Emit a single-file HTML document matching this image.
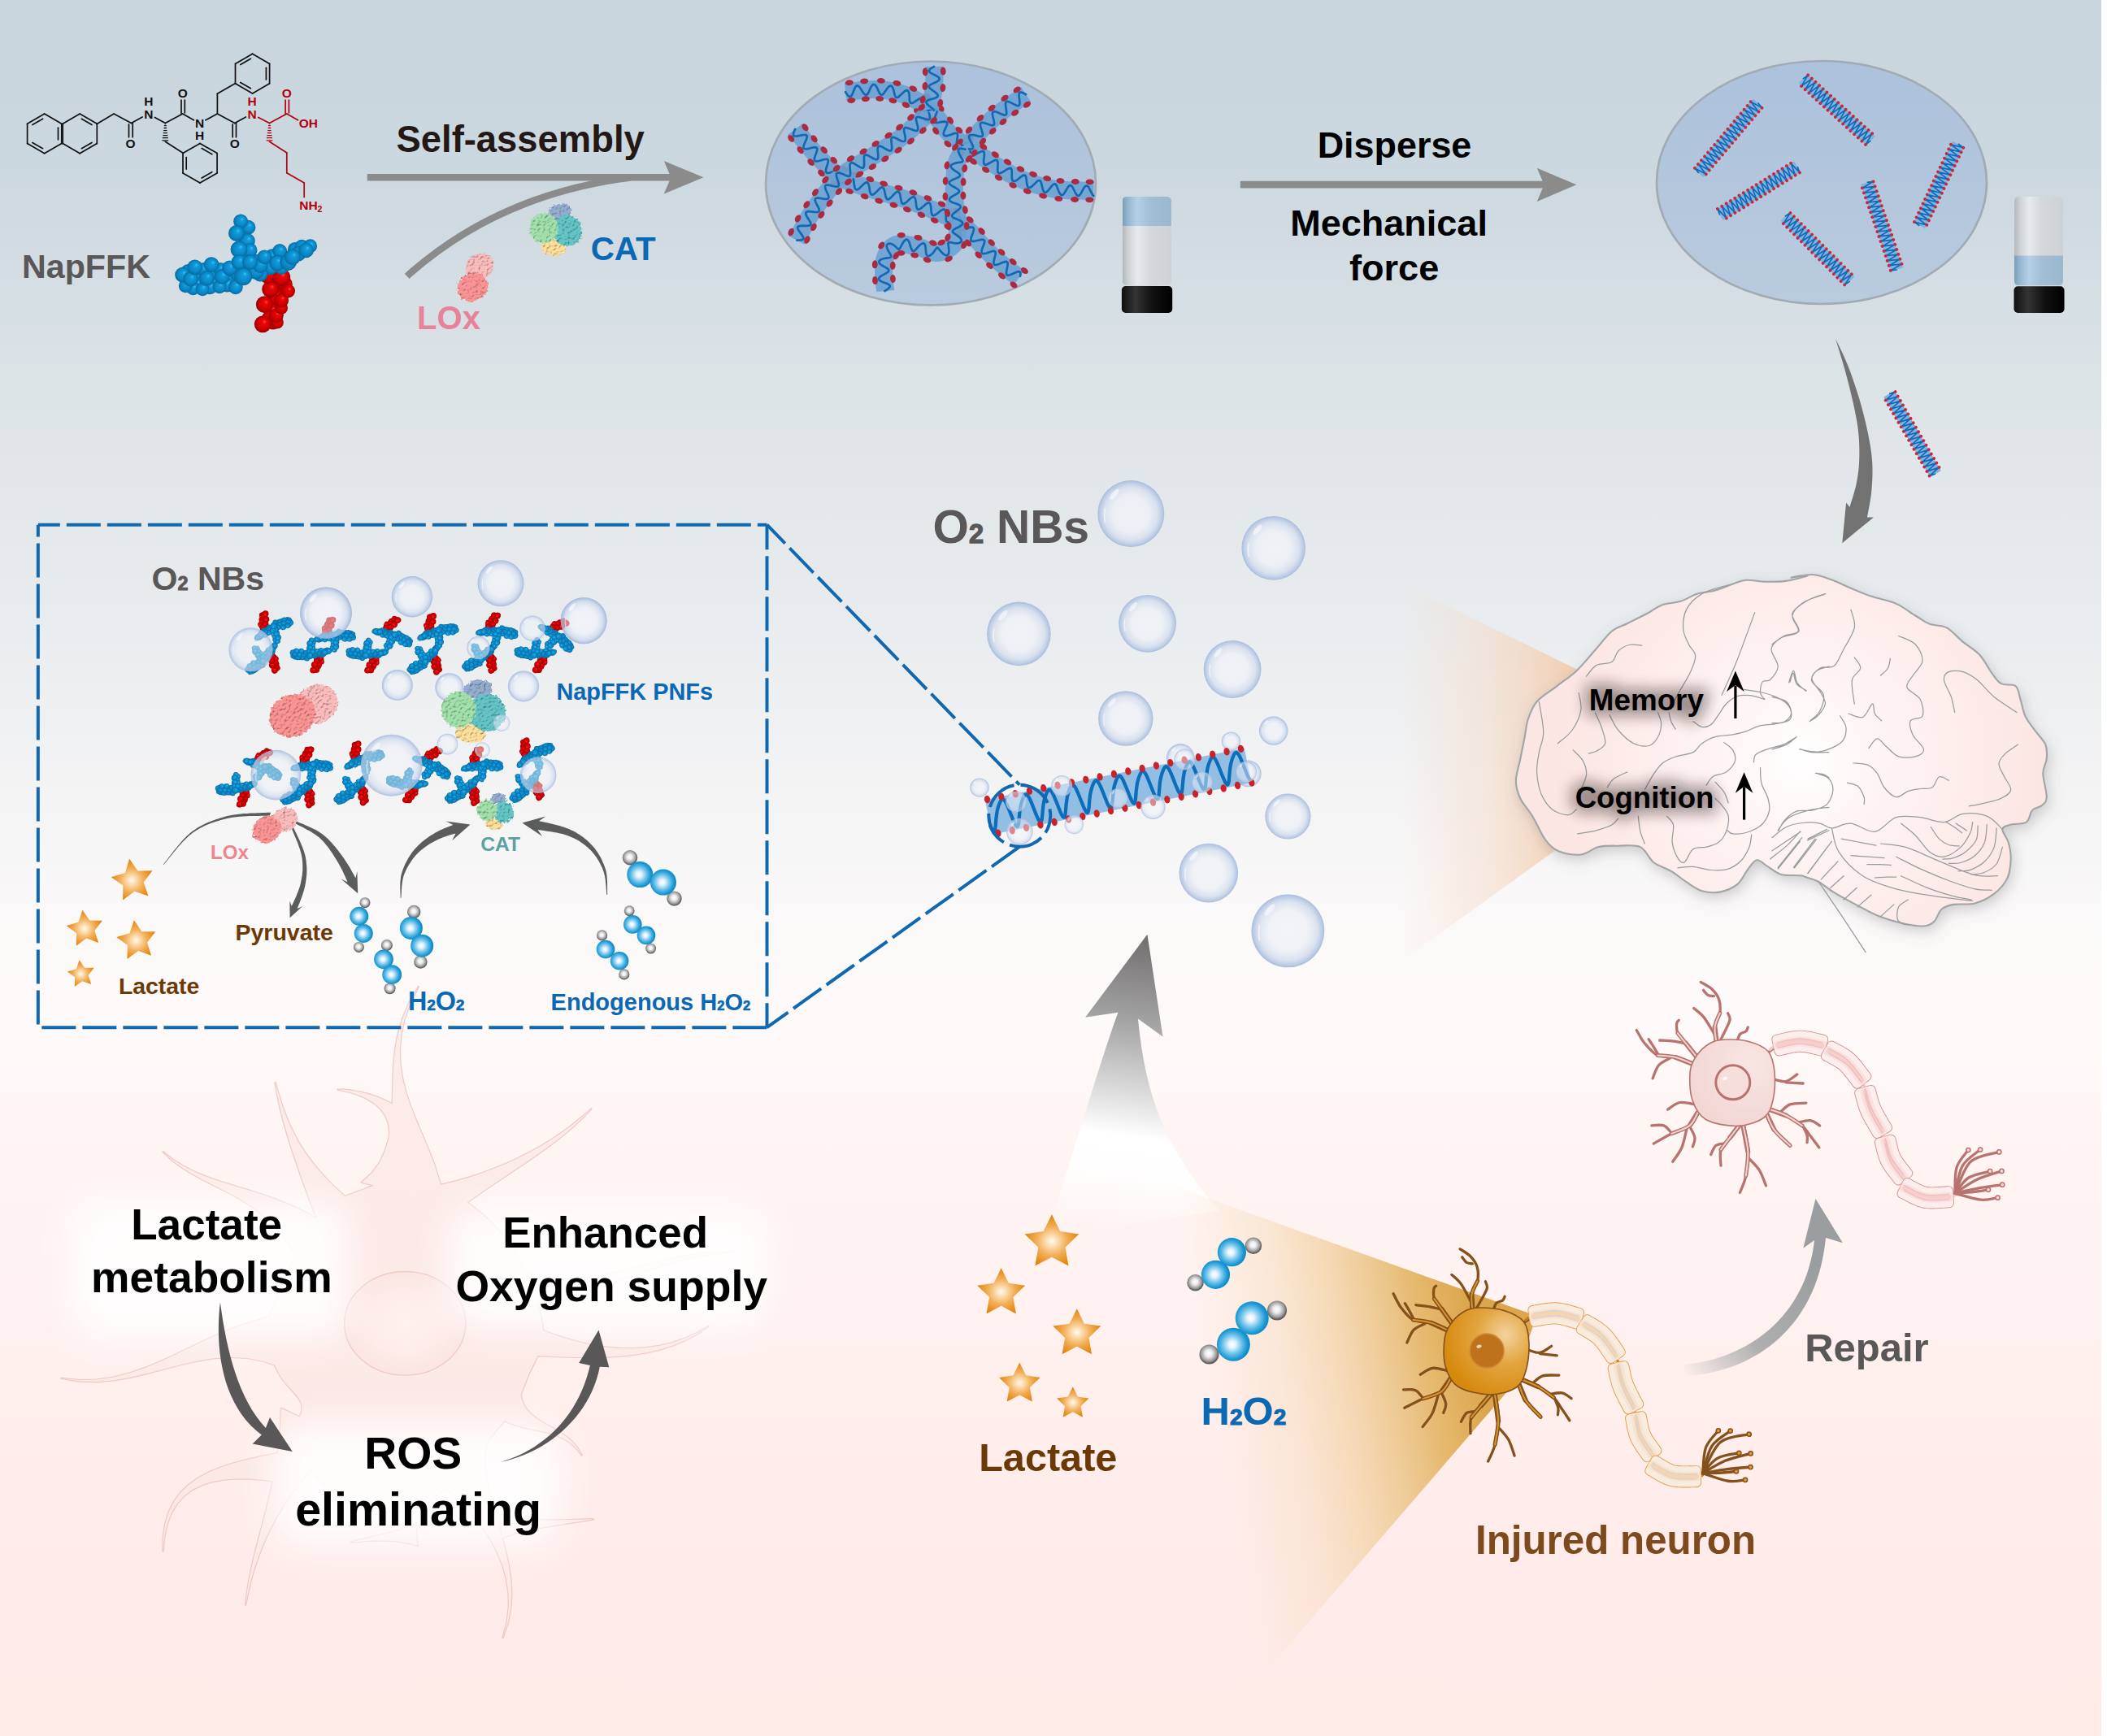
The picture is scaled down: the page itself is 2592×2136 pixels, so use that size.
<!DOCTYPE html>
<html><head><meta charset="utf-8"><title>Schematic</title>
<style>html,body{margin:0;padding:0;background:#fff;}svg{display:block;}text{font-family:"Liberation Sans",sans-serif;font-weight:bold;}</style>
</head><body>
<svg width="2592" height="2136" viewBox="0 0 2592 2136">
<defs>
<linearGradient id="bg" x1="0" y1="0" x2="0" y2="1">
<stop offset="0" stop-color="#c8d5dd"/>
<stop offset="0.10" stop-color="#ccd8df"/>
<stop offset="0.22" stop-color="#dce3e7"/>
<stop offset="0.33" stop-color="#e6eaed"/>
<stop offset="0.45" stop-color="#f3f3f4"/>
<stop offset="0.52" stop-color="#faf8f8"/>
<stop offset="0.59" stop-color="#fefaf9"/>
<stop offset="0.655" stop-color="#fff5f3"/>
<stop offset="0.745" stop-color="#fff2f0"/>
<stop offset="0.843" stop-color="#ffedeb"/>
<stop offset="1" stop-color="#ffeae8"/>
</linearGradient>
<radialGradient id="gnuc"><stop offset="0" stop-color="#fef1ef"/><stop offset="0.6" stop-color="#fdebe8"/><stop offset="1" stop-color="#fbe1de"/></radialGradient><filter id="wgl" x="-20%" y="-30%" width="140%" height="160%"><feGaussianBlur stdDeviation="20"/></filter>
<filter id="gsoft" x="-5%" y="-5%" width="110%" height="110%"><feGaussianBlur stdDeviation="0.5"/></filter>
<radialGradient id="sb" cx="0.5" cy="0.5" r="0.5" fx="0.62" fy="0.33">
<stop offset="0" stop-color="#3cc0f5"/><stop offset="0.25" stop-color="#119bdc"/><stop offset="0.7" stop-color="#0a86c6"/><stop offset="1" stop-color="#066a9f"/></radialGradient>
<radialGradient id="sr" cx="0.5" cy="0.5" r="0.5" fx="0.62" fy="0.33">
<stop offset="0" stop-color="#ff4a3c"/><stop offset="0.25" stop-color="#ea0606"/><stop offset="0.7" stop-color="#cf0000"/><stop offset="1" stop-color="#990000"/></radialGradient>
<g id="molg"><circle cx="15.7" cy="18.8" r="9.9" fill="url(#sr)"/><circle cx="24.0" cy="25.1" r="9.9" fill="url(#sr)"/><circle cx="18.8" cy="36.5" r="9.9" fill="url(#sr)"/><circle cx="14.6" cy="54.3" r="9.4" fill="url(#sr)"/><circle cx="11.5" cy="62.7" r="9.4" fill="url(#sr)"/><circle cx="30.3" cy="20.9" r="9.4" fill="url(#sr)"/><circle cx="15.7" cy="67.9" r="8.9" fill="url(#sr)"/><circle cx="20.9" cy="67.9" r="7.8" fill="url(#sr)"/><circle cx="3.1" cy="70.0" r="10.4" fill="url(#sr)"/><circle cx="19.8" cy="59.5" r="8.9" fill="url(#sr)"/><circle cx="5.2" cy="45.9" r="10.4" fill="url(#sr)"/><circle cx="26.1" cy="50.1" r="7.8" fill="url(#sr)"/><circle cx="26.1" cy="40.7" r="8.9" fill="url(#sr)"/><circle cx="34.5" cy="29.2" r="8.4" fill="url(#sr)"/><circle cx="12.5" cy="27.1" r="10.4" fill="url(#sr)"/><circle cx="9.4" cy="10.4" r="9.9" fill="url(#sr)"/><circle cx="26.1" cy="12.5" r="11.0" fill="url(#sr)"/><circle cx="-76.2" cy="11.5" r="9.4" fill="url(#sb)"/><circle cx="-56.4" cy="8.4" r="9.4" fill="url(#sb)"/><circle cx="-37.6" cy="14.6" r="9.4" fill="url(#sb)"/><circle cx="-57.4" cy="20.9" r="8.9" fill="url(#sb)"/><circle cx="-78.3" cy="20.9" r="8.9" fill="url(#sb)"/><circle cx="-28.2" cy="7.3" r="9.9" fill="url(#sb)"/><circle cx="-15.7" cy="3.1" r="9.9" fill="url(#sb)"/><circle cx="-7.3" cy="-6.3" r="9.9" fill="url(#sb)"/><circle cx="-19.8" cy="-15.7" r="9.4" fill="url(#sb)"/><circle cx="-20.9" cy="-39.7" r="8.9" fill="url(#sb)"/><circle cx="-19.8" cy="-26.1" r="9.4" fill="url(#sb)"/><circle cx="10.4" cy="-9.4" r="9.4" fill="url(#sb)"/><circle cx="14.6" cy="-13.6" r="8.9" fill="url(#sb)"/><circle cx="28.2" cy="-11.5" r="9.9" fill="url(#sb)"/><circle cx="42.8" cy="-21.9" r="8.9" fill="url(#sb)"/><circle cx="51.2" cy="-25.1" r="8.9" fill="url(#sb)"/><circle cx="12.5" cy="0.0" r="9.4" fill="url(#sb)"/><circle cx="26.1" cy="0.0" r="8.9" fill="url(#sb)"/><circle cx="0.0" cy="8.4" r="9.4" fill="url(#sb)"/><circle cx="-88.8" cy="5.2" r="8.9" fill="url(#sb)"/><circle cx="-70.0" cy="3.1" r="8.9" fill="url(#sb)"/><circle cx="-49.1" cy="3.1" r="8.9" fill="url(#sb)"/><circle cx="-40.7" cy="21.9" r="8.9" fill="url(#sb)"/><circle cx="-61.6" cy="25.1" r="8.4" fill="url(#sb)"/><circle cx="-82.5" cy="26.1" r="8.4" fill="url(#sb)"/><circle cx="-91.9" cy="23.0" r="8.4" fill="url(#sb)"/><circle cx="-71.0" cy="27.1" r="8.4" fill="url(#sb)"/><circle cx="-50.1" cy="24.0" r="8.4" fill="url(#sb)"/><circle cx="-30.3" cy="24.5" r="8.9" fill="url(#sb)"/><circle cx="-95.5" cy="9.4" r="9.4" fill="url(#sb)"/><circle cx="-85.6" cy="14.6" r="9.4" fill="url(#sb)"/><circle cx="-65.8" cy="13.6" r="9.4" fill="url(#sb)"/><circle cx="-47.0" cy="11.5" r="9.4" fill="url(#sb)"/><circle cx="-80.4" cy="0.0" r="9.4" fill="url(#sb)"/><circle cx="-60.0" cy="-3.1" r="9.4" fill="url(#sb)"/><circle cx="-37.6" cy="1.0" r="9.4" fill="url(#sb)"/><circle cx="-14.6" cy="-49.1" r="8.9" fill="url(#sb)"/><circle cx="-24.0" cy="-56.4" r="8.9" fill="url(#sb)"/><circle cx="-15.7" cy="-32.4" r="9.4" fill="url(#sb)"/><circle cx="-29.2" cy="-41.8" r="9.9" fill="url(#sb)"/><circle cx="-12.5" cy="-20.9" r="8.9" fill="url(#sb)"/><circle cx="-26.1" cy="-21.9" r="10.4" fill="url(#sb)"/><circle cx="-26.1" cy="-6.3" r="9.4" fill="url(#sb)"/><circle cx="-5.2" cy="5.2" r="9.9" fill="url(#sb)"/><circle cx="0.0" cy="-2.1" r="9.4" fill="url(#sb)"/><circle cx="5.2" cy="-12.5" r="8.9" fill="url(#sb)"/><circle cx="-12.5" cy="-6.3" r="9.4" fill="url(#sb)"/><circle cx="-20.9" cy="11.5" r="11.0" fill="url(#sb)"/><circle cx="24.0" cy="-19.8" r="8.9" fill="url(#sb)"/><circle cx="20.9" cy="-5.2" r="9.9" fill="url(#sb)"/><circle cx="61.6" cy="-26.1" r="8.4" fill="url(#sb)"/><circle cx="47.0" cy="-16.7" r="9.4" fill="url(#sb)"/><circle cx="56.4" cy="-20.9" r="9.4" fill="url(#sb)"/><circle cx="34.5" cy="-6.3" r="10.4" fill="url(#sb)"/><circle cx="39.7" cy="-12.5" r="9.9" fill="url(#sb)"/></g>
<g id="molm"><circle cx="15.7" cy="18.8" r="12.9" fill="url(#sr)"/><circle cx="24.0" cy="25.1" r="12.9" fill="url(#sr)"/><circle cx="18.8" cy="36.5" r="12.9" fill="url(#sr)"/><circle cx="14.6" cy="54.3" r="12.2" fill="url(#sr)"/><circle cx="11.5" cy="62.7" r="12.2" fill="url(#sr)"/><circle cx="30.3" cy="20.9" r="12.2" fill="url(#sr)"/><circle cx="15.7" cy="67.9" r="11.5" fill="url(#sr)"/><circle cx="20.9" cy="67.9" r="10.2" fill="url(#sr)"/><circle cx="3.1" cy="70.0" r="13.6" fill="url(#sr)"/><circle cx="19.8" cy="59.5" r="11.5" fill="url(#sr)"/><circle cx="5.2" cy="45.9" r="13.6" fill="url(#sr)"/><circle cx="26.1" cy="50.1" r="10.2" fill="url(#sr)"/><circle cx="26.1" cy="40.7" r="11.5" fill="url(#sr)"/><circle cx="34.5" cy="29.2" r="10.9" fill="url(#sr)"/><circle cx="12.5" cy="27.1" r="13.6" fill="url(#sr)"/><circle cx="9.4" cy="10.4" r="12.9" fill="url(#sr)"/><circle cx="26.1" cy="12.5" r="14.3" fill="url(#sr)"/><circle cx="-76.2" cy="11.5" r="12.2" fill="url(#sb)"/><circle cx="-56.4" cy="8.4" r="12.2" fill="url(#sb)"/><circle cx="-37.6" cy="14.6" r="12.2" fill="url(#sb)"/><circle cx="-57.4" cy="20.9" r="11.5" fill="url(#sb)"/><circle cx="-78.3" cy="20.9" r="11.5" fill="url(#sb)"/><circle cx="-28.2" cy="7.3" r="12.9" fill="url(#sb)"/><circle cx="-15.7" cy="3.1" r="12.9" fill="url(#sb)"/><circle cx="-7.3" cy="-6.3" r="12.9" fill="url(#sb)"/><circle cx="-19.8" cy="-15.7" r="12.2" fill="url(#sb)"/><circle cx="-20.9" cy="-39.7" r="11.5" fill="url(#sb)"/><circle cx="-19.8" cy="-26.1" r="12.2" fill="url(#sb)"/><circle cx="10.4" cy="-9.4" r="12.2" fill="url(#sb)"/><circle cx="14.6" cy="-13.6" r="11.5" fill="url(#sb)"/><circle cx="28.2" cy="-11.5" r="12.9" fill="url(#sb)"/><circle cx="42.8" cy="-21.9" r="11.5" fill="url(#sb)"/><circle cx="51.2" cy="-25.1" r="11.5" fill="url(#sb)"/><circle cx="12.5" cy="0.0" r="12.2" fill="url(#sb)"/><circle cx="26.1" cy="0.0" r="11.5" fill="url(#sb)"/><circle cx="0.0" cy="8.4" r="12.2" fill="url(#sb)"/><circle cx="-88.8" cy="5.2" r="11.5" fill="url(#sb)"/><circle cx="-70.0" cy="3.1" r="11.5" fill="url(#sb)"/><circle cx="-49.1" cy="3.1" r="11.5" fill="url(#sb)"/><circle cx="-40.7" cy="21.9" r="11.5" fill="url(#sb)"/><circle cx="-61.6" cy="25.1" r="10.9" fill="url(#sb)"/><circle cx="-82.5" cy="26.1" r="10.9" fill="url(#sb)"/><circle cx="-91.9" cy="23.0" r="10.9" fill="url(#sb)"/><circle cx="-71.0" cy="27.1" r="10.9" fill="url(#sb)"/><circle cx="-50.1" cy="24.0" r="10.9" fill="url(#sb)"/><circle cx="-30.3" cy="24.5" r="11.5" fill="url(#sb)"/><circle cx="-95.5" cy="9.4" r="12.2" fill="url(#sb)"/><circle cx="-85.6" cy="14.6" r="12.2" fill="url(#sb)"/><circle cx="-65.8" cy="13.6" r="12.2" fill="url(#sb)"/><circle cx="-47.0" cy="11.5" r="12.2" fill="url(#sb)"/><circle cx="-80.4" cy="0.0" r="12.2" fill="url(#sb)"/><circle cx="-60.0" cy="-3.1" r="12.2" fill="url(#sb)"/><circle cx="-37.6" cy="1.0" r="12.2" fill="url(#sb)"/><circle cx="-14.6" cy="-49.1" r="11.5" fill="url(#sb)"/><circle cx="-24.0" cy="-56.4" r="11.5" fill="url(#sb)"/><circle cx="-15.7" cy="-32.4" r="12.2" fill="url(#sb)"/><circle cx="-29.2" cy="-41.8" r="12.9" fill="url(#sb)"/><circle cx="-12.5" cy="-20.9" r="11.5" fill="url(#sb)"/><circle cx="-26.1" cy="-21.9" r="13.6" fill="url(#sb)"/><circle cx="-26.1" cy="-6.3" r="12.2" fill="url(#sb)"/><circle cx="-5.2" cy="5.2" r="12.9" fill="url(#sb)"/><circle cx="0.0" cy="-2.1" r="12.2" fill="url(#sb)"/><circle cx="5.2" cy="-12.5" r="11.5" fill="url(#sb)"/><circle cx="-12.5" cy="-6.3" r="12.2" fill="url(#sb)"/><circle cx="-20.9" cy="11.5" r="14.3" fill="url(#sb)"/><circle cx="24.0" cy="-19.8" r="11.5" fill="url(#sb)"/><circle cx="20.9" cy="-5.2" r="12.9" fill="url(#sb)"/><circle cx="61.6" cy="-26.1" r="10.9" fill="url(#sb)"/><circle cx="47.0" cy="-16.7" r="12.2" fill="url(#sb)"/><circle cx="56.4" cy="-20.9" r="12.2" fill="url(#sb)"/><circle cx="34.5" cy="-6.3" r="13.6" fill="url(#sb)"/><circle cx="39.7" cy="-12.5" r="12.9" fill="url(#sb)"/></g>
<linearGradient id="ell" x1="0" y1="0" x2="0" y2="1"><stop offset="0" stop-color="#acc1db"/><stop offset="1" stop-color="#b9cbde"/></linearGradient>
<linearGradient id="vg" x1="0" y1="0" x2="1" y2="0"><stop offset="0" stop-color="#b4b8bb"/><stop offset="0.12" stop-color="#cfd3d6"/><stop offset="0.3" stop-color="#e8ebee"/><stop offset="0.55" stop-color="#d6d9dc"/><stop offset="1" stop-color="#ced2d5"/></linearGradient>
<linearGradient id="vb" x1="0" y1="0" x2="1" y2="0"><stop offset="0" stop-color="#7b9fb8"/><stop offset="0.12" stop-color="#98b8d0"/><stop offset="0.3" stop-color="#b4d0e6"/><stop offset="0.55" stop-color="#a2bfd6"/><stop offset="1" stop-color="#9bb7cd"/></linearGradient>
<linearGradient id="vc" x1="0" y1="0" x2="1" y2="0"><stop offset="0" stop-color="#0e0e0e"/><stop offset="0.27" stop-color="#343434"/><stop offset="0.6" stop-color="#111"/><stop offset="1" stop-color="#000"/></linearGradient>
<clipPath id="v1"><rect x="1380.7" y="242" width="60.2" height="109" rx="5.2"/></clipPath>
<clipPath id="v2"><rect x="2478" y="242" width="60.2" height="109" rx="5.2"/></clipPath>
<radialGradient id="bub" cx="0.5" cy="0.5" r="0.5">
<stop offset="0" stop-color="#f1f3f7" stop-opacity="0.85"/>
<stop offset="0.55" stop-color="#eef1f6" stop-opacity="0.85"/>
<stop offset="0.8" stop-color="#d7e0ee" stop-opacity="0.88"/>
<stop offset="0.93" stop-color="#b9cae4" stop-opacity="0.92"/>
<stop offset="1" stop-color="#a3b9dc" stop-opacity="0.95"/></radialGradient>
<radialGradient id="bubt" cx="0.5" cy="0.5" r="0.5">
<stop offset="0" stop-color="#f3f5f9" stop-opacity="0.48"/>
<stop offset="0.6" stop-color="#eef1f7" stop-opacity="0.48"/>
<stop offset="0.85" stop-color="#d0dbee" stop-opacity="0.65"/>
<stop offset="1" stop-color="#a3b9dc" stop-opacity="0.85"/></radialGradient>
<g id="bb"><circle r="1" fill="url(#bub)"/><ellipse cx="-0.5" cy="-0.58" rx="0.2" ry="0.075" fill="#fff" fill-opacity="0.55" transform="rotate(-50 -0.5 -0.58)"/><path d="M-0.78 -0.15 Q-0.82 0.05 -0.78 0.25" stroke="#fff" stroke-opacity="0.6" stroke-width="0.04" fill="none" stroke-linecap="round"/></g>
<g id="bt"><circle r="1" fill="url(#bubt)"/><ellipse cx="-0.5" cy="-0.58" rx="0.2" ry="0.075" fill="#fff" fill-opacity="0.5" transform="rotate(-50 -0.5 -0.58)"/><path d="M-0.78 -0.15 Q-0.82 0.05 -0.78 0.25" stroke="#fff" stroke-opacity="0.55" stroke-width="0.04" fill="none" stroke-linecap="round"/></g>
<linearGradient id="beam1" gradientUnits="userSpaceOnUse" x1="1725" y1="0" x2="1930" y2="0"><stop offset="0" stop-color="#f5d8c2" stop-opacity="0"/><stop offset="0.5" stop-color="#f5d8c2" stop-opacity="0.45"/><stop offset="1" stop-color="#f2cdb0" stop-opacity="0.92"/></linearGradient>
<linearGradient id="garr" gradientUnits="userSpaceOnUse" x1="1420" y1="1150" x2="1370" y2="1515"><stop offset="0" stop-color="#6f6c6c"/><stop offset="0.3" stop-color="#a5a4a4"/><stop offset="0.5" stop-color="#d4d4d4"/><stop offset="0.68" stop-color="#ffffff"/><stop offset="0.8" stop-color="#ffffff" stop-opacity="0.9"/><stop offset="1" stop-color="#ffffff" stop-opacity="0"/></linearGradient>
<filter id="bump" x="-15%" y="-15%" width="130%" height="130%" color-interpolation-filters="sRGB">
<feTurbulence type="fractalNoise" baseFrequency="0.3" numOctaves="2" seed="4" result="n"/>
<feDisplacementMap in="SourceGraphic" in2="n" scale="6" xChannelSelector="R" yChannelSelector="G" result="d"/>
<feDiffuseLighting in="n" surfaceScale="1.6" diffuseConstant="1.18" lighting-color="#ffffff" result="l"><feDistantLight azimuth="235" elevation="60"/></feDiffuseLighting>
<feComposite in="l" in2="d" operator="arithmetic" k1="0.85" k2="0" k3="0.2" k4="0" result="m"/>
<feComposite in="m" in2="d" operator="in"/>
</filter>
<radialGradient id="brg" gradientUnits="userSpaceOnUse" cx="2215" cy="935" r="300">
<stop offset="0" stop-color="#ffffff"/><stop offset="0.35" stop-color="#fef4f3"/><stop offset="0.8" stop-color="#fdeae8"/><stop offset="1" stop-color="#fce6e4"/></radialGradient>
<filter id="bsh" x="-10%" y="-10%" width="120%" height="125%"><feGaussianBlur stdDeviation="9"/></filter>
<filter id="tsh" x="-20%" y="-60%" width="140%" height="220%"><feGaussianBlur stdDeviation="9"/></filter>
<linearGradient id="beam2" gradientUnits="userSpaceOnUse" x1="1490" y1="1720" x2="1815" y2="1660"><stop offset="0" stop-color="#f3d6a8" stop-opacity="0"/><stop offset="0.28" stop-color="#f1d0a0" stop-opacity="0.3"/><stop offset="0.55" stop-color="#ecc586" stop-opacity="0.62"/><stop offset="0.8" stop-color="#e4b566" stop-opacity="0.9"/><stop offset="1" stop-color="#dca74c" stop-opacity="1"/></linearGradient>
<radialGradient id="nbA" cx="0.72" cy="0.3" r="0.75"><stop offset="0" stop-color="#f3d39d"/><stop offset="0.45" stop-color="#e3a540"/><stop offset="1" stop-color="#d68a0d"/></radialGradient>
<radialGradient id="nbB" cx="0.7" cy="0.3" r="0.8"><stop offset="0" stop-color="#f8e6e2"/><stop offset="1" stop-color="#f2d5d1"/></radialGradient>
<linearGradient id="rep" gradientUnits="userSpaceOnUse" x1="2070" y1="1690" x2="2230" y2="1560"><stop offset="0" stop-color="#a0a3a4" stop-opacity="0"/><stop offset="0.45" stop-color="#a0a3a4" stop-opacity="0.85"/><stop offset="1" stop-color="#9b9ea0"/></linearGradient>
<radialGradient id="stg" cx="0.5" cy="0.52" r="0.5"><stop offset="0" stop-color="#fffaf3"/><stop offset="0.22" stop-color="#fbdcb0"/><stop offset="0.55" stop-color="#f3b05a"/><stop offset="1" stop-color="#e5850c"/></radialGradient>
<radialGradient id="hb" cx="0.46" cy="0.5" r="0.5"><stop offset="0" stop-color="#ffffff"/><stop offset="0.2" stop-color="#e8f5fc"/><stop offset="0.6" stop-color="#66bfe9"/><stop offset="0.9" stop-color="#1b98d3"/><stop offset="1" stop-color="#128cc8"/></radialGradient>
<radialGradient id="hg" cx="0.48" cy="0.45" r="0.5"><stop offset="0" stop-color="#ffffff"/><stop offset="0.35" stop-color="#ececec"/><stop offset="0.8" stop-color="#9a9a9a"/><stop offset="1" stop-color="#5e5e5e"/></radialGradient>
</defs>
<rect x="0" y="0" width="2585" height="2136" fill="url(#bg)"/>
<g filter="url(#gsoft)" opacity="0.75">
<path d="M547.0 1478.6 L541.1 1454.0 L534.0 1431.8 L526.3 1412.1 L518.6 1394.1 L511.4 1377.0 L504.8 1360.4 L499.3 1343.8 L495.1 1326.9 L492.5 1309.6 L491.8 1291.8 L493.4 1273.5 L497.5 1254.4 L504.6 1234.7 L514.8 1214.0 L514.8 1214.0 L503.2 1234.1 L495.0 1253.7 L489.5 1272.7 L486.1 1291.4 L484.2 1309.7 L483.4 1327.9 L483.0 1345.9 L482.5 1363.8 L481.2 1381.5 L478.6 1398.7 L474.0 1415.2 L467.1 1430.3 L457.4 1443.5 L444.8 1454.9 Z" fill="#fce8e5" stroke="#e9bcb7" stroke-width="2.4" stroke-linejoin="round"/>
<path d="M548.5 1499.8 L561.4 1489.4 L574.7 1479.5 L588.2 1469.9 L601.8 1460.5 L615.4 1451.4 L629.0 1442.3 L642.5 1433.3 L655.8 1424.2 L668.9 1415.0 L681.6 1405.6 L693.9 1395.9 L705.7 1385.8 L716.9 1375.4 L727.4 1364.3 L727.4 1364.3 L716.0 1374.3 L704.1 1383.9 L691.7 1393.1 L678.9 1401.8 L665.6 1410.0 L651.8 1417.6 L637.6 1424.8 L623.1 1431.5 L608.2 1437.6 L593.1 1443.3 L577.6 1448.4 L561.9 1453.0 L546.0 1457.0 L529.8 1460.5 Z" fill="#fce8e5" stroke="#e9bcb7" stroke-width="2.4" stroke-linejoin="round"/>
<path d="M438.1 1483.3 L424.2 1471.9 L411.7 1460.6 L400.6 1449.4 L390.7 1438.3 L382.0 1427.3 L374.3 1416.5 L367.6 1405.7 L361.8 1395.0 L356.7 1384.4 L352.2 1373.9 L348.3 1363.4 L344.9 1353.0 L341.7 1342.6 L338.6 1332.1 L338.6 1332.1 L340.3 1342.9 L342.5 1353.6 L344.9 1364.4 L347.6 1375.4 L350.7 1386.6 L354.0 1398.1 L357.7 1410.1 L361.8 1422.5 L366.3 1435.6 L371.1 1449.5 L376.4 1464.1 L382.2 1479.8 L388.5 1496.5 L395.2 1514.3 Z" fill="#fce8e5" stroke="#e9bcb7" stroke-width="2.4" stroke-linejoin="round"/>
<path d="M417.0 1516.2 L396.4 1503.0 L376.7 1492.1 L358.0 1483.2 L340.4 1476.0 L323.7 1470.1 L307.8 1465.0 L292.6 1460.4 L278.0 1455.9 L264.0 1451.4 L250.4 1446.4 L237.3 1440.8 L224.7 1434.2 L212.5 1426.4 L200.6 1417.2 L200.6 1417.2 L211.6 1427.5 L223.3 1436.3 L235.6 1444.0 L248.3 1451.0 L261.4 1457.6 L274.6 1464.2 L288.0 1471.3 L301.4 1479.1 L314.5 1488.0 L327.3 1498.2 L339.4 1510.1 L350.7 1523.8 L361.1 1539.6 L370.6 1558.0 Z" fill="#fce8e5" stroke="#e9bcb7" stroke-width="2.4" stroke-linejoin="round"/>
<path d="M380.8 1613.5 L350.9 1616.7 L323.6 1622.4 L298.9 1629.8 L276.5 1638.4 L255.6 1647.6 L235.8 1657.1 L216.6 1666.3 L197.6 1675.1 L178.5 1683.0 L159.2 1689.6 L139.4 1694.6 L119.0 1697.6 L97.7 1698.1 L75.4 1695.9 L75.4 1695.9 L97.7 1699.6 L119.1 1700.1 L140.0 1698.4 L160.5 1694.8 L180.8 1690.1 L201.0 1684.7 L221.3 1679.4 L241.8 1674.7 L262.5 1671.3 L283.4 1669.9 L304.2 1670.9 L324.8 1674.9 L344.8 1682.2 L365.1 1693.2 Z" fill="#fce8e5" stroke="#e9bcb7" stroke-width="2.4" stroke-linejoin="round"/>
<path d="M363.8 1784.0 L343.0 1787.8 L323.3 1791.6 L304.7 1795.8 L287.4 1800.3 L271.3 1805.6 L256.7 1811.6 L243.6 1818.7 L232.0 1826.9 L222.2 1836.4 L214.1 1847.4 L207.8 1859.9 L203.4 1874.2 L200.9 1890.3 L200.6 1908.5 L200.6 1908.5 L202.3 1890.5 L205.8 1874.8 L211.0 1861.3 L217.9 1850.0 L226.5 1840.6 L236.5 1833.1 L248.0 1827.4 L260.9 1823.2 L275.1 1820.6 L290.5 1819.4 L307.1 1819.6 L324.8 1821.0 L343.6 1823.7 L363.4 1827.5 Z" fill="#fce8e5" stroke="#e9bcb7" stroke-width="2.4" stroke-linejoin="round"/>
<path d="M345.8 1732.7 L345.3 1753.1 L343.7 1772.8 L341.3 1791.9 L338.2 1810.3 L334.5 1828.2 L330.5 1845.6 L326.2 1862.5 L321.9 1879.1 L317.6 1895.4 L313.5 1911.4 L309.8 1927.3 L306.5 1943.1 L303.9 1958.8 L302.2 1974.6 L302.2 1974.6 L305.3 1959.1 L309.0 1943.6 L313.5 1928.3 L318.7 1913.0 L324.8 1897.8 L331.7 1882.8 L339.6 1867.9 L348.4 1853.2 L358.1 1838.7 L368.9 1824.4 L380.8 1810.3 L393.8 1796.5 L408.0 1782.9 L423.5 1769.5 Z" fill="#fce8e5" stroke="#e9bcb7" stroke-width="2.4" stroke-linejoin="round"/>
<path d="M518.9 1802.8 L533.2 1816.0 L547.0 1828.8 L560.1 1841.3 L572.4 1854.1 L583.9 1867.2 L594.4 1881.0 L603.8 1895.3 L611.8 1910.4 L618.3 1926.2 L622.9 1942.6 L625.5 1959.6 L625.8 1977.3 L623.6 1995.7 L618.7 2014.8 L618.7 2014.8 L625.0 1996.0 L628.4 1977.5 L629.3 1959.5 L628.3 1941.7 L625.6 1924.2 L621.7 1906.9 L617.0 1889.7 L611.9 1872.5 L606.8 1855.3 L602.2 1838.1 L598.6 1821.0 L596.6 1804.1 L596.7 1787.9 L599.4 1772.5 Z" fill="#fce8e5" stroke="#e9bcb7" stroke-width="2.4" stroke-linejoin="round"/>
<path d="M589.2 1725.0 L600.7 1735.6 L612.4 1743.8 L623.6 1749.6 L634.3 1753.6 L644.3 1756.3 L653.8 1758.4 L662.9 1760.3 L671.6 1762.3 L680.1 1764.6 L688.1 1767.6 L695.8 1771.4 L702.9 1776.3 L709.5 1782.6 L715.6 1790.4 L715.6 1790.4 L710.6 1781.7 L704.6 1774.5 L697.8 1768.4 L690.4 1763.3 L682.7 1758.6 L674.8 1754.2 L667.0 1749.8 L659.6 1744.9 L653.0 1739.5 L647.4 1733.3 L643.4 1726.3 L641.1 1718.8 L640.6 1710.6 L641.7 1701.1 Z" fill="#fce8e5" stroke="#e9bcb7" stroke-width="2.4" stroke-linejoin="round"/>
<path d="M627.9 1666.7 L648.6 1667.6 L668.8 1668.5 L688.5 1669.4 L707.6 1669.9 L726.3 1670.1 L744.4 1669.8 L762.0 1668.8 L779.1 1667.0 L795.8 1664.3 L811.9 1660.5 L827.6 1655.6 L842.8 1649.3 L857.4 1641.6 L871.5 1632.1 L871.5 1632.1 L856.7 1640.3 L841.8 1647.0 L826.5 1652.2 L810.8 1656.0 L794.9 1658.3 L778.5 1659.3 L761.9 1659.0 L744.9 1657.5 L727.7 1654.7 L710.2 1650.8 L692.5 1645.7 L674.5 1639.6 L656.4 1632.5 L637.9 1624.4 Z" fill="#fce8e5" stroke="#e9bcb7" stroke-width="2.4" stroke-linejoin="round"/>
<path d="M621.0 1605.3 L644.5 1604.9 L666.7 1602.7 L687.4 1598.8 L707.1 1593.9 L726.1 1588.0 L744.7 1581.6 L763.1 1575.0 L781.6 1568.2 L800.5 1561.6 L819.7 1555.5 L839.6 1550.0 L860.3 1545.4 L881.9 1542.1 L904.6 1540.0 L904.6 1540.0 L881.8 1540.6 L859.9 1543.0 L838.9 1546.5 L818.5 1550.9 L798.7 1555.7 L779.3 1560.5 L760.2 1565.1 L741.3 1569.0 L722.5 1571.8 L703.9 1573.2 L685.4 1572.8 L667.1 1570.3 L649.0 1565.5 L630.8 1558.1 Z" fill="#fce8e5" stroke="#e9bcb7" stroke-width="2.4" stroke-linejoin="round"/>
<path d="M508.4 1375.8 L502.1 1370.8 L495.9 1366.3 L489.6 1362.3 L483.4 1358.7 L477.2 1355.5 L471.0 1352.6 L464.6 1350.0 L458.1 1347.7 L451.5 1345.7 L444.7 1344.0 L437.7 1342.6 L430.5 1341.5 L423.2 1340.8 L415.6 1340.6 L415.6 1340.6 L423.0 1342.2 L430.1 1343.9 L436.9 1345.9 L443.4 1348.3 L449.5 1351.0 L455.2 1354.2 L460.4 1357.7 L465.2 1361.7 L469.3 1366.0 L472.7 1370.7 L475.4 1375.8 L477.4 1381.1 L478.4 1386.6 L478.7 1392.4 Z" fill="#fce8e5" stroke="#e9bcb7" stroke-width="2.4" stroke-linejoin="round"/>
<path d="M617.4 1892.4 L625.3 1889.7 L633.3 1887.3 L641.3 1885.1 L649.3 1883.2 L657.3 1881.4 L665.3 1879.8 L673.4 1878.4 L681.4 1877.0 L689.5 1875.7 L697.5 1874.5 L705.6 1873.3 L713.7 1872.1 L721.7 1870.8 L729.8 1869.3 L729.8 1869.3 L721.6 1869.4 L713.4 1869.6 L705.3 1869.9 L697.2 1870.1 L689.0 1870.3 L680.9 1870.4 L672.7 1870.4 L664.6 1870.2 L656.4 1869.9 L648.2 1869.4 L640.0 1868.7 L631.8 1867.7 L623.6 1866.5 L615.3 1865.1 Z" fill="#fce8e5" stroke="#e9bcb7" stroke-width="2.4" stroke-linejoin="round"/>
<path d="M511.3 1874.5 L506.4 1877.0 L501.3 1879.2 L496.0 1881.2 L490.6 1883.0 L485.0 1884.6 L479.4 1886.1 L473.6 1887.5 L467.8 1888.8 L461.9 1890.1 L456.0 1891.4 L450.0 1892.8 L444.1 1894.2 L438.1 1895.8 L432.1 1897.6 L432.1 1897.6 L438.3 1897.2 L444.5 1896.6 L450.5 1896.1 L456.6 1895.8 L462.6 1895.5 L468.6 1895.4 L474.5 1895.5 L480.3 1895.7 L486.1 1896.2 L491.7 1896.8 L497.3 1897.7 L502.8 1898.8 L508.2 1900.2 L513.5 1901.8 Z" fill="#fce8e5" stroke="#e9bcb7" stroke-width="2.4" stroke-linejoin="round"/>
<path d="M408.5 1480.9 C420.3 1472.3 436.8 1467.6 451.0 1462.0 C465.2 1456.5 479.4 1448.7 493.5 1447.9 C507.7 1447.1 521.1 1451.0 536.1 1457.3 C551.0 1463.6 569.1 1474.6 583.3 1485.7 C597.5 1496.7 610.1 1509.3 621.1 1523.5 C632.1 1537.6 641.6 1551.0 649.4 1570.7 C657.3 1590.4 668.3 1621.1 668.3 1641.6 C668.3 1662.0 655.3 1678.6 649.4 1693.5 C643.5 1708.5 640.0 1719.5 632.9 1731.3 C625.8 1743.1 616.8 1751.8 606.9 1764.4 C597.1 1777.0 589.6 1792.0 573.8 1806.9 C558.1 1821.9 534.5 1846.3 512.4 1854.2 C490.4 1862.0 463.6 1862.0 441.6 1854.2 C419.5 1846.3 392.8 1822.7 380.2 1806.9 C367.6 1791.2 367.6 1773.1 366.0 1759.7 C364.4 1746.3 374.6 1738.4 370.7 1726.6 C366.8 1714.8 349.4 1703.8 342.4 1688.8 C335.3 1673.9 326.6 1656.5 328.2 1636.8 C329.8 1617.2 343.1 1591.2 351.8 1570.7 C360.5 1550.2 370.7 1529.0 380.2 1514.0 C389.6 1499.1 396.7 1489.6 408.5 1480.9 Z" fill="#fce8e5" stroke="#e9bcb7" stroke-width="2.4" stroke-linejoin="round"/>
<path d="M547.0 1478.6 L541.1 1454.0 L534.0 1431.8 L526.3 1412.1 L518.6 1394.1 L511.4 1377.0 L504.8 1360.4 L499.3 1343.8 L495.1 1326.9 L492.5 1309.6 L491.8 1291.8 L493.4 1273.5 L497.5 1254.4 L504.6 1234.7 L514.8 1214.0 L514.8 1214.0 L503.2 1234.1 L495.0 1253.7 L489.5 1272.7 L486.1 1291.4 L484.2 1309.7 L483.4 1327.9 L483.0 1345.9 L482.5 1363.8 L481.2 1381.5 L478.6 1398.7 L474.0 1415.2 L467.1 1430.3 L457.4 1443.5 L444.8 1454.9 Z" fill="#fce8e5"/>
<path d="M548.5 1499.8 L561.4 1489.4 L574.7 1479.5 L588.2 1469.9 L601.8 1460.5 L615.4 1451.4 L629.0 1442.3 L642.5 1433.3 L655.8 1424.2 L668.9 1415.0 L681.6 1405.6 L693.9 1395.9 L705.7 1385.8 L716.9 1375.4 L727.4 1364.3 L727.4 1364.3 L716.0 1374.3 L704.1 1383.9 L691.7 1393.1 L678.9 1401.8 L665.6 1410.0 L651.8 1417.6 L637.6 1424.8 L623.1 1431.5 L608.2 1437.6 L593.1 1443.3 L577.6 1448.4 L561.9 1453.0 L546.0 1457.0 L529.8 1460.5 Z" fill="#fce8e5"/>
<path d="M438.1 1483.3 L424.2 1471.9 L411.7 1460.6 L400.6 1449.4 L390.7 1438.3 L382.0 1427.3 L374.3 1416.5 L367.6 1405.7 L361.8 1395.0 L356.7 1384.4 L352.2 1373.9 L348.3 1363.4 L344.9 1353.0 L341.7 1342.6 L338.6 1332.1 L338.6 1332.1 L340.3 1342.9 L342.5 1353.6 L344.9 1364.4 L347.6 1375.4 L350.7 1386.6 L354.0 1398.1 L357.7 1410.1 L361.8 1422.5 L366.3 1435.6 L371.1 1449.5 L376.4 1464.1 L382.2 1479.8 L388.5 1496.5 L395.2 1514.3 Z" fill="#fce8e5"/>
<path d="M417.0 1516.2 L396.4 1503.0 L376.7 1492.1 L358.0 1483.2 L340.4 1476.0 L323.7 1470.1 L307.8 1465.0 L292.6 1460.4 L278.0 1455.9 L264.0 1451.4 L250.4 1446.4 L237.3 1440.8 L224.7 1434.2 L212.5 1426.4 L200.6 1417.2 L200.6 1417.2 L211.6 1427.5 L223.3 1436.3 L235.6 1444.0 L248.3 1451.0 L261.4 1457.6 L274.6 1464.2 L288.0 1471.3 L301.4 1479.1 L314.5 1488.0 L327.3 1498.2 L339.4 1510.1 L350.7 1523.8 L361.1 1539.6 L370.6 1558.0 Z" fill="#fce8e5"/>
<path d="M380.8 1613.5 L350.9 1616.7 L323.6 1622.4 L298.9 1629.8 L276.5 1638.4 L255.6 1647.6 L235.8 1657.1 L216.6 1666.3 L197.6 1675.1 L178.5 1683.0 L159.2 1689.6 L139.4 1694.6 L119.0 1697.6 L97.7 1698.1 L75.4 1695.9 L75.4 1695.9 L97.7 1699.6 L119.1 1700.1 L140.0 1698.4 L160.5 1694.8 L180.8 1690.1 L201.0 1684.7 L221.3 1679.4 L241.8 1674.7 L262.5 1671.3 L283.4 1669.9 L304.2 1670.9 L324.8 1674.9 L344.8 1682.2 L365.1 1693.2 Z" fill="#fce8e5"/>
<path d="M363.8 1784.0 L343.0 1787.8 L323.3 1791.6 L304.7 1795.8 L287.4 1800.3 L271.3 1805.6 L256.7 1811.6 L243.6 1818.7 L232.0 1826.9 L222.2 1836.4 L214.1 1847.4 L207.8 1859.9 L203.4 1874.2 L200.9 1890.3 L200.6 1908.5 L200.6 1908.5 L202.3 1890.5 L205.8 1874.8 L211.0 1861.3 L217.9 1850.0 L226.5 1840.6 L236.5 1833.1 L248.0 1827.4 L260.9 1823.2 L275.1 1820.6 L290.5 1819.4 L307.1 1819.6 L324.8 1821.0 L343.6 1823.7 L363.4 1827.5 Z" fill="#fce8e5"/>
<path d="M345.8 1732.7 L345.3 1753.1 L343.7 1772.8 L341.3 1791.9 L338.2 1810.3 L334.5 1828.2 L330.5 1845.6 L326.2 1862.5 L321.9 1879.1 L317.6 1895.4 L313.5 1911.4 L309.8 1927.3 L306.5 1943.1 L303.9 1958.8 L302.2 1974.6 L302.2 1974.6 L305.3 1959.1 L309.0 1943.6 L313.5 1928.3 L318.7 1913.0 L324.8 1897.8 L331.7 1882.8 L339.6 1867.9 L348.4 1853.2 L358.1 1838.7 L368.9 1824.4 L380.8 1810.3 L393.8 1796.5 L408.0 1782.9 L423.5 1769.5 Z" fill="#fce8e5"/>
<path d="M518.9 1802.8 L533.2 1816.0 L547.0 1828.8 L560.1 1841.3 L572.4 1854.1 L583.9 1867.2 L594.4 1881.0 L603.8 1895.3 L611.8 1910.4 L618.3 1926.2 L622.9 1942.6 L625.5 1959.6 L625.8 1977.3 L623.6 1995.7 L618.7 2014.8 L618.7 2014.8 L625.0 1996.0 L628.4 1977.5 L629.3 1959.5 L628.3 1941.7 L625.6 1924.2 L621.7 1906.9 L617.0 1889.7 L611.9 1872.5 L606.8 1855.3 L602.2 1838.1 L598.6 1821.0 L596.6 1804.1 L596.7 1787.9 L599.4 1772.5 Z" fill="#fce8e5"/>
<path d="M589.2 1725.0 L600.7 1735.6 L612.4 1743.8 L623.6 1749.6 L634.3 1753.6 L644.3 1756.3 L653.8 1758.4 L662.9 1760.3 L671.6 1762.3 L680.1 1764.6 L688.1 1767.6 L695.8 1771.4 L702.9 1776.3 L709.5 1782.6 L715.6 1790.4 L715.6 1790.4 L710.6 1781.7 L704.6 1774.5 L697.8 1768.4 L690.4 1763.3 L682.7 1758.6 L674.8 1754.2 L667.0 1749.8 L659.6 1744.9 L653.0 1739.5 L647.4 1733.3 L643.4 1726.3 L641.1 1718.8 L640.6 1710.6 L641.7 1701.1 Z" fill="#fce8e5"/>
<path d="M627.9 1666.7 L648.6 1667.6 L668.8 1668.5 L688.5 1669.4 L707.6 1669.9 L726.3 1670.1 L744.4 1669.8 L762.0 1668.8 L779.1 1667.0 L795.8 1664.3 L811.9 1660.5 L827.6 1655.6 L842.8 1649.3 L857.4 1641.6 L871.5 1632.1 L871.5 1632.1 L856.7 1640.3 L841.8 1647.0 L826.5 1652.2 L810.8 1656.0 L794.9 1658.3 L778.5 1659.3 L761.9 1659.0 L744.9 1657.5 L727.7 1654.7 L710.2 1650.8 L692.5 1645.7 L674.5 1639.6 L656.4 1632.5 L637.9 1624.4 Z" fill="#fce8e5"/>
<path d="M621.0 1605.3 L644.5 1604.9 L666.7 1602.7 L687.4 1598.8 L707.1 1593.9 L726.1 1588.0 L744.7 1581.6 L763.1 1575.0 L781.6 1568.2 L800.5 1561.6 L819.7 1555.5 L839.6 1550.0 L860.3 1545.4 L881.9 1542.1 L904.6 1540.0 L904.6 1540.0 L881.8 1540.6 L859.9 1543.0 L838.9 1546.5 L818.5 1550.9 L798.7 1555.7 L779.3 1560.5 L760.2 1565.1 L741.3 1569.0 L722.5 1571.8 L703.9 1573.2 L685.4 1572.8 L667.1 1570.3 L649.0 1565.5 L630.8 1558.1 Z" fill="#fce8e5"/>
<path d="M508.4 1375.8 L502.1 1370.8 L495.9 1366.3 L489.6 1362.3 L483.4 1358.7 L477.2 1355.5 L471.0 1352.6 L464.6 1350.0 L458.1 1347.7 L451.5 1345.7 L444.7 1344.0 L437.7 1342.6 L430.5 1341.5 L423.2 1340.8 L415.6 1340.6 L415.6 1340.6 L423.0 1342.2 L430.1 1343.9 L436.9 1345.9 L443.4 1348.3 L449.5 1351.0 L455.2 1354.2 L460.4 1357.7 L465.2 1361.7 L469.3 1366.0 L472.7 1370.7 L475.4 1375.8 L477.4 1381.1 L478.4 1386.6 L478.7 1392.4 Z" fill="#fce8e5"/>
<path d="M617.4 1892.4 L625.3 1889.7 L633.3 1887.3 L641.3 1885.1 L649.3 1883.2 L657.3 1881.4 L665.3 1879.8 L673.4 1878.4 L681.4 1877.0 L689.5 1875.7 L697.5 1874.5 L705.6 1873.3 L713.7 1872.1 L721.7 1870.8 L729.8 1869.3 L729.8 1869.3 L721.6 1869.4 L713.4 1869.6 L705.3 1869.9 L697.2 1870.1 L689.0 1870.3 L680.9 1870.4 L672.7 1870.4 L664.6 1870.2 L656.4 1869.9 L648.2 1869.4 L640.0 1868.7 L631.8 1867.7 L623.6 1866.5 L615.3 1865.1 Z" fill="#fce8e5"/>
<path d="M511.3 1874.5 L506.4 1877.0 L501.3 1879.2 L496.0 1881.2 L490.6 1883.0 L485.0 1884.6 L479.4 1886.1 L473.6 1887.5 L467.8 1888.8 L461.9 1890.1 L456.0 1891.4 L450.0 1892.8 L444.1 1894.2 L438.1 1895.8 L432.1 1897.6 L432.1 1897.6 L438.3 1897.2 L444.5 1896.6 L450.5 1896.1 L456.6 1895.8 L462.6 1895.5 L468.6 1895.4 L474.5 1895.5 L480.3 1895.7 L486.1 1896.2 L491.7 1896.8 L497.3 1897.7 L502.8 1898.8 L508.2 1900.2 L513.5 1901.8 Z" fill="#fce8e5"/>
<path d="M408.5 1480.9 C420.3 1472.3 436.8 1467.6 451.0 1462.0 C465.2 1456.5 479.4 1448.7 493.5 1447.9 C507.7 1447.1 521.1 1451.0 536.1 1457.3 C551.0 1463.6 569.1 1474.6 583.3 1485.7 C597.5 1496.7 610.1 1509.3 621.1 1523.5 C632.1 1537.6 641.6 1551.0 649.4 1570.7 C657.3 1590.4 668.3 1621.1 668.3 1641.6 C668.3 1662.0 655.3 1678.6 649.4 1693.5 C643.5 1708.5 640.0 1719.5 632.9 1731.3 C625.8 1743.1 616.8 1751.8 606.9 1764.4 C597.1 1777.0 589.6 1792.0 573.8 1806.9 C558.1 1821.9 534.5 1846.3 512.4 1854.2 C490.4 1862.0 463.6 1862.0 441.6 1854.2 C419.5 1846.3 392.8 1822.7 380.2 1806.9 C367.6 1791.2 367.6 1773.1 366.0 1759.7 C364.4 1746.3 374.6 1738.4 370.7 1726.6 C366.8 1714.8 349.4 1703.8 342.4 1688.8 C335.3 1673.9 326.6 1656.5 328.2 1636.8 C329.8 1617.2 343.1 1591.2 351.8 1570.7 C360.5 1550.2 370.7 1529.0 380.2 1514.0 C389.6 1499.1 396.7 1489.6 408.5 1480.9 Z" fill="#fce8e5"/>
<ellipse cx="498.3" cy="1628.3" rx="74.6" ry="63.8" fill="url(#gnuc)" stroke="#e9bcb7" stroke-width="1.3"/></g>
<rect x="85" y="1477" width="345" height="171" rx="40" fill="#fff" fill-opacity="0.88" filter="url(#wgl)"/>
<rect x="550" y="1486" width="395" height="150" rx="40" fill="#fff" fill-opacity="0.88" filter="url(#wgl)"/>
<rect x="335" y="1750" width="355" height="153" rx="40" fill="#fff" fill-opacity="0.88" filter="url(#wgl)"/>
<text x="161.2" y="1525.4" font-size="53.1" fill="#000" text-anchor="start" >Lactate</text>
<text x="112.0" y="1590.4" font-size="53.4" fill="#000" text-anchor="start" >metabolism</text>
<text x="618.2" y="1535.3" font-size="52.9" fill="#000" text-anchor="start" >Enhanced</text>
<text x="560.5" y="1601.0" font-size="53.5" fill="#000" text-anchor="start" >Oxygen supply</text>
<text x="448.2" y="1806.5" font-size="55.4" fill="#000" text-anchor="start" >ROS</text>
<text x="363.2" y="1876.5" font-size="57.4" fill="#000" text-anchor="start" >eliminating</text>
<path d="M 270.9 1602.3 C 263.7 1662.1 274.4 1730.5 321.8 1765.5 L 310.7 1776.6 L 359.8 1786.0 L 332.0 1744.1 L 326.9 1756.9 C 293.6 1721.9 278.6 1662.1 270.9 1602.3 Z" fill="#595757"/>
<path d="M 616.1 1798.8 C 673.7 1781.7 712.2 1739.0 725.9 1680.1 L 712.2 1677.1 L 736.5 1636.5 L 749.3 1682.2 L 737.8 1681.8 C 727.1 1739.0 678.0 1786.0 616.1 1798.8 Z" fill="#595757"/>
<g id="chem">
<line x1="54.7" y1="140.1" x2="75.8" y2="152.3" stroke="#111" stroke-width="1.7" stroke-linecap="round"/>
<line x1="75.8" y1="152.3" x2="75.8" y2="176.6" stroke="#111" stroke-width="1.7" stroke-linecap="round"/>
<line x1="75.8" y1="176.6" x2="54.7" y2="188.8" stroke="#111" stroke-width="1.7" stroke-linecap="round"/>
<line x1="54.7" y1="188.8" x2="33.6" y2="176.6" stroke="#111" stroke-width="1.7" stroke-linecap="round"/>
<line x1="33.6" y1="176.6" x2="33.6" y2="152.3" stroke="#111" stroke-width="1.7" stroke-linecap="round"/>
<line x1="33.6" y1="152.3" x2="54.7" y2="140.1" stroke="#111" stroke-width="1.7" stroke-linecap="round"/>
<line x1="71.5" y1="157.2" x2="71.5" y2="171.8" stroke="#111" stroke-width="1.7" stroke-linecap="round"/>
<line x1="52.6" y1="182.7" x2="39.9" y2="175.4" stroke="#111" stroke-width="1.7" stroke-linecap="round"/>
<line x1="39.9" y1="153.5" x2="52.6" y2="146.2" stroke="#111" stroke-width="1.7" stroke-linecap="round"/>
<line x1="98.2" y1="140.1" x2="119.3" y2="152.3" stroke="#111" stroke-width="1.7" stroke-linecap="round"/>
<line x1="119.3" y1="152.3" x2="119.3" y2="176.6" stroke="#111" stroke-width="1.7" stroke-linecap="round"/>
<line x1="119.3" y1="176.6" x2="98.2" y2="188.8" stroke="#111" stroke-width="1.7" stroke-linecap="round"/>
<line x1="98.2" y1="188.8" x2="77.2" y2="176.6" stroke="#111" stroke-width="1.7" stroke-linecap="round"/>
<line x1="77.2" y1="176.6" x2="77.2" y2="152.3" stroke="#111" stroke-width="1.7" stroke-linecap="round"/>
<line x1="77.2" y1="152.3" x2="98.2" y2="140.1" stroke="#111" stroke-width="1.7" stroke-linecap="round"/>
<line x1="100.4" y1="146.2" x2="113.0" y2="153.5" stroke="#111" stroke-width="1.7" stroke-linecap="round"/>
<line x1="113.0" y1="175.4" x2="100.4" y2="182.7" stroke="#111" stroke-width="1.7" stroke-linecap="round"/>
<line x1="119.2" y1="152.5" x2="140.1" y2="140.1" stroke="#111" stroke-width="1.7" stroke-linecap="round"/>
<line x1="140.1" y1="140.1" x2="161.5" y2="151.6" stroke="#111" stroke-width="1.7" stroke-linecap="round"/>
<line x1="163.2" y1="151.6" x2="163.2" y2="168.7" stroke="#111" stroke-width="1.7" stroke-linecap="round"/>
<line x1="158.5" y1="152.9" x2="158.5" y2="168.7" stroke="#111" stroke-width="1.7" stroke-linecap="round"/>
<text x="160.6" y="181.6" font-size="15.5" fill="#111" text-anchor="middle">O</text>
<line x1="161.5" y1="151.6" x2="175.1" y2="144.0" stroke="#111" stroke-width="1.7" stroke-linecap="round"/>
<text x="182.8" y="145.7" font-size="15.5" fill="#111" text-anchor="middle">N</text>
<text x="182.8" y="130.3" font-size="15.5" fill="#111" text-anchor="middle">H</text>
<line x1="190.5" y1="144.4" x2="203.3" y2="151.6" stroke="#111" stroke-width="1.7" stroke-linecap="round"/>
<line x1="202.5" y1="154.5" x2="204.2" y2="154.5" stroke="#111" stroke-width="1.3" stroke-linecap="round"/>
<line x1="202.1" y1="157.5" x2="204.6" y2="157.5" stroke="#111" stroke-width="1.3" stroke-linecap="round"/>
<line x1="201.6" y1="160.6" x2="205.0" y2="160.6" stroke="#111" stroke-width="1.3" stroke-linecap="round"/>
<line x1="201.2" y1="163.6" x2="205.5" y2="163.6" stroke="#111" stroke-width="1.3" stroke-linecap="round"/>
<line x1="200.8" y1="166.7" x2="205.9" y2="166.7" stroke="#111" stroke-width="1.3" stroke-linecap="round"/>
<line x1="200.3" y1="169.7" x2="206.3" y2="169.7" stroke="#111" stroke-width="1.3" stroke-linecap="round"/>
<line x1="199.9" y1="172.8" x2="206.7" y2="172.8" stroke="#111" stroke-width="1.3" stroke-linecap="round"/>
<line x1="203.3" y1="174.3" x2="224.7" y2="188.0" stroke="#111" stroke-width="1.7" stroke-linecap="round"/>
<line x1="246.0" y1="176.4" x2="267.1" y2="188.6" stroke="#111" stroke-width="1.7" stroke-linecap="round"/>
<line x1="267.1" y1="188.6" x2="267.1" y2="212.9" stroke="#111" stroke-width="1.7" stroke-linecap="round"/>
<line x1="267.1" y1="212.9" x2="246.0" y2="225.1" stroke="#111" stroke-width="1.7" stroke-linecap="round"/>
<line x1="246.0" y1="225.1" x2="225.0" y2="212.9" stroke="#111" stroke-width="1.7" stroke-linecap="round"/>
<line x1="225.0" y1="212.9" x2="225.0" y2="188.6" stroke="#111" stroke-width="1.7" stroke-linecap="round"/>
<line x1="225.0" y1="188.6" x2="246.0" y2="176.4" stroke="#111" stroke-width="1.7" stroke-linecap="round"/>
<line x1="248.2" y1="182.5" x2="260.8" y2="189.8" stroke="#111" stroke-width="1.7" stroke-linecap="round"/>
<line x1="260.8" y1="211.7" x2="248.2" y2="219.0" stroke="#111" stroke-width="1.7" stroke-linecap="round"/>
<line x1="229.2" y1="208.1" x2="229.2" y2="193.5" stroke="#111" stroke-width="1.7" stroke-linecap="round"/>
<line x1="203.3" y1="151.6" x2="224.7" y2="140.1" stroke="#111" stroke-width="1.7" stroke-linecap="round"/>
<line x1="223.0" y1="140.1" x2="223.0" y2="123.0" stroke="#111" stroke-width="1.7" stroke-linecap="round"/>
<line x1="227.3" y1="138.8" x2="227.3" y2="123.0" stroke="#111" stroke-width="1.7" stroke-linecap="round"/>
<text x="224.7" y="120.1" font-size="15.5" fill="#111" text-anchor="middle">O</text>
<line x1="224.7" y1="140.1" x2="238.4" y2="147.8" stroke="#111" stroke-width="1.7" stroke-linecap="round"/>
<text x="245.6" y="157.2" font-size="15.5" fill="#111" text-anchor="middle">N</text>
<text x="245.6" y="172.2" font-size="15.5" fill="#111" text-anchor="middle">H</text>
<line x1="252.9" y1="147.8" x2="267.4" y2="140.1" stroke="#111" stroke-width="1.7" stroke-linecap="round"/>
<line x1="267.4" y1="140.1" x2="267.4" y2="115.3" stroke="#111" stroke-width="1.7" stroke-linecap="round"/>
<line x1="267.4" y1="115.3" x2="289.6" y2="102.5" stroke="#111" stroke-width="1.7" stroke-linecap="round"/>
<line x1="310.6" y1="66.2" x2="331.6" y2="78.4" stroke="#111" stroke-width="1.7" stroke-linecap="round"/>
<line x1="331.6" y1="78.4" x2="331.6" y2="102.7" stroke="#111" stroke-width="1.7" stroke-linecap="round"/>
<line x1="331.6" y1="102.7" x2="310.6" y2="114.9" stroke="#111" stroke-width="1.7" stroke-linecap="round"/>
<line x1="310.6" y1="114.9" x2="289.5" y2="102.7" stroke="#111" stroke-width="1.7" stroke-linecap="round"/>
<line x1="289.5" y1="102.7" x2="289.5" y2="78.4" stroke="#111" stroke-width="1.7" stroke-linecap="round"/>
<line x1="289.5" y1="78.4" x2="310.6" y2="66.2" stroke="#111" stroke-width="1.7" stroke-linecap="round"/>
<line x1="327.4" y1="83.3" x2="327.4" y2="97.9" stroke="#111" stroke-width="1.7" stroke-linecap="round"/>
<line x1="308.4" y1="108.8" x2="295.8" y2="101.5" stroke="#111" stroke-width="1.7" stroke-linecap="round"/>
<line x1="295.8" y1="79.6" x2="308.4" y2="72.3" stroke="#111" stroke-width="1.7" stroke-linecap="round"/>
<line x1="267.4" y1="140.1" x2="288.8" y2="151.6" stroke="#111" stroke-width="1.7" stroke-linecap="round"/>
<line x1="290.5" y1="151.6" x2="290.5" y2="168.7" stroke="#111" stroke-width="1.7" stroke-linecap="round"/>
<line x1="286.2" y1="152.9" x2="286.2" y2="168.7" stroke="#111" stroke-width="1.7" stroke-linecap="round"/>
<text x="288.8" y="181.6" font-size="15.5" fill="#111" text-anchor="middle">O</text>
<line x1="288.8" y1="151.6" x2="302.4" y2="144.0" stroke="#111" stroke-width="1.7" stroke-linecap="round"/>
<text x="310.1" y="145.7" font-size="15.5" fill="#b3000f" text-anchor="middle">N</text>
<text x="310.1" y="130.3" font-size="15.5" fill="#b3000f" text-anchor="middle">H</text>
<line x1="317.8" y1="144.4" x2="331.5" y2="151.6" stroke="#b3000f" stroke-width="1.7" stroke-linecap="round"/>
<line x1="331.5" y1="151.6" x2="352.8" y2="140.1" stroke="#b3000f" stroke-width="1.7" stroke-linecap="round"/>
<line x1="351.1" y1="140.1" x2="351.1" y2="123.0" stroke="#b3000f" stroke-width="1.7" stroke-linecap="round"/>
<line x1="355.4" y1="138.8" x2="355.4" y2="123.0" stroke="#b3000f" stroke-width="1.7" stroke-linecap="round"/>
<text x="352.8" y="120.1" font-size="15.5" fill="#b3000f" text-anchor="middle">O</text>
<line x1="352.8" y1="140.1" x2="366.5" y2="147.8" stroke="#b3000f" stroke-width="1.7" stroke-linecap="round"/>
<text x="367.8" y="157.2" font-size="15.5" fill="#b3000f" text-anchor="start">OH</text>
<line x1="330.6" y1="154.5" x2="332.3" y2="154.5" stroke="#b3000f" stroke-width="1.3" stroke-linecap="round"/>
<line x1="330.2" y1="157.5" x2="332.8" y2="157.5" stroke="#b3000f" stroke-width="1.3" stroke-linecap="round"/>
<line x1="329.8" y1="160.6" x2="333.2" y2="160.6" stroke="#b3000f" stroke-width="1.3" stroke-linecap="round"/>
<line x1="329.3" y1="163.6" x2="333.6" y2="163.6" stroke="#b3000f" stroke-width="1.3" stroke-linecap="round"/>
<line x1="328.9" y1="166.7" x2="334.0" y2="166.7" stroke="#b3000f" stroke-width="1.3" stroke-linecap="round"/>
<line x1="328.5" y1="169.7" x2="334.5" y2="169.7" stroke="#b3000f" stroke-width="1.3" stroke-linecap="round"/>
<line x1="328.1" y1="172.8" x2="334.9" y2="172.8" stroke="#b3000f" stroke-width="1.3" stroke-linecap="round"/>
<line x1="331.5" y1="174.3" x2="352.8" y2="188.0" stroke="#b3000f" stroke-width="1.7" stroke-linecap="round"/>
<line x1="352.8" y1="188.0" x2="352.8" y2="212.7" stroke="#b3000f" stroke-width="1.7" stroke-linecap="round"/>
<line x1="352.8" y1="212.7" x2="374.2" y2="225.1" stroke="#b3000f" stroke-width="1.7" stroke-linecap="round"/>
<line x1="374.2" y1="225.1" x2="374.2" y2="242.6" stroke="#b3000f" stroke-width="1.7" stroke-linecap="round"/>
<text x="368.2" y="257.6" font-size="15.5" fill="#b3000f">NH<tspan font-size="10.5" dy="3">2</tspan></text>
</g>
<text x="27.0" y="342.0" font-size="41.2" fill="#595757" text-anchor="start" >NapFFK</text>
<use href="#molg" transform="translate(320.1 328.8)"/>
<path d="M451.8 218.3 H826" stroke="#8b8b8b" stroke-width="8.5" fill="none"/>
<path d="M500.7 339.8 C 553.9 292, 640 236, 775 218.5" stroke="#8b8b8b" stroke-width="8.5" fill="none"/>
<path d="M865.5 218.3 L816.8 198 L825.4 218.3 L816.8 238.6 Z" fill="#8b8b8b"/>
<text x="487.5" y="186.6" font-size="45.4" fill="#231815" text-anchor="start" >Self-assembly</text>
<text x="726.7" y="319.8" font-size="40.4" fill="#0b68b4" text-anchor="start" >CAT</text>
<text x="513.1" y="405.3" font-size="40.0" fill="#e8829b" text-anchor="start" >LOx</text>
<path d="M1525.8 227.2 H1900" stroke="#8b8b8b" stroke-width="8.7" fill="none"/>
<path d="M1939.3 227.2 L1890.8 206.8 L1899.5 227.2 L1890.8 247.9 Z" fill="#8b8b8b"/>
<text x="1620.7" y="194.4" font-size="44.9" fill="#000" text-anchor="start" >Disperse</text>
<text x="1587.3" y="290.0" font-size="45.0" fill="#000" text-anchor="start" >Mechanical</text>
<text x="1660.0" y="344.6" font-size="45.1" fill="#000" text-anchor="start" >force</text>
<ellipse cx="1145" cy="225.5" rx="203" ry="150" fill="url(#ell)" stroke="#a1abb3" stroke-width="2.7"/>
<ellipse cx="2241" cy="224.5" rx="203" ry="149.5" fill="url(#ell)" stroke="#a1abb3" stroke-width="2.7"/>
<g clip-path="url(#v1)"><rect x="1381" y="242" width="60" height="110" fill="url(#vg)"/><rect x="1381" y="242" width="60" height="36" fill="url(#vb)"/></g>
<rect x="1379.9" y="352" width="62.3" height="33" rx="4.8" fill="url(#vc)"/>
<g clip-path="url(#v2)"><rect x="2478" y="242" width="60" height="110" fill="url(#vg)"/><rect x="2478" y="314.5" width="60" height="38" fill="url(#vb)"/></g>
<rect x="2477.5" y="352.3" width="62" height="32.7" rx="4.8" fill="url(#vc)"/>
<g id="net">
<path d="M1040.1 113.2 L1043.1 112.9 L1046.1 112.6 L1049.1 112.2 L1052.1 111.9 L1055.0 111.6 L1058.0 111.3 L1061.0 111.0 L1064.0 110.7 L1067.0 110.5 L1070.0 110.3 L1073.0 110.2 L1076.0 110.1 L1079.1 110.1 L1082.1 110.3 L1085.1 110.5 L1088.1 110.8 L1091.0 111.2 L1094.0 111.7 L1097.0 112.2 L1099.9 112.8 L1102.8 113.5 L1105.7 114.3 L1108.6 115.2 L1111.5 116.2 L1114.3 117.2 L1117.1 118.4 L1119.8 119.6 L1122.5 120.9 L1125.2 122.3 L1127.8 123.8 L1130.4 125.3 L1133.0 126.9 L1135.5 128.6 L1137.9 130.3 L1140.3 132.1 L1142.6 134.0 L1144.9 136.0 L1147.1 138.1 L1149.1 140.3 L1151.1 142.6 L1153.0 144.9 L1154.8 147.3 L1156.5 149.8 L1158.3 152.2 L1160.1 154.6 L1161.9 157.0 L1163.7 159.4 L1165.7 161.7 L1167.7 163.9 L1169.9 166.0 L1172.1 168.0 L1174.5 169.9 L1176.9 171.7 L1179.4 173.4 L1181.9 175.1 L1184.4 176.7 L1186.9 178.3 L1189.4 180.0 L1191.9 181.7 L1194.4 183.4 L1196.9 185.1 L1199.3 186.8 L1201.8 188.5 L1204.3 190.2 L1206.8 191.9 L1209.3 193.6 L1211.8 195.2 L1214.3 196.9 L1216.8 198.5 L1219.4 200.2 L1221.9 201.8 L1224.5 203.3 L1227.1 204.9 L1229.7 206.4 L1232.2 207.9 L1234.8 209.5 L1237.4 211.0 L1240.1 212.4 L1242.7 213.9 L1245.4 215.3 L1248.0 216.7 L1250.7 218.0 L1253.4 219.3 L1256.2 220.5 L1259.0 221.7 L1261.8 222.8 L1264.6 223.9 L1267.4 224.9 L1270.3 225.9 L1273.1 226.8 L1276.0 227.7 L1278.9 228.6 L1281.8 229.4 L1284.7 230.1 L1287.6 230.8 L1290.6 231.4 L1293.5 232.0 L1296.5 232.5 L1299.5 232.9 L1302.4 233.3 L1305.4 233.6 L1308.4 233.8 L1311.4 234.0 L1314.4 234.2 L1317.4 234.3 L1320.4 234.4 L1323.5 234.5 L1326.5 234.6 L1329.5 234.6 L1332.5 234.7 L1335.5 234.7 L1338.5 234.8 L1341.5 234.8 L1344.5 234.9 L1345.5 234.9" stroke="#6ba2d2" stroke-opacity="0.9" stroke-width="22" fill="none" stroke-linejoin="round"/>
<path d="M1040.1 113.2 L1041.3 115.1 L1042.5 116.7 L1043.6 118.0 L1044.7 118.8 L1045.8 119.0 L1046.7 118.5 L1047.6 117.5 L1048.5 116.0 L1049.3 114.1 L1050.1 112.1 L1050.8 110.0 L1051.6 108.2 L1052.5 106.7 L1053.4 105.7 L1054.4 105.3 L1055.4 105.5 L1056.5 106.4 L1057.7 107.7 L1058.9 109.3 L1060.0 111.2 L1061.2 113.0 L1062.4 114.7 L1063.5 116.0 L1064.5 116.7 L1065.5 116.9 L1066.5 116.5 L1067.4 115.5 L1068.3 114.0 L1069.1 112.2 L1070.0 110.1 L1070.9 108.1 L1071.9 106.4 L1072.9 105.0 L1073.9 104.1 L1074.9 103.8 L1076.0 104.2 L1077.1 105.1 L1078.1 106.6 L1079.1 108.4 L1080.0 110.4 L1080.9 112.4 L1081.8 114.2 L1082.7 115.6 L1083.6 116.5 L1084.5 116.8 L1085.5 116.5 L1086.5 115.6 L1087.7 114.3 L1088.8 112.6 L1090.1 110.8 L1091.3 109.0 L1092.6 107.5 L1093.8 106.3 L1095.0 105.7 L1096.1 105.6 L1097.1 106.2 L1097.9 107.4 L1098.6 109.0 L1099.3 111.0 L1099.8 113.2 L1100.4 115.3 L1100.9 117.2 L1101.5 118.7 L1102.2 119.7 L1103.1 120.1 L1104.1 120.0 L1105.3 119.3 L1106.6 118.1 L1108.1 116.7 L1109.7 115.2 L1111.3 113.7 L1112.8 112.4 L1114.2 111.5 L1115.5 111.2 L1116.6 111.4 L1117.4 112.2 L1118.0 113.5 L1118.4 115.3 L1118.6 117.4 L1118.7 119.6 L1118.8 121.8 L1119.0 123.7 L1119.3 125.3 L1119.8 126.4 L1120.6 127.0 L1121.6 127.0 L1122.9 126.5 L1124.5 125.7 L1126.2 124.5 L1128.1 123.3 L1129.9 122.2 L1131.7 121.2 L1133.2 120.7 L1134.5 120.6 L1135.5 121.1 L1136.1 122.0 L1136.4 123.5 L1136.4 125.3 L1136.3 127.4 L1135.9 129.6 L1135.6 131.7 L1135.4 133.7 L1135.4 135.3 L1135.8 136.4 L1136.4 137.1 L1137.5 137.3 L1138.9 137.1 L1140.6 136.5 L1142.5 135.7 L1144.6 134.9 L1146.6 134.1 L1148.5 133.6 L1150.2 133.5 L1151.5 133.8 L1152.3 134.5 L1152.7 135.6 L1152.6 137.2 L1152.2 139.0 L1151.4 141.0 L1150.6 143.0 L1149.7 145.0 L1149.0 146.8 L1148.6 148.3 L1148.7 149.5 L1149.2 150.3 L1150.2 150.7 L1151.6 150.9 L1153.5 150.8 L1155.5 150.5 L1157.7 150.1 L1159.9 149.8 L1161.8 149.7 L1163.4 149.8 L1164.5 150.2 L1165.1 150.9 L1165.3 152.0 L1165.0 153.5 L1164.3 155.2 L1163.4 157.1 L1162.5 159.1 L1161.6 161.1 L1161.0 162.9 L1160.8 164.5 L1161.0 165.8 L1161.7 166.7 L1162.9 167.1 L1164.5 167.1 L1166.3 166.8 L1168.4 166.1 L1170.4 165.4 L1172.4 164.6 L1174.2 164.1 L1175.7 163.8 L1176.8 163.8 L1177.6 164.4 L1177.9 165.4 L1178.0 166.9 L1177.8 168.7 L1177.5 170.8 L1177.2 173.0 L1176.9 175.1 L1176.9 177.1 L1177.1 178.6 L1177.6 179.7 L1178.5 180.3 L1179.6 180.3 L1181.1 179.9 L1182.8 179.1 L1184.7 178.1 L1186.6 177.0 L1188.5 175.9 L1190.2 175.2 L1191.7 174.8 L1192.9 174.8 L1193.7 175.4 L1194.3 176.5 L1194.4 178.0 L1194.4 179.9 L1194.1 182.0 L1193.8 184.2 L1193.6 186.3 L1193.5 188.2 L1193.7 189.7 L1194.2 190.8 L1195.0 191.3 L1196.2 191.4 L1197.7 191.0 L1199.4 190.2 L1201.3 189.3 L1203.3 188.2 L1205.1 187.2 L1206.9 186.5 L1208.3 186.1 L1209.5 186.2 L1210.3 186.8 L1210.7 187.9 L1210.9 189.4 L1210.8 191.3 L1210.6 193.4 L1210.3 195.6 L1210.1 197.7 L1210.1 199.6 L1210.3 201.1 L1210.9 202.1 L1211.8 202.6 L1213.0 202.6 L1214.5 202.2 L1216.2 201.3 L1218.1 200.3 L1220.0 199.2 L1221.8 198.1 L1223.5 197.3 L1224.9 196.9 L1226.0 197.0 L1226.8 197.5 L1227.3 198.6 L1227.5 200.2 L1227.6 202.1 L1227.4 204.2 L1227.3 206.4 L1227.2 208.6 L1227.3 210.4 L1227.6 211.9 L1228.2 212.8 L1229.1 213.3 L1230.3 213.2 L1231.8 212.6 L1233.5 211.7 L1235.4 210.5 L1237.2 209.3 L1239.0 208.2 L1240.6 207.4 L1242.0 206.9 L1243.1 207.0 L1243.9 207.5 L1244.4 208.6 L1244.7 210.2 L1244.8 212.1 L1244.8 214.3 L1244.7 216.5 L1244.8 218.6 L1245.0 220.4 L1245.4 221.8 L1246.1 222.7 L1247.1 223.1 L1248.4 222.9 L1249.8 222.2 L1251.5 221.1 L1253.2 219.8 L1254.9 218.4 L1256.6 217.2 L1258.1 216.2 L1259.4 215.6 L1260.4 215.5 L1261.3 216.0 L1261.9 217.0 L1262.3 218.6 L1262.6 220.5 L1262.9 222.7 L1263.1 224.9 L1263.4 226.9 L1263.9 228.7 L1264.5 230.0 L1265.3 230.8 L1266.3 231.0 L1267.6 230.6 L1268.9 229.7 L1270.4 228.4 L1272.0 226.9 L1273.6 225.4 L1275.1 223.9 L1276.4 222.8 L1277.7 222.1 L1278.7 222.0 L1279.6 222.4 L1280.3 223.4 L1280.9 224.9 L1281.4 226.8 L1281.9 229.0 L1282.4 231.1 L1282.9 233.1 L1283.5 234.8 L1284.3 236.0 L1285.2 236.7 L1286.3 236.7 L1287.5 236.2 L1288.8 235.1 L1290.1 233.6 L1291.5 231.9 L1292.8 230.2 L1294.1 228.6 L1295.3 227.3 L1296.5 226.5 L1297.5 226.3 L1298.4 226.6 L1299.2 227.6 L1300.0 229.0 L1300.7 230.9 L1301.5 232.9 L1302.3 235.0 L1303.1 236.9 L1304.0 238.4 L1304.9 239.5 L1305.9 240.0 L1307.0 239.8 L1308.1 239.1 L1309.2 237.8 L1310.3 236.1 L1311.4 234.3 L1312.5 232.4 L1313.6 230.6 L1314.7 229.2 L1315.7 228.3 L1316.7 228.0 L1317.7 228.3 L1318.6 229.2 L1319.6 230.5 L1320.5 232.3 L1321.5 234.3 L1322.4 236.3 L1323.4 238.1 L1324.3 239.5 L1325.3 240.5 L1326.3 240.9 L1327.3 240.6 L1328.4 239.8 L1329.4 238.5 L1330.4 236.7 L1331.5 234.8 L1332.5 232.9 L1333.5 231.1 L1334.6 229.7 L1335.6 228.8 L1336.6 228.5 L1337.6 228.8 L1338.6 229.6 L1339.6 231.0 L1340.5 232.8 L1341.5 234.8 L1342.5 236.7 L1343.4 238.5 L1344.3 240.0 L1345.3 240.9" stroke="#1368b3" stroke-width="2.7" fill="none" stroke-linejoin="round" stroke-linecap="round"/>
<ellipse cx="1047.3" cy="123.5" rx="5.0" ry="3.4" fill="#ad2a3e" transform="rotate(-6 1047.3 123.5)"/>
<ellipse cx="1044.8" cy="101.7" rx="5.0" ry="3.4" fill="#ad2a3e" transform="rotate(-6 1044.8 101.7)"/>
<ellipse cx="1064.9" cy="121.7" rx="5.0" ry="3.4" fill="#ad2a3e" transform="rotate(-5 1064.9 121.7)"/>
<ellipse cx="1063.1" cy="99.8" rx="5.0" ry="3.4" fill="#ad2a3e" transform="rotate(-5 1063.1 99.8)"/>
<ellipse cx="1082.2" cy="121.3" rx="5.0" ry="3.4" fill="#ad2a3e" transform="rotate(4 1082.2 121.3)"/>
<ellipse cx="1083.9" cy="99.4" rx="5.0" ry="3.4" fill="#ad2a3e" transform="rotate(4 1083.9 99.4)"/>
<ellipse cx="1098.3" cy="123.8" rx="5.0" ry="3.4" fill="#ad2a3e" transform="rotate(13 1098.3 123.8)"/>
<ellipse cx="1103.4" cy="102.4" rx="5.0" ry="3.4" fill="#ad2a3e" transform="rotate(13 1103.4 102.4)"/>
<ellipse cx="1114.4" cy="129.2" rx="5.0" ry="3.4" fill="#ad2a3e" transform="rotate(24 1114.4 129.2)"/>
<ellipse cx="1123.4" cy="109.2" rx="5.0" ry="3.4" fill="#ad2a3e" transform="rotate(24 1123.4 109.2)"/>
<ellipse cx="1128.5" cy="137.1" rx="5.0" ry="3.4" fill="#ad2a3e" transform="rotate(34 1128.5 137.1)"/>
<ellipse cx="1140.8" cy="118.9" rx="5.0" ry="3.4" fill="#ad2a3e" transform="rotate(34 1140.8 118.9)"/>
<ellipse cx="1140.9" cy="147.6" rx="5.0" ry="3.4" fill="#ad2a3e" transform="rotate(48 1140.9 147.6)"/>
<ellipse cx="1157.4" cy="133.0" rx="5.0" ry="3.4" fill="#ad2a3e" transform="rotate(48 1157.4 133.0)"/>
<ellipse cx="1151.2" cy="161.1" rx="5.0" ry="3.4" fill="#ad2a3e" transform="rotate(54 1151.2 161.1)"/>
<ellipse cx="1169.0" cy="148.1" rx="5.0" ry="3.4" fill="#ad2a3e" transform="rotate(54 1169.0 148.1)"/>
<ellipse cx="1165.9" cy="177.1" rx="5.0" ry="3.4" fill="#ad2a3e" transform="rotate(39 1165.9 177.1)"/>
<ellipse cx="1179.9" cy="160.1" rx="5.0" ry="3.4" fill="#ad2a3e" transform="rotate(39 1179.9 160.1)"/>
<ellipse cx="1181.7" cy="188.1" rx="5.0" ry="3.4" fill="#ad2a3e" transform="rotate(33 1181.7 188.1)"/>
<ellipse cx="1193.8" cy="169.7" rx="5.0" ry="3.4" fill="#ad2a3e" transform="rotate(33 1193.8 169.7)"/>
<ellipse cx="1197.3" cy="198.7" rx="5.0" ry="3.4" fill="#ad2a3e" transform="rotate(34 1197.3 198.7)"/>
<ellipse cx="1209.7" cy="180.6" rx="5.0" ry="3.4" fill="#ad2a3e" transform="rotate(34 1209.7 180.6)"/>
<ellipse cx="1212.6" cy="208.9" rx="5.0" ry="3.4" fill="#ad2a3e" transform="rotate(33 1212.6 208.9)"/>
<ellipse cx="1224.4" cy="190.3" rx="5.0" ry="3.4" fill="#ad2a3e" transform="rotate(33 1224.4 190.3)"/>
<ellipse cx="1228.4" cy="218.5" rx="5.0" ry="3.4" fill="#ad2a3e" transform="rotate(30 1228.4 218.5)"/>
<ellipse cx="1239.5" cy="199.4" rx="5.0" ry="3.4" fill="#ad2a3e" transform="rotate(30 1239.5 199.4)"/>
<ellipse cx="1246.0" cy="227.9" rx="5.0" ry="3.4" fill="#ad2a3e" transform="rotate(26 1246.0 227.9)"/>
<ellipse cx="1255.5" cy="208.1" rx="5.0" ry="3.4" fill="#ad2a3e" transform="rotate(26 1255.5 208.1)"/>
<ellipse cx="1263.7" cy="235.2" rx="5.0" ry="3.4" fill="#ad2a3e" transform="rotate(20 1263.7 235.2)"/>
<ellipse cx="1271.1" cy="214.5" rx="5.0" ry="3.4" fill="#ad2a3e" transform="rotate(20 1271.1 214.5)"/>
<ellipse cx="1283.1" cy="241.0" rx="5.0" ry="3.4" fill="#ad2a3e" transform="rotate(13 1283.1 241.0)"/>
<ellipse cx="1288.2" cy="219.6" rx="5.0" ry="3.4" fill="#ad2a3e" transform="rotate(13 1288.2 219.6)"/>
<ellipse cx="1302.3" cy="244.4" rx="5.0" ry="3.4" fill="#ad2a3e" transform="rotate(6 1302.3 244.4)"/>
<ellipse cx="1304.5" cy="222.5" rx="5.0" ry="3.4" fill="#ad2a3e" transform="rotate(6 1304.5 222.5)"/>
<ellipse cx="1322.1" cy="245.5" rx="5.0" ry="3.4" fill="#ad2a3e" transform="rotate(2 1322.1 245.5)"/>
<ellipse cx="1322.8" cy="223.5" rx="5.0" ry="3.4" fill="#ad2a3e" transform="rotate(2 1322.8 223.5)"/>
<ellipse cx="1340.3" cy="245.8" rx="5.0" ry="3.4" fill="#ad2a3e" transform="rotate(1 1340.3 245.8)"/>
<ellipse cx="1340.7" cy="223.8" rx="5.0" ry="3.4" fill="#ad2a3e" transform="rotate(1 1340.7 223.8)"/>
<path d="M1149.0 82.0 L1149.1 85.0 L1149.2 88.0 L1149.3 91.0 L1149.4 94.0 L1149.4 97.0 L1149.4 100.0 L1149.3 103.0 L1149.1 106.0 L1148.8 109.0 L1148.3 112.0 L1147.8 114.9 L1147.3 117.9 L1146.7 120.8 L1146.1 123.8 L1145.5 126.7 L1144.9 129.7 L1144.3 132.6 L1143.9 134.6" stroke="#6ba2d2" stroke-opacity="0.9" stroke-width="22" fill="none" stroke-linejoin="round"/>
<path d="M1149.0 82.0 L1147.1 83.1 L1145.4 84.1 L1144.0 85.2 L1143.1 86.2 L1142.9 87.2 L1143.2 88.2 L1144.1 89.2 L1145.6 90.1 L1147.4 91.1 L1149.3 92.0 L1151.3 93.0 L1153.1 94.0 L1154.5 95.0 L1155.4 96.0 L1155.7 97.0 L1155.4 98.0 L1154.5 99.1 L1153.1 100.1 L1151.3 101.1 L1149.3 102.0 L1147.3 102.9 L1145.5 103.8 L1144.1 104.7 L1143.1 105.5 L1142.7 106.4 L1142.9 107.3 L1143.7 108.4 L1145.0 109.5 L1146.6 110.7 L1148.4 112.0 L1150.1 113.3 L1151.7 114.6 L1152.9 115.8 L1153.6 117.0 L1153.7 118.1 L1153.2 119.0 L1152.1 119.8 L1150.5 120.6 L1148.6 121.2 L1146.5 121.8 L1144.4 122.4 L1142.5 123.0 L1140.9 123.7 L1139.8 124.5 L1139.4 125.4 L1139.5 126.5 L1140.2 127.6 L1141.3 128.9 L1142.9 130.2 L1144.6 131.6 L1146.3 133.0 L1147.8 134.3 L1148.9 135.5" stroke="#1368b3" stroke-width="2.7" fill="none" stroke-linejoin="round" stroke-linecap="round"/>
<ellipse cx="1138.2" cy="88.4" rx="5.0" ry="3.4" fill="#ad2a3e" transform="rotate(88 1138.2 88.4)"/>
<ellipse cx="1160.2" cy="87.6" rx="5.0" ry="3.4" fill="#ad2a3e" transform="rotate(88 1160.2 87.6)"/>
<ellipse cx="1138.0" cy="105.9" rx="5.0" ry="3.4" fill="#ad2a3e" transform="rotate(96 1138.0 105.9)"/>
<ellipse cx="1159.9" cy="108.1" rx="5.0" ry="3.4" fill="#ad2a3e" transform="rotate(96 1159.9 108.1)"/>
<ellipse cx="1135.2" cy="122.5" rx="5.0" ry="3.4" fill="#ad2a3e" transform="rotate(102 1135.2 122.5)"/>
<ellipse cx="1156.7" cy="127.0" rx="5.0" ry="3.4" fill="#ad2a3e" transform="rotate(102 1156.7 127.0)"/>
<path d="M1262.2 116.2 L1259.7 117.9 L1257.3 119.6 L1254.8 121.3 L1252.3 123.0 L1249.8 124.7 L1247.3 126.4 L1244.8 128.1 L1242.4 129.8 L1239.9 131.6 L1237.4 133.3 L1235.0 135.1 L1232.6 136.9 L1230.2 138.8 L1227.9 140.7 L1225.6 142.6 L1223.3 144.6 L1221.0 146.5 L1218.8 148.5 L1216.5 150.6 L1214.3 152.6 L1212.2 154.7 L1210.0 156.8 L1207.9 158.9 L1205.7 161.1 L1203.7 163.3 L1201.7 165.5 L1199.8 167.8 L1197.9 170.2 L1196.1 172.6 L1194.3 175.0 L1192.5 177.5 L1190.8 179.9 L1189.6 181.5" stroke="#6ba2d2" stroke-opacity="0.9" stroke-width="22" fill="none" stroke-linejoin="round"/>
<path d="M1262.2 116.2 L1260.3 115.2 L1258.5 114.3 L1256.9 113.7 L1255.5 113.5 L1254.5 113.8 L1253.9 114.7 L1253.6 116.0 L1253.5 117.7 L1253.7 119.7 L1254.0 121.9 L1254.2 124.1 L1254.4 126.1 L1254.3 127.8 L1254.0 129.1 L1253.3 129.9 L1252.3 130.2 L1251.0 130.0 L1249.3 129.3 L1247.5 128.4 L1245.6 127.4 L1243.6 126.4 L1241.8 125.5 L1240.2 125.0 L1238.9 124.9 L1237.9 125.3 L1237.3 126.2 L1237.0 127.5 L1237.0 129.3 L1237.3 131.3 L1237.6 133.5 L1237.9 135.7 L1238.1 137.7 L1238.2 139.3 L1237.9 140.6 L1237.2 141.3 L1236.2 141.6 L1234.8 141.4 L1233.2 140.9 L1231.3 140.1 L1229.3 139.2 L1227.2 138.3 L1225.4 137.6 L1223.7 137.2 L1222.4 137.3 L1221.5 137.8 L1221.0 138.8 L1220.9 140.2 L1221.1 142.0 L1221.5 144.0 L1222.0 146.2 L1222.6 148.3 L1222.9 150.2 L1223.1 151.8 L1222.9 153.1 L1222.2 153.9 L1221.2 154.2 L1219.8 154.1 L1218.1 153.7 L1216.1 153.0 L1214.0 152.3 L1211.9 151.6 L1210.0 151.0 L1208.4 150.8 L1207.2 151.0 L1206.3 151.6 L1205.9 152.7 L1205.9 154.1 L1206.3 155.9 L1206.9 157.9 L1207.6 160.0 L1208.2 162.1 L1208.7 164.0 L1209.0 165.5 L1208.8 166.7 L1208.3 167.5 L1207.3 167.9 L1205.9 167.9 L1204.1 167.6 L1202.0 167.1 L1199.9 166.6 L1197.8 166.2 L1195.8 166.0 L1194.2 166.0 L1193.0 166.4 L1192.3 167.2 L1192.1 168.3 L1192.3 169.8 L1193.0 171.6 L1193.9 173.5 L1194.9 175.5 L1195.9 177.4 L1196.6 179.1 L1197.0 180.7 L1197.0 181.9 L1196.5 182.7 L1195.4 183.3 L1193.9 183.5 L1192.0 183.4" stroke="#1368b3" stroke-width="2.7" fill="none" stroke-linejoin="round" stroke-linecap="round"/>
<ellipse cx="1251.1" cy="110.5" rx="5.0" ry="3.4" fill="#ad2a3e" transform="rotate(146 1251.1 110.5)"/>
<ellipse cx="1263.4" cy="128.7" rx="5.0" ry="3.4" fill="#ad2a3e" transform="rotate(146 1263.4 128.7)"/>
<ellipse cx="1236.0" cy="120.8" rx="5.0" ry="3.4" fill="#ad2a3e" transform="rotate(145 1236.0 120.8)"/>
<ellipse cx="1248.7" cy="138.8" rx="5.0" ry="3.4" fill="#ad2a3e" transform="rotate(145 1248.7 138.8)"/>
<ellipse cx="1220.1" cy="132.8" rx="5.0" ry="3.4" fill="#ad2a3e" transform="rotate(140 1220.1 132.8)"/>
<ellipse cx="1234.1" cy="149.8" rx="5.0" ry="3.4" fill="#ad2a3e" transform="rotate(140 1234.1 149.8)"/>
<ellipse cx="1206.0" cy="145.3" rx="5.0" ry="3.4" fill="#ad2a3e" transform="rotate(137 1206.0 145.3)"/>
<ellipse cx="1221.2" cy="161.3" rx="5.0" ry="3.4" fill="#ad2a3e" transform="rotate(137 1221.2 161.3)"/>
<ellipse cx="1191.9" cy="160.1" rx="5.0" ry="3.4" fill="#ad2a3e" transform="rotate(130 1191.9 160.1)"/>
<ellipse cx="1208.9" cy="174.1" rx="5.0" ry="3.4" fill="#ad2a3e" transform="rotate(130 1208.9 174.1)"/>
<ellipse cx="1180.8" cy="174.9" rx="5.0" ry="3.4" fill="#ad2a3e" transform="rotate(127 1180.8 174.9)"/>
<ellipse cx="1198.4" cy="188.2" rx="5.0" ry="3.4" fill="#ad2a3e" transform="rotate(127 1198.4 188.2)"/>
<path d="M978.2 158.9 L980.0 161.3 L981.9 163.6 L983.7 166.0 L985.6 168.3 L987.5 170.7 L989.3 173.1 L991.2 175.4 L993.1 177.7 L995.0 180.1 L997.0 182.4 L998.9 184.7 L1000.9 186.9 L1002.9 189.1 L1005.0 191.3 L1007.0 193.5 L1009.1 195.7 L1011.1 197.9 L1013.2 200.1 L1015.3 202.3 L1017.4 204.4 L1019.5 206.5 L1021.7 208.6 L1024.0 210.6 L1026.3 212.5 L1028.6 214.4 L1031.1 216.1 L1033.6 217.8 L1036.2 219.3 L1038.8 220.7 L1041.5 222.1 L1044.3 223.3 L1047.1 224.4 L1049.9 225.5 L1052.7 226.5 L1055.5 227.4 L1058.4 228.4 L1061.3 229.3 L1064.1 230.2 L1067.0 231.1 L1069.9 232.0 L1072.7 233.0 L1075.6 233.9 L1078.4 234.8 L1081.3 235.7 L1084.2 236.6 L1087.1 237.4 L1090.0 238.2 L1092.9 239.0 L1095.8 239.8 L1098.7 240.6 L1101.6 241.4 L1104.5 242.3 L1107.3 243.2 L1110.2 244.1 L1113.1 245.0 L1115.9 246.0 L1118.7 247.0 L1121.6 248.0 L1124.4 249.1 L1127.2 250.1 L1130.0 251.2 L1132.8 252.3 L1135.6 253.3 L1138.4 254.5 L1141.2 255.6 L1144.0 256.7 L1146.7 257.9 L1149.5 259.1 L1152.3 260.3 L1155.0 261.5 L1157.7 262.8 L1160.5 264.1 L1163.2 265.4 L1165.9 266.7 L1168.6 268.0 L1171.3 269.3 L1173.9 270.8 L1176.5 272.3 L1179.1 273.8 L1181.6 275.5 L1184.1 277.2 L1186.5 279.0 L1188.8 280.9 L1191.0 282.9 L1193.2 285.0 L1195.2 287.2 L1197.3 289.4 L1199.2 291.7 L1201.2 294.0 L1203.1 296.3 L1205.1 298.6 L1207.0 300.9 L1209.0 303.1 L1211.0 305.4 L1213.1 307.5 L1215.2 309.7 L1217.4 311.7 L1219.6 313.8 L1221.8 315.8 L1224.0 317.8 L1226.3 319.8 L1228.6 321.8 L1230.9 323.7 L1233.1 325.7 L1235.5 327.6 L1237.8 329.5 L1240.1 331.4 L1242.5 333.2 L1244.9 335.1 L1247.3 336.9 L1249.7 338.7 L1252.1 340.5 L1253.7 341.7" stroke="#6ba2d2" stroke-opacity="0.9" stroke-width="22" fill="none" stroke-linejoin="round"/>
<path d="M978.2 158.9 L977.3 160.9 L976.5 162.8 L976.0 164.4 L975.9 165.7 L976.3 166.7 L977.2 167.3 L978.5 167.5 L980.2 167.5 L982.2 167.2 L984.4 166.7 L986.6 166.3 L988.5 166.0 L990.3 166.0 L991.6 166.2 L992.4 166.8 L992.8 167.8 L992.7 169.1 L992.2 170.8 L991.4 172.7 L990.5 174.7 L989.6 176.7 L988.9 178.6 L988.5 180.2 L988.4 181.6 L988.9 182.5 L989.8 183.1 L991.2 183.3 L992.9 183.1 L994.9 182.8 L997.1 182.3 L999.2 181.8 L1001.1 181.4 L1002.8 181.3 L1004.1 181.4 L1004.9 182.0 L1005.3 183.0 L1005.3 184.3 L1004.9 186.0 L1004.2 187.9 L1003.5 190.0 L1002.7 192.1 L1002.1 194.0 L1001.8 195.6 L1001.9 196.9 L1002.4 197.8 L1003.3 198.3 L1004.7 198.4 L1006.5 198.1 L1008.5 197.7 L1010.6 197.1 L1012.7 196.5 L1014.6 196.0 L1016.3 195.8 L1017.6 195.9 L1018.4 196.5 L1018.8 197.5 L1018.8 198.8 L1018.4 200.6 L1017.9 202.5 L1017.2 204.6 L1016.5 206.7 L1016.1 208.7 L1015.9 210.3 L1016.1 211.6 L1016.7 212.5 L1017.7 212.9 L1019.2 212.9 L1020.9 212.5 L1022.9 211.8 L1024.9 211.0 L1026.9 210.2 L1028.8 209.4 L1030.3 209.0 L1031.6 208.9 L1032.4 209.3 L1032.9 210.2 L1033.1 211.6 L1033.0 213.3 L1032.8 215.4 L1032.5 217.5 L1032.4 219.7 L1032.4 221.7 L1032.6 223.4 L1033.2 224.6 L1034.0 225.3 L1035.2 225.5 L1036.6 225.1 L1038.2 224.2 L1039.9 223.0 L1041.7 221.7 L1043.4 220.3 L1045.0 219.2 L1046.3 218.4 L1047.5 218.0 L1048.5 218.2 L1049.2 219.0 L1049.7 220.3 L1050.1 222.0 L1050.4 224.0 L1050.7 226.2 L1051.0 228.4 L1051.4 230.3 L1051.9 231.9 L1052.7 232.9 L1053.6 233.4 L1054.7 233.3 L1056.0 232.6 L1057.4 231.5 L1058.9 230.1 L1060.5 228.5 L1062.0 227.0 L1063.5 225.7 L1064.8 224.8 L1066.0 224.4 L1067.0 224.5 L1067.8 225.3 L1068.5 226.6 L1069.0 228.3 L1069.4 230.4 L1069.7 232.6 L1070.0 234.7 L1070.4 236.6 L1071.0 238.1 L1071.7 239.1 L1072.7 239.6 L1073.8 239.5 L1075.1 238.8 L1076.5 237.6 L1078.0 236.2 L1079.6 234.6 L1081.1 233.0 L1082.5 231.7 L1083.8 230.8 L1084.9 230.4 L1085.9 230.5 L1086.7 231.3 L1087.4 232.6 L1088.0 234.3 L1088.4 236.3 L1088.9 238.5 L1089.3 240.6 L1089.8 242.5 L1090.5 244.0 L1091.2 244.9 L1092.2 245.3 L1093.3 245.1 L1094.5 244.3 L1095.9 243.1 L1097.4 241.6 L1098.9 240.0 L1100.3 238.4 L1101.8 237.1 L1103.1 236.2 L1104.3 235.8 L1105.3 236.0 L1106.1 236.8 L1106.8 238.1 L1107.3 239.9 L1107.7 242.0 L1108.1 244.1 L1108.4 246.2 L1108.9 248.1 L1109.4 249.6 L1110.1 250.5 L1111.0 250.9 L1112.1 250.7 L1113.4 250.0 L1114.9 248.9 L1116.4 247.5 L1118.0 245.9 L1119.6 244.5 L1121.1 243.3 L1122.5 242.5 L1123.7 242.2 L1124.6 242.5 L1125.4 243.4 L1126.0 244.7 L1126.4 246.6 L1126.7 248.7 L1126.9 250.9 L1127.2 253.0 L1127.5 254.9 L1128.0 256.3 L1128.7 257.3 L1129.6 257.7 L1130.8 257.6 L1132.1 256.9 L1133.6 255.8 L1135.2 254.4 L1136.9 252.9 L1138.5 251.5 L1140.0 250.4 L1141.4 249.7 L1142.6 249.5 L1143.5 249.8 L1144.3 250.7 L1144.8 252.2 L1145.1 254.0 L1145.3 256.1 L1145.5 258.3 L1145.7 260.5 L1145.9 262.3 L1146.4 263.8 L1147.0 264.8 L1147.9 265.2 L1149.1 265.0 L1150.4 264.4 L1152.0 263.4 L1153.7 262.1 L1155.4 260.7 L1157.1 259.4 L1158.7 258.4 L1160.1 257.7 L1161.3 257.6 L1162.2 258.0 L1162.8 259.0 L1163.3 260.5 L1163.5 262.3 L1163.6 264.5 L1163.7 266.7 L1163.7 268.8 L1163.9 270.7 L1164.3 272.1 L1164.9 273.1 L1165.8 273.5 L1166.9 273.4 L1168.3 272.8 L1169.9 271.9 L1171.7 270.7 L1173.5 269.4 L1175.3 268.2 L1177.0 267.3 L1178.5 266.9 L1179.7 266.9 L1180.6 267.4 L1181.2 268.5 L1181.4 270.1 L1181.5 272.0 L1181.3 274.1 L1181.0 276.3 L1180.8 278.4 L1180.6 280.3 L1180.7 281.8 L1181.1 282.8 L1181.9 283.3 L1183.0 283.4 L1184.5 283.0 L1186.3 282.4 L1188.2 281.6 L1190.3 280.7 L1192.3 280.1 L1194.1 279.6 L1195.7 279.6 L1196.9 279.9 L1197.6 280.7 L1197.9 281.9 L1197.7 283.5 L1197.2 285.4 L1196.5 287.4 L1195.7 289.5 L1195.0 291.4 L1194.5 293.2 L1194.3 294.7 L1194.5 295.8 L1195.2 296.5 L1196.3 296.8 L1197.9 296.8 L1199.8 296.5 L1201.9 296.0 L1204.0 295.5 L1206.1 295.1 L1207.9 294.9 L1209.4 294.9 L1210.5 295.3 L1211.1 296.1 L1211.2 297.3 L1210.9 298.8 L1210.3 300.7 L1209.5 302.7 L1208.7 304.7 L1208.0 306.7 L1207.6 308.5 L1207.5 310.1 L1207.9 311.2 L1208.7 311.9 L1209.9 312.1 L1211.5 312.0 L1213.4 311.5 L1215.5 310.9 L1217.5 310.1 L1219.5 309.5 L1221.3 309.0 L1222.8 308.9 L1223.8 309.2 L1224.5 310.0 L1224.7 311.1 L1224.6 312.7 L1224.2 314.6 L1223.7 316.7 L1223.1 318.8 L1222.7 320.9 L1222.4 322.7 L1222.5 324.2 L1222.9 325.2 L1223.8 325.8 L1225.0 325.9 L1226.6 325.6 L1228.5 325.0 L1230.5 324.2 L1232.5 323.3 L1234.5 322.6 L1236.2 322.1 L1237.6 321.9 L1238.7 322.2 L1239.4 322.9 L1239.7 324.1 L1239.6 325.7 L1239.3 327.6 L1238.9 329.7 L1238.5 331.9 L1238.1 333.9 L1238.0 335.8 L1238.1 337.2 L1238.7 338.2 L1239.6 338.7 L1240.8 338.7 L1242.4 338.3 L1244.2 337.6 L1246.2 336.7 L1248.2 335.7 L1250.1 334.9 L1251.8 334.3 L1253.2 334.1 L1254.3 334.3 L1255.0 335.0 L1255.3 336.2 L1255.4 337.9 L1255.1 339.8" stroke="#1368b3" stroke-width="2.7" fill="none" stroke-linejoin="round" stroke-linecap="round"/>
<ellipse cx="973.2" cy="170.4" rx="5.0" ry="3.4" fill="#ad2a3e" transform="rotate(52 973.2 170.4)"/>
<ellipse cx="990.5" cy="156.8" rx="5.0" ry="3.4" fill="#ad2a3e" transform="rotate(52 990.5 156.8)"/>
<ellipse cx="984.6" cy="184.7" rx="5.0" ry="3.4" fill="#ad2a3e" transform="rotate(51 984.6 184.7)"/>
<ellipse cx="1001.6" cy="170.8" rx="5.0" ry="3.4" fill="#ad2a3e" transform="rotate(51 1001.6 170.8)"/>
<ellipse cx="997.6" cy="199.6" rx="5.0" ry="3.4" fill="#ad2a3e" transform="rotate(47 997.6 199.6)"/>
<ellipse cx="1013.7" cy="184.6" rx="5.0" ry="3.4" fill="#ad2a3e" transform="rotate(47 1013.7 184.6)"/>
<ellipse cx="1010.4" cy="213.0" rx="5.0" ry="3.4" fill="#ad2a3e" transform="rotate(45 1010.4 213.0)"/>
<ellipse cx="1025.8" cy="197.3" rx="5.0" ry="3.4" fill="#ad2a3e" transform="rotate(45 1025.8 197.3)"/>
<ellipse cx="1026.7" cy="226.5" rx="5.0" ry="3.4" fill="#ad2a3e" transform="rotate(33 1026.7 226.5)"/>
<ellipse cx="1038.7" cy="208.0" rx="5.0" ry="3.4" fill="#ad2a3e" transform="rotate(33 1038.7 208.0)"/>
<ellipse cx="1045.1" cy="235.4" rx="5.0" ry="3.4" fill="#ad2a3e" transform="rotate(20 1045.1 235.4)"/>
<ellipse cx="1052.8" cy="214.8" rx="5.0" ry="3.4" fill="#ad2a3e" transform="rotate(20 1052.8 214.8)"/>
<ellipse cx="1063.6" cy="241.6" rx="5.0" ry="3.4" fill="#ad2a3e" transform="rotate(18 1063.6 241.6)"/>
<ellipse cx="1070.4" cy="220.6" rx="5.0" ry="3.4" fill="#ad2a3e" transform="rotate(18 1070.4 220.6)"/>
<ellipse cx="1081.2" cy="247.1" rx="5.0" ry="3.4" fill="#ad2a3e" transform="rotate(16 1081.2 247.1)"/>
<ellipse cx="1087.2" cy="226.0" rx="5.0" ry="3.4" fill="#ad2a3e" transform="rotate(16 1087.2 226.0)"/>
<ellipse cx="1099.4" cy="252.3" rx="5.0" ry="3.4" fill="#ad2a3e" transform="rotate(16 1099.4 252.3)"/>
<ellipse cx="1105.6" cy="231.2" rx="5.0" ry="3.4" fill="#ad2a3e" transform="rotate(16 1105.6 231.2)"/>
<ellipse cx="1115.9" cy="257.7" rx="5.0" ry="3.4" fill="#ad2a3e" transform="rotate(20 1115.9 257.7)"/>
<ellipse cx="1123.4" cy="237.0" rx="5.0" ry="3.4" fill="#ad2a3e" transform="rotate(20 1123.4 237.0)"/>
<ellipse cx="1133.4" cy="264.3" rx="5.0" ry="3.4" fill="#ad2a3e" transform="rotate(22 1133.4 264.3)"/>
<ellipse cx="1141.5" cy="243.9" rx="5.0" ry="3.4" fill="#ad2a3e" transform="rotate(22 1141.5 243.9)"/>
<ellipse cx="1149.6" cy="271.1" rx="5.0" ry="3.4" fill="#ad2a3e" transform="rotate(24 1149.6 271.1)"/>
<ellipse cx="1158.6" cy="251.1" rx="5.0" ry="3.4" fill="#ad2a3e" transform="rotate(24 1158.6 251.1)"/>
<ellipse cx="1166.2" cy="279.1" rx="5.0" ry="3.4" fill="#ad2a3e" transform="rotate(28 1166.2 279.1)"/>
<ellipse cx="1176.3" cy="259.6" rx="5.0" ry="3.4" fill="#ad2a3e" transform="rotate(28 1176.3 259.6)"/>
<ellipse cx="1179.7" cy="287.7" rx="5.0" ry="3.4" fill="#ad2a3e" transform="rotate(38 1179.7 287.7)"/>
<ellipse cx="1193.2" cy="270.3" rx="5.0" ry="3.4" fill="#ad2a3e" transform="rotate(38 1193.2 270.3)"/>
<ellipse cx="1190.9" cy="298.9" rx="5.0" ry="3.4" fill="#ad2a3e" transform="rotate(49 1190.9 298.9)"/>
<ellipse cx="1207.6" cy="284.5" rx="5.0" ry="3.4" fill="#ad2a3e" transform="rotate(49 1207.6 284.5)"/>
<ellipse cx="1203.7" cy="313.7" rx="5.0" ry="3.4" fill="#ad2a3e" transform="rotate(46 1203.7 313.7)"/>
<ellipse cx="1219.7" cy="298.5" rx="5.0" ry="3.4" fill="#ad2a3e" transform="rotate(46 1219.7 298.5)"/>
<ellipse cx="1217.5" cy="326.8" rx="5.0" ry="3.4" fill="#ad2a3e" transform="rotate(41 1217.5 326.8)"/>
<ellipse cx="1232.1" cy="310.3" rx="5.0" ry="3.4" fill="#ad2a3e" transform="rotate(41 1232.1 310.3)"/>
<ellipse cx="1232.5" cy="339.4" rx="5.0" ry="3.4" fill="#ad2a3e" transform="rotate(38 1232.5 339.4)"/>
<ellipse cx="1246.2" cy="322.1" rx="5.0" ry="3.4" fill="#ad2a3e" transform="rotate(38 1246.2 322.1)"/>
<ellipse cx="1247.0" cy="350.5" rx="5.0" ry="3.4" fill="#ad2a3e" transform="rotate(38 1247.0 350.5)"/>
<ellipse cx="1260.4" cy="333.0" rx="5.0" ry="3.4" fill="#ad2a3e" transform="rotate(38 1260.4 333.0)"/>
<path d="M980.3 295.6 L981.7 292.9 L983.0 290.2 L984.4 287.5 L985.7 284.8 L987.0 282.2 L988.4 279.5 L989.8 276.8 L991.3 274.2 L992.7 271.5 L994.2 268.9 L995.8 266.3 L997.4 263.8 L999.0 261.3 L1000.7 258.8 L1002.5 256.3 L1004.2 253.9 L1005.9 251.4 L1007.7 248.9 L1009.4 246.5 L1011.2 244.1 L1013.0 241.7 L1014.9 239.3 L1016.7 236.9 L1018.6 234.5 L1020.5 232.2 L1022.4 229.9 L1024.4 227.6 L1026.4 225.4 L1028.4 223.1 L1030.5 221.0 L1032.6 218.9 L1034.8 216.8 L1037.1 214.9 L1039.5 213.0 L1041.9 211.2 L1044.4 209.5 L1046.9 207.8 L1049.5 206.3 L1052.1 204.7 L1054.7 203.2 L1057.3 201.8 L1059.9 200.3 L1062.6 198.8 L1065.2 197.3 L1067.8 195.8 L1070.3 194.2 L1072.9 192.6 L1075.4 191.0 L1077.9 189.3 L1080.5 187.7 L1083.0 186.1 L1085.5 184.5 L1088.1 182.9 L1090.6 181.2 L1093.1 179.6 L1095.7 178.0 L1098.2 176.3 L1100.7 174.6 L1103.1 172.9 L1105.6 171.1 L1108.0 169.4 L1110.4 167.6 L1112.8 165.7 L1115.1 163.8 L1117.4 161.9 L1119.7 159.9 L1122.0 157.9 L1124.2 155.9 L1126.4 153.9 L1128.7 151.8 L1130.9 149.8 L1133.1 147.7 L1135.3 145.7 L1137.5 143.6 L1139.7 141.5 L1141.9 139.5 L1142.6 138.8" stroke="#6ba2d2" stroke-opacity="0.9" stroke-width="22" fill="none" stroke-linejoin="round"/>
<path d="M980.3 295.6 L982.5 295.6 L984.5 295.5 L986.2 295.2 L987.5 294.7 L988.2 293.9 L988.4 292.9 L988.0 291.6 L987.2 290.1 L986.0 288.4 L984.7 286.6 L983.4 284.8 L982.3 283.2 L981.5 281.6 L981.2 280.3 L981.4 279.3 L982.2 278.5 L983.5 278.1 L985.2 277.8 L987.3 277.7 L989.5 277.8 L991.7 277.8 L993.7 277.7 L995.3 277.5 L996.6 277.1 L997.3 276.3 L997.4 275.3 L997.1 274.0 L996.3 272.4 L995.2 270.7 L994.0 268.8 L992.9 267.0 L991.9 265.2 L991.3 263.6 L991.2 262.3 L991.5 261.3 L992.4 260.6 L993.8 260.2 L995.6 260.2 L997.6 260.3 L999.8 260.6 L1002.0 260.9 L1004.0 261.0 L1005.6 261.0 L1006.9 260.6 L1007.6 259.9 L1007.8 258.9 L1007.6 257.5 L1007.0 255.8 L1006.1 254.0 L1005.0 252.0 L1004.1 250.1 L1003.2 248.3 L1002.8 246.7 L1002.7 245.4 L1003.2 244.4 L1004.1 243.9 L1005.5 243.6 L1007.3 243.7 L1009.4 244.0 L1011.6 244.3 L1013.7 244.7 L1015.7 244.9 L1017.3 244.9 L1018.5 244.6 L1019.2 243.9 L1019.5 242.8 L1019.3 241.4 L1018.7 239.7 L1017.9 237.8 L1016.9 235.8 L1016.0 233.8 L1015.4 232.0 L1015.0 230.4 L1015.1 229.1 L1015.6 228.2 L1016.6 227.7 L1018.1 227.6 L1019.9 227.8 L1022.0 228.2 L1024.1 228.7 L1026.2 229.2 L1028.1 229.6 L1029.7 229.7 L1030.9 229.5 L1031.7 228.8 L1031.9 227.8 L1031.8 226.4 L1031.4 224.6 L1030.7 222.6 L1030.0 220.5 L1029.4 218.5 L1029.0 216.5 L1028.9 214.9 L1029.1 213.7 L1029.9 212.9 L1031.0 212.5 L1032.5 212.6 L1034.3 213.1 L1036.3 213.9 L1038.3 214.8 L1040.3 215.7 L1042.1 216.4 L1043.6 216.8 L1044.7 216.8 L1045.5 216.3 L1046.0 215.3 L1046.1 213.9 L1046.1 212.0 L1045.9 209.9 L1045.6 207.7 L1045.5 205.6 L1045.5 203.6 L1045.7 202.1 L1046.3 201.0 L1047.1 200.4 L1048.3 200.3 L1049.8 200.8 L1051.4 201.6 L1053.2 202.8 L1055.1 204.0 L1056.9 205.1 L1058.6 206.1 L1060.0 206.6 L1061.2 206.7 L1062.1 206.2 L1062.7 205.2 L1063.0 203.8 L1063.1 201.9 L1063.1 199.7 L1063.0 197.5 L1062.9 195.4 L1063.0 193.5 L1063.2 192.0 L1063.7 191.0 L1064.6 190.5 L1065.7 190.5 L1067.1 191.0 L1068.8 191.8 L1070.6 192.9 L1072.6 194.0 L1074.4 195.0 L1076.1 195.8 L1077.6 196.2 L1078.8 196.2 L1079.6 195.6 L1080.1 194.6 L1080.3 193.0 L1080.3 191.2 L1080.1 189.0 L1079.9 186.8 L1079.7 184.7 L1079.7 182.8 L1080.0 181.3 L1080.5 180.3 L1081.4 179.8 L1082.6 179.8 L1084.0 180.3 L1085.8 181.1 L1087.6 182.2 L1089.5 183.3 L1091.4 184.3 L1093.1 185.1 L1094.5 185.5 L1095.7 185.4 L1096.5 184.8 L1097.0 183.7 L1097.2 182.1 L1097.1 180.2 L1096.9 178.0 L1096.7 175.8 L1096.5 173.7 L1096.4 171.9 L1096.6 170.4 L1097.1 169.4 L1098.0 168.9 L1099.2 169.0 L1100.7 169.4 L1102.5 170.2 L1104.4 171.2 L1106.3 172.2 L1108.2 173.1 L1110.0 173.7 L1111.5 174.0 L1112.6 173.8 L1113.4 173.1 L1113.8 171.9 L1113.8 170.3 L1113.6 168.3 L1113.2 166.2 L1112.7 164.0 L1112.3 162.0 L1112.1 160.2 L1112.2 158.7 L1112.6 157.7 L1113.4 157.2 L1114.7 157.1 L1116.2 157.4 L1118.1 158.0 L1120.1 158.8 L1122.2 159.6 L1124.1 160.3 L1125.9 160.8 L1127.4 160.9 L1128.4 160.6 L1129.1 159.8 L1129.3 158.5 L1129.2 156.9 L1128.8 155.0 L1128.3 152.9 L1127.7 150.7 L1127.2 148.7 L1126.9 146.9 L1126.9 145.5 L1127.3 144.5 L1128.2 144.0 L1129.4 143.8 L1131.0 144.1 L1132.9 144.7 L1135.0 145.4 L1137.1 146.1 L1139.0 146.8 L1140.8 147.1 L1142.2 147.2 L1143.2 146.8 L1143.8 146.0 L1144.0 144.7 L1143.8 143.1 L1143.4 141.2 L1142.8 139.1" stroke="#1368b3" stroke-width="2.7" fill="none" stroke-linejoin="round" stroke-linecap="round"/>
<ellipse cx="992.9" cy="295.1" rx="5.0" ry="3.4" fill="#ad2a3e" transform="rotate(-64 992.9 295.1)"/>
<ellipse cx="973.2" cy="285.4" rx="5.0" ry="3.4" fill="#ad2a3e" transform="rotate(-64 973.2 285.4)"/>
<ellipse cx="1000.9" cy="279.5" rx="5.0" ry="3.4" fill="#ad2a3e" transform="rotate(-61 1000.9 279.5)"/>
<ellipse cx="981.6" cy="268.9" rx="5.0" ry="3.4" fill="#ad2a3e" transform="rotate(-61 981.6 268.9)"/>
<ellipse cx="1010.4" cy="264.2" rx="5.0" ry="3.4" fill="#ad2a3e" transform="rotate(-55 1010.4 264.2)"/>
<ellipse cx="992.3" cy="251.7" rx="5.0" ry="3.4" fill="#ad2a3e" transform="rotate(-55 992.3 251.7)"/>
<ellipse cx="1020.6" cy="249.9" rx="5.0" ry="3.4" fill="#ad2a3e" transform="rotate(-53 1020.6 249.9)"/>
<ellipse cx="1003.0" cy="236.7" rx="5.0" ry="3.4" fill="#ad2a3e" transform="rotate(-53 1003.0 236.7)"/>
<ellipse cx="1032.0" cy="235.6" rx="5.0" ry="3.4" fill="#ad2a3e" transform="rotate(-49 1032.0 235.6)"/>
<ellipse cx="1015.4" cy="221.2" rx="5.0" ry="3.4" fill="#ad2a3e" transform="rotate(-49 1015.4 221.2)"/>
<ellipse cx="1043.5" cy="223.9" rx="5.0" ry="3.4" fill="#ad2a3e" transform="rotate(-40 1043.5 223.9)"/>
<ellipse cx="1029.2" cy="207.1" rx="5.0" ry="3.4" fill="#ad2a3e" transform="rotate(-40 1029.2 207.1)"/>
<ellipse cx="1057.6" cy="214.3" rx="5.0" ry="3.4" fill="#ad2a3e" transform="rotate(-30 1057.6 214.3)"/>
<ellipse cx="1046.5" cy="195.2" rx="5.0" ry="3.4" fill="#ad2a3e" transform="rotate(-30 1046.5 195.2)"/>
<ellipse cx="1073.4" cy="205.2" rx="5.0" ry="3.4" fill="#ad2a3e" transform="rotate(-31 1073.4 205.2)"/>
<ellipse cx="1062.1" cy="186.4" rx="5.0" ry="3.4" fill="#ad2a3e" transform="rotate(-31 1062.1 186.4)"/>
<ellipse cx="1088.9" cy="195.4" rx="5.0" ry="3.4" fill="#ad2a3e" transform="rotate(-32 1088.9 195.4)"/>
<ellipse cx="1077.1" cy="176.8" rx="5.0" ry="3.4" fill="#ad2a3e" transform="rotate(-32 1077.1 176.8)"/>
<ellipse cx="1105.1" cy="184.8" rx="5.0" ry="3.4" fill="#ad2a3e" transform="rotate(-34 1105.1 184.8)"/>
<ellipse cx="1092.9" cy="166.6" rx="5.0" ry="3.4" fill="#ad2a3e" transform="rotate(-34 1092.9 166.6)"/>
<ellipse cx="1120.5" cy="173.6" rx="5.0" ry="3.4" fill="#ad2a3e" transform="rotate(-39 1120.5 173.6)"/>
<ellipse cx="1106.6" cy="156.5" rx="5.0" ry="3.4" fill="#ad2a3e" transform="rotate(-39 1106.6 156.5)"/>
<ellipse cx="1135.4" cy="160.6" rx="5.0" ry="3.4" fill="#ad2a3e" transform="rotate(-43 1135.4 160.6)"/>
<ellipse cx="1120.5" cy="144.4" rx="5.0" ry="3.4" fill="#ad2a3e" transform="rotate(-43 1120.5 144.4)"/>
<ellipse cx="1148.6" cy="148.3" rx="5.0" ry="3.4" fill="#ad2a3e" transform="rotate(-43 1148.6 148.3)"/>
<ellipse cx="1133.7" cy="132.1" rx="5.0" ry="3.4" fill="#ad2a3e" transform="rotate(-43 1133.7 132.1)"/>
<path d="M1187.5 183.7 L1185.6 186.0 L1183.6 188.3 L1181.7 190.6 L1180.0 193.1 L1178.6 195.7 L1177.4 198.5 L1176.6 201.4 L1176.0 204.3 L1175.6 207.3 L1175.2 210.3 L1174.8 213.3 L1174.6 216.3 L1174.3 219.3 L1174.1 222.3 L1174.0 225.3 L1173.9 228.3 L1173.8 231.3 L1173.8 234.3 L1173.8 237.3 L1173.8 240.3 L1174.0 243.3 L1174.3 246.3 L1174.7 249.2 L1175.1 252.2 L1175.6 255.2 L1176.1 258.1 L1176.7 261.1 L1177.1 264.1 L1177.6 267.0 L1177.9 270.0 L1178.1 273.0 L1178.1 276.0 L1178.2 279.0 L1178.2 282.0 L1178.1 285.0 L1177.9 288.0 L1177.5 291.0 L1176.9 293.9 L1175.9 296.8 L1174.4 299.4 L1172.5 301.7 L1170.3 303.7 L1167.9 305.5 L1165.3 307.1 L1162.6 308.4 L1159.8 309.5 L1157.0 310.4 L1154.0 310.9 L1151.0 311.0 L1148.0 310.5 L1145.2 309.7 L1142.3 308.7 L1139.6 307.5 L1136.8 306.3 L1134.0 305.2 L1131.2 304.2 L1128.3 303.4 L1125.3 302.8 L1122.4 302.2 L1119.4 301.7 L1116.5 301.2 L1113.5 300.7 L1110.5 300.4 L1107.5 300.4 L1104.5 300.6 L1101.6 301.3 L1098.9 302.6 L1096.6 304.5 L1094.5 306.7 L1092.8 309.1 L1091.3 311.7 L1089.9 314.4 L1088.8 317.2 L1088.0 320.1 L1087.5 323.1 L1087.2 326.1 L1087.1 329.1 L1087.1 332.1 L1087.1 335.1 L1087.1 338.1 L1087.2 341.1 L1087.4 344.1 L1087.8 347.0 L1088.1 350.0 L1088.5 353.0 L1089.0 356.0 L1089.2 358.0" stroke="#6ba2d2" stroke-opacity="0.9" stroke-width="22" fill="none" stroke-linejoin="round"/>
<path d="M1187.5 183.7 L1185.3 183.3 L1183.4 182.9 L1181.8 182.6 L1180.4 182.8 L1179.5 183.4 L1179.0 184.4 L1179.0 185.8 L1179.4 187.5 L1180.2 189.5 L1181.1 191.4 L1182.2 193.3 L1183.2 195.0 L1184.0 196.5 L1184.4 197.6 L1184.3 198.4 L1183.7 199.0 L1182.5 199.4 L1180.9 199.7 L1179.0 200.0 L1176.8 200.4 L1174.7 200.9 L1172.8 201.6 L1171.2 202.4 L1170.1 203.3 L1169.7 204.3 L1169.8 205.4 L1170.6 206.6 L1171.8 207.8 L1173.4 209.1 L1175.2 210.3 L1177.1 211.5 L1178.7 212.7 L1180.0 213.8 L1180.7 214.8 L1180.9 215.8 L1180.5 216.8 L1179.5 217.7 L1178.0 218.5 L1176.2 219.4 L1174.2 220.3 L1172.2 221.1 L1170.4 222.0 L1168.9 223.0 L1168.0 224.0 L1167.7 225.0 L1168.0 226.0 L1168.9 227.1 L1170.3 228.1 L1172.0 229.2 L1174.0 230.3 L1175.9 231.3 L1177.6 232.3 L1179.0 233.3 L1179.8 234.3 L1180.1 235.3 L1179.7 236.3 L1178.8 237.2 L1177.4 238.2 L1175.6 239.2 L1173.7 240.3 L1171.8 241.4 L1170.1 242.5 L1168.8 243.7 L1168.1 244.8 L1167.9 245.9 L1168.4 246.9 L1169.5 247.9 L1171.0 248.7 L1172.9 249.5 L1175.0 250.2 L1177.1 250.9 L1178.9 251.6 L1180.4 252.4 L1181.4 253.2 L1181.8 254.1 L1181.6 255.1 L1180.9 256.3 L1179.6 257.5 L1178.0 258.8 L1176.3 260.1 L1174.5 261.5 L1173.0 262.7 L1171.8 263.9 L1171.2 265.0 L1171.1 266.0 L1171.6 266.9 L1172.6 267.7 L1174.2 268.4 L1176.1 269.2 L1178.1 270.0 L1180.1 270.9 L1181.9 271.8 L1183.3 272.9 L1184.1 273.9 L1184.4 274.9 L1184.0 275.9 L1183.1 276.9 L1181.6 278.0 L1179.9 279.0 L1177.9 280.0 L1176.0 281.0 L1174.3 282.0 L1172.9 282.9 L1172.1 283.9 L1171.8 284.8 L1172.2 285.7 L1173.1 286.7 L1174.5 287.7 L1176.2 288.8 L1178.0 290.1 L1179.7 291.4 L1181.2 292.8 L1182.3 294.2 L1182.7 295.6 L1182.6 296.9 L1181.8 298.0 L1180.3 298.8 L1178.5 299.3 L1176.4 299.4 L1174.1 299.2 L1172.0 298.8 L1170.2 298.4 L1168.7 298.1 L1167.6 298.0 L1166.9 298.4 L1166.5 299.2 L1166.5 300.5 L1166.7 302.2 L1167.0 304.2 L1167.2 306.4 L1167.4 308.6 L1167.2 310.6 L1166.9 312.3 L1166.2 313.5 L1165.2 314.2 L1163.9 314.3 L1162.5 313.7 L1160.9 312.7 L1159.4 311.4 L1157.8 309.8 L1156.4 308.1 L1155.2 306.7 L1154.1 305.5 L1153.3 304.8 L1152.6 304.7 L1152.0 305.2 L1151.4 306.1 L1150.4 307.5 L1149.3 309.2 L1148.0 310.9 L1146.5 312.5 L1144.9 313.8 L1143.5 314.7 L1142.1 315.1 L1141.0 314.9 L1140.2 314.1 L1139.6 312.8 L1139.2 311.0 L1139.0 308.9 L1138.8 306.7 L1138.6 304.6 L1138.3 302.6 L1137.9 301.0 L1137.2 299.9 L1136.3 299.4 L1135.1 299.4 L1133.7 300.0 L1132.2 301.0 L1130.6 302.5 L1129.1 304.1 L1127.8 305.7 L1126.5 307.2 L1125.3 308.3 L1124.1 308.8 L1123.1 308.8 L1122.2 308.2 L1121.5 307.0 L1120.8 305.3 L1120.1 303.3 L1119.5 301.2 L1118.9 299.1 L1118.1 297.3 L1117.3 295.9 L1116.4 295.0 L1115.3 294.6 L1114.2 295.0 L1113.0 295.9 L1111.8 297.2 L1110.6 299.0 L1109.5 300.9 L1108.5 302.8 L1107.6 304.5 L1106.8 305.8 L1106.1 306.6 L1105.4 306.8 L1104.7 306.4 L1103.9 305.6 L1102.7 304.4 L1101.3 303.0 L1099.5 301.7 L1097.6 300.6 L1095.7 299.9 L1093.9 299.7 L1092.4 300.0 L1091.3 300.8 L1090.8 302.1 L1090.8 303.7 L1091.3 305.5 L1092.2 307.5 L1093.2 309.4 L1094.4 311.3 L1095.3 312.9 L1096.0 314.3 L1096.3 315.4 L1096.0 316.2 L1095.2 316.8 L1093.9 317.2 L1092.2 317.4 L1090.1 317.7 L1087.9 318.0 L1085.8 318.5 L1083.9 319.2 L1082.5 320.1 L1081.6 321.2 L1081.3 322.3 L1081.7 323.5 L1082.6 324.7 L1084.0 325.8 L1085.8 327.0 L1087.7 328.1 L1089.6 329.1 L1091.3 330.1 L1092.5 331.1 L1093.2 332.1 L1093.3 333.1 L1092.8 334.0 L1091.8 335.0 L1090.3 336.0 L1088.4 337.1 L1086.5 338.1 L1084.6 339.1 L1083.0 340.3 L1081.8 341.4 L1081.1 342.5 L1081.1 343.6 L1081.7 344.6 L1082.9 345.5 L1084.5 346.4 L1086.5 347.2 L1088.5 348.0 L1090.6 348.7 L1092.3 349.5 L1093.7 350.3 L1094.5 351.2 L1094.8 352.1 L1094.4 353.2 L1093.5 354.3 L1092.1 355.6 L1090.4 356.8 L1088.5 358.0" stroke="#1368b3" stroke-width="2.7" fill="none" stroke-linejoin="round" stroke-linecap="round"/>
<ellipse cx="1175.2" cy="181.1" rx="5.0" ry="3.4" fill="#ad2a3e" transform="rotate(130 1175.2 181.1)"/>
<ellipse cx="1192.0" cy="195.4" rx="5.0" ry="3.4" fill="#ad2a3e" transform="rotate(130 1192.0 195.4)"/>
<ellipse cx="1165.0" cy="203.5" rx="5.0" ry="3.4" fill="#ad2a3e" transform="rotate(99 1165.0 203.5)"/>
<ellipse cx="1186.7" cy="207.1" rx="5.0" ry="3.4" fill="#ad2a3e" transform="rotate(99 1186.7 207.1)"/>
<ellipse cx="1163.1" cy="222.7" rx="5.0" ry="3.4" fill="#ad2a3e" transform="rotate(93 1163.1 222.7)"/>
<ellipse cx="1185.1" cy="223.8" rx="5.0" ry="3.4" fill="#ad2a3e" transform="rotate(93 1185.1 223.8)"/>
<ellipse cx="1162.9" cy="241.8" rx="5.0" ry="3.4" fill="#ad2a3e" transform="rotate(87 1162.9 241.8)"/>
<ellipse cx="1184.9" cy="240.7" rx="5.0" ry="3.4" fill="#ad2a3e" transform="rotate(87 1184.9 240.7)"/>
<ellipse cx="1165.6" cy="262.0" rx="5.0" ry="3.4" fill="#ad2a3e" transform="rotate(80 1165.6 262.0)"/>
<ellipse cx="1187.3" cy="258.2" rx="5.0" ry="3.4" fill="#ad2a3e" transform="rotate(80 1187.3 258.2)"/>
<ellipse cx="1167.1" cy="278.2" rx="5.0" ry="3.4" fill="#ad2a3e" transform="rotate(89 1167.1 278.2)"/>
<ellipse cx="1189.1" cy="277.9" rx="5.0" ry="3.4" fill="#ad2a3e" transform="rotate(89 1189.1 277.9)"/>
<ellipse cx="1165.9" cy="292.2" rx="5.0" ry="3.4" fill="#ad2a3e" transform="rotate(114 1165.9 292.2)"/>
<ellipse cx="1185.9" cy="301.3" rx="5.0" ry="3.4" fill="#ad2a3e" transform="rotate(114 1185.9 301.3)"/>
<ellipse cx="1158.2" cy="298.4" rx="5.0" ry="3.4" fill="#ad2a3e" transform="rotate(156 1158.2 298.4)"/>
<ellipse cx="1167.1" cy="318.5" rx="5.0" ry="3.4" fill="#ad2a3e" transform="rotate(156 1167.1 318.5)"/>
<ellipse cx="1147.9" cy="299.0" rx="5.0" ry="3.4" fill="#ad2a3e" transform="rotate(-160 1147.9 299.0)"/>
<ellipse cx="1140.5" cy="319.7" rx="5.0" ry="3.4" fill="#ad2a3e" transform="rotate(-160 1140.5 319.7)"/>
<ellipse cx="1129.5" cy="292.4" rx="5.0" ry="3.4" fill="#ad2a3e" transform="rotate(-169 1129.5 292.4)"/>
<ellipse cx="1125.1" cy="314.0" rx="5.0" ry="3.4" fill="#ad2a3e" transform="rotate(-169 1125.1 314.0)"/>
<ellipse cx="1108.7" cy="289.4" rx="5.0" ry="3.4" fill="#ad2a3e" transform="rotate(-179 1108.7 289.4)"/>
<ellipse cx="1108.3" cy="311.4" rx="5.0" ry="3.4" fill="#ad2a3e" transform="rotate(-179 1108.3 311.4)"/>
<ellipse cx="1084.3" cy="302.0" rx="5.0" ry="3.4" fill="#ad2a3e" transform="rotate(125 1084.3 302.0)"/>
<ellipse cx="1102.4" cy="314.6" rx="5.0" ry="3.4" fill="#ad2a3e" transform="rotate(125 1102.4 314.6)"/>
<ellipse cx="1076.3" cy="325.3" rx="5.0" ry="3.4" fill="#ad2a3e" transform="rotate(94 1076.3 325.3)"/>
<ellipse cx="1098.2" cy="326.8" rx="5.0" ry="3.4" fill="#ad2a3e" transform="rotate(94 1098.2 326.8)"/>
<ellipse cx="1076.5" cy="345.1" rx="5.0" ry="3.4" fill="#ad2a3e" transform="rotate(85 1076.5 345.1)"/>
<ellipse cx="1098.4" cy="343.0" rx="5.0" ry="3.4" fill="#ad2a3e" transform="rotate(85 1098.4 343.0)"/>
</g>
<g transform="translate(2089.8 213.0) rotate(-49.9)"><rect x="0" y="-7.8" width="113.1" height="15.5" fill="#82b2dd"/><path d="M0 0 L1.6 -7.2 L4.7 7.2 L7.9 -7.2 L11.0 7.2 L14.1 -7.2 L17.3 7.2 L20.4 -7.2 L23.6 7.2 L26.7 -7.2 L29.8 7.2 L33.0 -7.2 L36.1 7.2 L39.3 -7.2 L42.4 7.2 L45.5 -7.2 L48.7 7.2 L51.8 -7.2 L55.0 7.2 L58.1 -7.2 L61.2 7.2 L64.4 -7.2 L67.5 7.2 L70.7 -7.2 L73.8 7.2 L76.9 -7.2 L80.1 7.2 L83.2 -7.2 L86.4 7.2 L89.5 -7.2 L92.7 7.2 L95.8 -7.2 L98.9 7.2 L102.1 -7.2 L105.2 7.2 L108.4 -7.2 L111.5 7.2 L113.1 0" stroke="#0f6aba" stroke-width="1.7" fill="none" stroke-linejoin="miter"/><path d="M0 -7.8 H113.1" stroke="#c8283a" stroke-width="3.8" stroke-dasharray="0 6.28" stroke-dashoffset="-1.57" stroke-linecap="round" fill="none"/><path d="M0 7.8 H113.1" stroke="#c8283a" stroke-width="3.8" stroke-dasharray="0 6.28" stroke-dashoffset="-4.71" stroke-linecap="round" fill="none"/></g>
<g transform="translate(2217.8 97.1) rotate(42.3)"><rect x="0" y="-7.8" width="113.0" height="15.5" fill="#82b2dd"/><path d="M0 0 L1.6 -7.2 L4.7 7.2 L7.9 -7.2 L11.0 7.2 L14.1 -7.2 L17.3 7.2 L20.4 -7.2 L23.6 7.2 L26.7 -7.2 L29.8 7.2 L33.0 -7.2 L36.1 7.2 L39.3 -7.2 L42.4 7.2 L45.5 -7.2 L48.7 7.2 L51.8 -7.2 L55.0 7.2 L58.1 -7.2 L61.2 7.2 L64.4 -7.2 L67.5 7.2 L70.7 -7.2 L73.8 7.2 L76.9 -7.2 L80.1 7.2 L83.2 -7.2 L86.4 7.2 L89.5 -7.2 L92.6 7.2 L95.8 -7.2 L98.9 7.2 L102.1 -7.2 L105.2 7.2 L108.3 -7.2 L111.5 7.2 L113.0 0" stroke="#0f6aba" stroke-width="1.7" fill="none" stroke-linejoin="miter"/><path d="M0 -7.8 H113.0" stroke="#c8283a" stroke-width="3.8" stroke-dasharray="0 6.28" stroke-dashoffset="-1.57" stroke-linecap="round" fill="none"/><path d="M0 7.8 H113.0" stroke="#c8283a" stroke-width="3.8" stroke-dasharray="0 6.28" stroke-dashoffset="-4.71" stroke-linecap="round" fill="none"/></g>
<g transform="translate(2115.7 264.4) rotate(-31.9)"><rect x="0" y="-7.8" width="112.5" height="15.5" fill="#82b2dd"/><path d="M0 0 L1.6 -7.2 L4.7 7.2 L7.8 -7.2 L10.9 7.2 L14.1 -7.2 L17.2 7.2 L20.3 -7.2 L23.4 7.2 L26.6 -7.2 L29.7 7.2 L32.8 -7.2 L35.9 7.2 L39.1 -7.2 L42.2 7.2 L45.3 -7.2 L48.4 7.2 L51.5 -7.2 L54.7 7.2 L57.8 -7.2 L60.9 7.2 L64.0 -7.2 L67.2 7.2 L70.3 -7.2 L73.4 7.2 L76.5 -7.2 L79.7 7.2 L82.8 -7.2 L85.9 7.2 L89.0 -7.2 L92.2 7.2 L95.3 -7.2 L98.4 7.2 L101.5 -7.2 L104.7 7.2 L107.8 -7.2 L110.9 7.2 L112.5 0" stroke="#0f6aba" stroke-width="1.7" fill="none" stroke-linejoin="miter"/><path d="M0 -7.8 H112.5" stroke="#c8283a" stroke-width="3.8" stroke-dasharray="0 6.25" stroke-dashoffset="-1.56" stroke-linecap="round" fill="none"/><path d="M0 7.8 H112.5" stroke="#c8283a" stroke-width="3.8" stroke-dasharray="0 6.25" stroke-dashoffset="-4.69" stroke-linecap="round" fill="none"/></g>
<g transform="translate(2195.9 266.3) rotate(45.0)"><rect x="0" y="-7.8" width="112.9" height="15.5" fill="#82b2dd"/><path d="M0 0 L1.6 -7.2 L4.7 7.2 L7.8 -7.2 L11.0 7.2 L14.1 -7.2 L17.3 7.2 L20.4 -7.2 L23.5 7.2 L26.7 -7.2 L29.8 7.2 L32.9 -7.2 L36.1 7.2 L39.2 -7.2 L42.3 7.2 L45.5 -7.2 L48.6 7.2 L51.8 -7.2 L54.9 7.2 L58.0 -7.2 L61.2 7.2 L64.3 -7.2 L67.4 7.2 L70.6 -7.2 L73.7 7.2 L76.8 -7.2 L80.0 7.2 L83.1 -7.2 L86.3 7.2 L89.4 -7.2 L92.5 7.2 L95.7 -7.2 L98.8 7.2 L101.9 -7.2 L105.1 7.2 L108.2 -7.2 L111.4 7.2 L112.9 0" stroke="#0f6aba" stroke-width="1.7" fill="none" stroke-linejoin="miter"/><path d="M0 -7.8 H112.9" stroke="#c8283a" stroke-width="3.8" stroke-dasharray="0 6.27" stroke-dashoffset="-1.57" stroke-linecap="round" fill="none"/><path d="M0 7.8 H112.9" stroke="#c8283a" stroke-width="3.8" stroke-dasharray="0 6.27" stroke-dashoffset="-4.71" stroke-linecap="round" fill="none"/></g>
<g transform="translate(2296.7 224.4) rotate(71.0)"><rect x="0" y="-7.8" width="113.6" height="15.5" fill="#82b2dd"/><path d="M0 0 L1.6 -7.2 L4.7 7.2 L7.9 -7.2 L11.0 7.2 L14.2 -7.2 L17.4 7.2 L20.5 -7.2 L23.7 7.2 L26.8 -7.2 L30.0 7.2 L33.1 -7.2 L36.3 7.2 L39.5 -7.2 L42.6 7.2 L45.8 -7.2 L48.9 7.2 L52.1 -7.2 L55.2 7.2 L58.4 -7.2 L61.6 7.2 L64.7 -7.2 L67.9 7.2 L71.0 -7.2 L74.2 7.2 L77.3 -7.2 L80.5 7.2 L83.6 -7.2 L86.8 7.2 L90.0 -7.2 L93.1 7.2 L96.3 -7.2 L99.4 7.2 L102.6 -7.2 L105.7 7.2 L108.9 -7.2 L112.1 7.2 L113.6 0" stroke="#0f6aba" stroke-width="1.7" fill="none" stroke-linejoin="miter"/><path d="M0 -7.8 H113.6" stroke="#c8283a" stroke-width="3.8" stroke-dasharray="0 6.31" stroke-dashoffset="-1.58" stroke-linecap="round" fill="none"/><path d="M0 7.8 H113.6" stroke="#c8283a" stroke-width="3.8" stroke-dasharray="0 6.31" stroke-dashoffset="-4.73" stroke-linecap="round" fill="none"/></g>
<g transform="translate(2361.3 277.7) rotate(-64.7)"><rect x="0" y="-7.8" width="111.4" height="15.5" fill="#82b2dd"/><path d="M0 0 L1.5 -7.2 L4.6 7.2 L7.7 -7.2 L10.8 7.2 L13.9 -7.2 L17.0 7.2 L20.1 -7.2 L23.2 7.2 L26.3 -7.2 L29.4 7.2 L32.5 -7.2 L35.6 7.2 L38.7 -7.2 L41.8 7.2 L44.9 -7.2 L48.0 7.2 L51.1 -7.2 L54.2 7.2 L57.3 -7.2 L60.3 7.2 L63.4 -7.2 L66.5 7.2 L69.6 -7.2 L72.7 7.2 L75.8 -7.2 L78.9 7.2 L82.0 -7.2 L85.1 7.2 L88.2 -7.2 L91.3 7.2 L94.4 -7.2 L97.5 7.2 L100.6 -7.2 L103.7 7.2 L106.8 -7.2 L109.9 7.2 L111.4 0" stroke="#0f6aba" stroke-width="1.7" fill="none" stroke-linejoin="miter"/><path d="M0 -7.8 H111.4" stroke="#c8283a" stroke-width="3.8" stroke-dasharray="0 6.19" stroke-dashoffset="-1.55" stroke-linecap="round" fill="none"/><path d="M0 7.8 H111.4" stroke="#c8283a" stroke-width="3.8" stroke-dasharray="0 6.19" stroke-dashoffset="-4.64" stroke-linecap="round" fill="none"/></g>
<g transform="translate(2324.0 484.6) rotate(59.9)"><rect x="0" y="-7.8" width="113.8" height="15.5" fill="#82b2dd"/><path d="M0 0 L1.6 -7.2 L4.7 7.2 L7.9 -7.2 L11.1 7.2 L14.2 -7.2 L17.4 7.2 L20.5 -7.2 L23.7 7.2 L26.9 -7.2 L30.0 7.2 L33.2 -7.2 L36.3 7.2 L39.5 -7.2 L42.7 7.2 L45.8 -7.2 L49.0 7.2 L52.2 -7.2 L55.3 7.2 L58.5 -7.2 L61.6 7.2 L64.8 -7.2 L68.0 7.2 L71.1 -7.2 L74.3 7.2 L77.4 -7.2 L80.6 7.2 L83.8 -7.2 L86.9 7.2 L90.1 -7.2 L93.2 7.2 L96.4 -7.2 L99.6 7.2 L102.7 -7.2 L105.9 7.2 L109.0 -7.2 L112.2 7.2 L113.8 0" stroke="#0f6aba" stroke-width="1.7" fill="none" stroke-linejoin="miter"/><path d="M0 -7.8 H113.8" stroke="#c8283a" stroke-width="3.8" stroke-dasharray="0 6.32" stroke-dashoffset="-1.58" stroke-linecap="round" fill="none"/><path d="M0 7.8 H113.8" stroke="#c8283a" stroke-width="3.8" stroke-dasharray="0 6.32" stroke-dashoffset="-4.74" stroke-linecap="round" fill="none"/></g>
<path d="M2258.0 416.8 C2260.5 422.1 2268.1 436.7 2272.9 448.9 C2277.8 461.1 2282.9 476.0 2287.1 490.0 C2291.3 504.0 2295.2 519.8 2297.9 532.9 C2300.6 546.0 2302.5 556.7 2303.2 568.6 C2303.9 580.5 2303.3 593.0 2302.3 604.3 C2301.3 615.6 2297.9 631.0 2297.0 636.4 L2305 636.4 L2266.3 668.2 L2271.1 618.6 L2275.5 623.9 L2275.5 623.9 C2276.8 619.1 2281.7 604.6 2283.6 595.4 C2285.5 586.2 2286.6 579.0 2287.1 568.6 C2287.6 558.2 2287.5 544.8 2286.3 532.9 C2285.1 521.0 2282.8 510.2 2280.0 497.1 C2277.2 484.0 2273.0 467.7 2269.3 454.3 C2265.6 440.9 2259.9 423.1 2258.0 416.8 Z" fill="#727272"/>
<path d="M2108 906 L1700 706 L1700 1200 Z" fill="url(#beam1)"/>
<text x="1147.5" y="667.9" font-size="57.1" fill="#595757" text-anchor="start" >O<tspan font-size="32.6" stroke="#595757" stroke-width="1.26">2</tspan> NBs</text>
<use href="#bb" transform="translate(1391.3 632.1) scale(41.0)"/>
<use href="#bb" transform="translate(1566.7 674.4) scale(39.3)"/>
<use href="#bb" transform="translate(1253.4 779.9) scale(39.3)"/>
<use href="#bb" transform="translate(1411.6 767.3) scale(35.4)"/>
<use href="#bb" transform="translate(1516.1 823.5) scale(35.4)"/>
<use href="#bb" transform="translate(1384.8 884.0) scale(33.7)"/>
<use href="#bb" transform="translate(1566.7 899.1) scale(17.7)"/>
<use href="#bb" transform="translate(1584.4 1004.5) scale(28.1)"/>
<use href="#bb" transform="translate(1486.8 1074.1) scale(36.3)"/>
<use href="#bb" transform="translate(1584.4 1145.4) scale(44.9)"/>
<use href="#bb" transform="translate(1205.0 969.1) scale(11.7)"/>
<use href="#bb" transform="translate(1514.4 912.1) scale(11.7)"/>
<use href="#bb" transform="translate(1452.2 932.4) scale(17.3)"/>
<use href="#bb" transform="translate(1535.2 951.8) scale(16.4)"/>
<g transform="translate(1216.1 1005.4) rotate(-11.28)"><rect x="0" y="-21.75" width="325.2" height="43.5" fill="#8dbae2" fill-opacity="0.95"/><path d="M0.0 10.9 L0.8 14.3 L1.6 16.7 L2.4 18.2 L3.3 18.5 L4.1 17.8 L4.9 16.3 L5.7 14.1 L6.5 11.6 L7.3 8.8 L8.1 5.9 L8.9 3.2 L9.8 0.6 L10.6 -1.8 L11.4 -4.0 L12.2 -6.0 L13.0 -7.8 L13.8 -9.4 L14.6 -10.9 L15.4 -12.3 L16.3 -13.6 L17.1 -14.8 L17.9 -15.9 L18.7 -16.9 L19.5 -17.7 L20.3 -18.3 L21.1 -18.5 L21.9 -18.2 L22.8 -17.3 L23.6 -15.8 L24.4 -13.5 L25.2 -10.4 L26.0 -6.6 L26.8 -2.4 L27.6 2.2 L28.5 6.7 L29.3 10.8 L30.1 14.2 L30.9 16.7 L31.7 18.1 L32.5 18.5 L33.3 17.8 L34.1 16.4 L35.0 14.2 L35.8 11.7 L36.6 8.9 L37.4 6.0 L38.2 3.3 L39.0 0.6 L39.8 -1.8 L40.6 -3.9 L41.5 -5.9 L42.3 -7.7 L43.1 -9.3 L43.9 -10.8 L44.7 -12.2 L45.5 -13.5 L46.3 -14.7 L47.2 -15.9 L48.0 -16.9 L48.8 -17.7 L49.6 -18.3 L50.4 -18.5 L51.2 -18.2 L52.0 -17.4 L52.8 -15.8 L53.7 -13.5 L54.5 -10.5 L55.3 -6.8 L56.1 -2.5 L56.9 2.0 L57.7 6.5 L58.5 10.6 L59.3 14.1 L60.2 16.6 L61.0 18.1 L61.8 18.5 L62.6 17.9 L63.4 16.4 L64.2 14.3 L65.0 11.7 L65.8 9.0 L66.7 6.1 L67.5 3.3 L68.3 0.7 L69.1 -1.7 L69.9 -3.9 L70.7 -5.8 L71.5 -7.6 L72.4 -9.3 L73.2 -10.8 L74.0 -12.2 L74.8 -13.5 L75.6 -14.7 L76.4 -15.8 L77.2 -16.9 L78.0 -17.7 L78.9 -18.3 L79.7 -18.5 L80.5 -18.3 L81.3 -17.4 L82.1 -15.9 L82.9 -13.6 L83.7 -10.6 L84.5 -6.9 L85.4 -2.7 L86.2 1.8 L87.0 6.3 L87.8 10.5 L88.6 14.0 L89.4 16.5 L90.2 18.1 L91.1 18.5 L91.9 17.9 L92.7 16.5 L93.5 14.4 L94.3 11.8 L95.1 9.1 L95.9 6.2 L96.7 3.4 L97.6 0.8 L98.4 -1.6 L99.2 -3.8 L100.0 -5.8 L100.8 -7.6 L101.6 -9.2 L102.4 -10.7 L103.2 -12.1 L104.1 -13.4 L104.9 -14.7 L105.7 -15.8 L106.5 -16.8 L107.3 -17.7 L108.1 -18.3 L108.9 -18.5 L109.7 -18.3 L110.6 -17.5 L111.4 -16.0 L112.2 -13.7 L113.0 -10.7 L113.8 -7.0 L114.6 -2.8 L115.4 1.7 L116.3 6.2 L117.1 10.3 L117.9 13.8 L118.7 16.5 L119.5 18.0 L120.3 18.5 L121.1 18.0 L121.9 16.6 L122.8 14.5 L123.6 11.9 L124.4 9.2 L125.2 6.3 L126.0 3.5 L126.8 0.9 L127.6 -1.5 L128.4 -3.7 L129.3 -5.7 L130.1 -7.5 L130.9 -9.1 L131.7 -10.7 L132.5 -12.1 L133.3 -13.4 L134.1 -14.6 L134.9 -15.8 L135.8 -16.8 L136.6 -17.6 L137.4 -18.2 L138.2 -18.5 L139.0 -18.3 L139.8 -17.5 L140.6 -16.0 L141.5 -13.8 L142.3 -10.9 L143.1 -7.2 L143.9 -3.0 L144.7 1.5 L145.5 6.0 L146.3 10.2 L147.1 13.7 L148.0 16.4 L148.8 18.0 L149.6 18.5 L150.4 18.0 L151.2 16.6 L152.0 14.6 L152.8 12.0 L153.6 9.3 L154.5 6.4 L155.3 3.6 L156.1 1.0 L156.9 -1.4 L157.7 -3.6 L158.5 -5.6 L159.3 -7.4 L160.2 -9.1 L161.0 -10.6 L161.8 -12.0 L162.6 -13.3 L163.4 -14.6 L164.2 -15.7 L165.0 -16.7 L165.8 -17.6 L166.7 -18.2 L167.5 -18.5 L168.3 -18.3 L169.1 -17.6 L169.9 -16.1 L170.7 -13.9 L171.5 -11.0 L172.3 -7.3 L173.2 -3.1 L174.0 1.4 L174.8 5.9 L175.6 10.1 L176.4 13.6 L177.2 16.3 L178.0 17.9 L178.8 18.5 L179.7 18.0 L180.5 16.7 L181.3 14.6 L182.1 12.1 L182.9 9.4 L183.7 6.5 L184.5 3.7 L185.4 1.1 L186.2 -1.3 L187.0 -3.6 L187.8 -5.6 L188.6 -7.4 L189.4 -9.0 L190.2 -10.5 L191.0 -12.0 L191.9 -13.3 L192.7 -14.5 L193.5 -15.7 L194.3 -16.7 L195.1 -17.6 L195.9 -18.2 L196.7 -18.5 L197.5 -18.3 L198.4 -17.6 L199.2 -16.2 L200.0 -14.0 L200.8 -11.1 L201.6 -7.5 L202.4 -3.3 L203.2 1.2 L204.1 5.7 L204.9 9.9 L205.7 13.5 L206.5 16.2 L207.3 17.9 L208.1 18.5 L208.9 18.1 L209.7 16.7 L210.6 14.7 L211.4 12.2 L212.2 9.5 L213.0 6.6 L213.8 3.8 L214.6 1.2 L215.4 -1.3 L216.2 -3.5 L217.1 -5.5 L217.9 -7.3 L218.7 -9.0 L219.5 -10.5 L220.3 -11.9 L221.1 -13.2 L221.9 -14.5 L222.7 -15.6 L223.6 -16.7 L224.4 -17.6 L225.2 -18.2 L226.0 -18.5 L226.8 -18.3 L227.6 -17.6 L228.4 -16.2 L229.3 -14.1 L230.1 -11.2 L230.9 -7.6 L231.7 -3.5 L232.5 1.0 L233.3 5.5 L234.1 9.8 L234.9 13.4 L235.8 16.1 L236.6 17.9 L237.4 18.5 L238.2 18.1 L239.0 16.8 L239.8 14.8 L240.6 12.3 L241.4 9.6 L242.3 6.7 L243.1 3.9 L243.9 1.3 L244.7 -1.2 L245.5 -3.4 L246.3 -5.4 L247.1 -7.3 L247.9 -8.9 L248.8 -10.4 L249.6 -11.9 L250.4 -13.2 L251.2 -14.4 L252.0 -15.6 L252.8 -16.6 L253.6 -17.5 L254.5 -18.2 L255.3 -18.5 L256.1 -18.4 L256.9 -17.7 L257.7 -16.3 L258.5 -14.2 L259.3 -11.3 L260.1 -7.8 L261.0 -3.6 L261.8 0.9 L262.6 5.4 L263.4 9.6 L264.2 13.3 L265.0 16.1 L265.8 17.8 L266.6 18.5 L267.5 18.1 L268.3 16.9 L269.1 14.9 L269.9 12.4 L270.7 9.7 L271.5 6.8 L272.3 4.0 L273.2 1.4 L274.0 -1.1 L274.8 -3.3 L275.6 -5.4 L276.4 -7.2 L277.2 -8.9 L278.0 -10.4 L278.8 -11.8 L279.7 -13.1 L280.5 -14.4 L281.3 -15.6 L282.1 -16.6 L282.9 -17.5 L283.7 -18.2 L284.5 -18.5 L285.3 -18.4 L286.2 -17.7 L287.0 -16.4 L287.8 -14.3 L288.6 -11.5 L289.4 -7.9 L290.2 -3.8 L291.0 0.7 L291.8 5.2 L292.7 9.5 L293.5 13.2 L294.3 16.0 L295.1 17.8 L295.9 18.5 L296.7 18.2 L297.5 16.9 L298.4 15.0 L299.2 12.5 L300.0 9.8 L300.8 6.9 L301.6 4.1 L302.4 1.5 L303.2 -1.0 L304.0 -3.3 L304.9 -5.3 L305.7 -7.1 L306.5 -8.8 L307.3 -10.3 L308.1 -11.8 L308.9 -13.1 L309.7 -14.3 L310.5 -15.5 L311.4 -16.6 L312.2 -17.5 L313.0 -18.1 L313.8 -18.5 L314.6 -18.4 L315.4 -17.7 L316.2 -16.4 L317.1 -14.4 L317.9 -11.6 L318.7 -8.0 L319.5 -3.9 L320.3 0.5 L321.1 5.1 L321.9 9.3 L322.7 13.0 L323.6 15.9 L324.4 17.7 L325.2 18.5" stroke="#0b6ebb" stroke-width="4.3" fill="none" stroke-linecap="round" stroke-linejoin="round"/><ellipse cx="2.7" cy="-21.75" rx="3.6" ry="4.7" fill="#cb2229"/><ellipse cx="7.7" cy="21.75" rx="3.6" ry="4.7" fill="#cb2229"/><ellipse cx="20.3" cy="-21.75" rx="3.6" ry="4.7" fill="#cb2229"/><ellipse cx="25.3" cy="21.75" rx="3.6" ry="4.7" fill="#cb2229"/><ellipse cx="38.0" cy="-21.75" rx="3.6" ry="4.7" fill="#cb2229"/><ellipse cx="43.0" cy="21.75" rx="3.6" ry="4.7" fill="#cb2229"/><ellipse cx="55.7" cy="-21.75" rx="3.6" ry="4.7" fill="#cb2229"/><ellipse cx="60.7" cy="21.75" rx="3.6" ry="4.7" fill="#cb2229"/><ellipse cx="73.3" cy="-21.75" rx="3.6" ry="4.7" fill="#cb2229"/><ellipse cx="78.3" cy="21.75" rx="3.6" ry="4.7" fill="#cb2229"/><ellipse cx="91.0" cy="-21.75" rx="3.6" ry="4.7" fill="#cb2229"/><ellipse cx="96.0" cy="21.75" rx="3.6" ry="4.7" fill="#cb2229"/><ellipse cx="108.7" cy="-21.75" rx="3.6" ry="4.7" fill="#cb2229"/><ellipse cx="113.7" cy="21.75" rx="3.6" ry="4.7" fill="#cb2229"/><ellipse cx="126.4" cy="-21.75" rx="3.6" ry="4.7" fill="#cb2229"/><ellipse cx="131.4" cy="21.75" rx="3.6" ry="4.7" fill="#cb2229"/><ellipse cx="144.0" cy="-21.75" rx="3.6" ry="4.7" fill="#cb2229"/><ellipse cx="149.0" cy="21.75" rx="3.6" ry="4.7" fill="#cb2229"/><ellipse cx="161.7" cy="-21.75" rx="3.6" ry="4.7" fill="#cb2229"/><ellipse cx="166.7" cy="21.75" rx="3.6" ry="4.7" fill="#cb2229"/><ellipse cx="179.4" cy="-21.75" rx="3.6" ry="4.7" fill="#cb2229"/><ellipse cx="184.4" cy="21.75" rx="3.6" ry="4.7" fill="#cb2229"/><ellipse cx="197.1" cy="-21.75" rx="3.6" ry="4.7" fill="#cb2229"/><ellipse cx="202.1" cy="21.75" rx="3.6" ry="4.7" fill="#cb2229"/><ellipse cx="214.7" cy="-21.75" rx="3.6" ry="4.7" fill="#cb2229"/><ellipse cx="219.7" cy="21.75" rx="3.6" ry="4.7" fill="#cb2229"/><ellipse cx="232.4" cy="-21.75" rx="3.6" ry="4.7" fill="#cb2229"/><ellipse cx="237.4" cy="21.75" rx="3.6" ry="4.7" fill="#cb2229"/><ellipse cx="250.1" cy="-21.75" rx="3.6" ry="4.7" fill="#cb2229"/><ellipse cx="255.1" cy="21.75" rx="3.6" ry="4.7" fill="#cb2229"/><ellipse cx="267.7" cy="-21.75" rx="3.6" ry="4.7" fill="#cb2229"/><ellipse cx="272.7" cy="21.75" rx="3.6" ry="4.7" fill="#cb2229"/><ellipse cx="285.4" cy="-21.75" rx="3.6" ry="4.7" fill="#cb2229"/><ellipse cx="290.4" cy="21.75" rx="3.6" ry="4.7" fill="#cb2229"/><ellipse cx="303.1" cy="-21.75" rx="3.6" ry="4.7" fill="#cb2229"/><ellipse cx="308.1" cy="21.75" rx="3.6" ry="4.7" fill="#cb2229"/><ellipse cx="320.8" cy="-21.75" rx="3.6" ry="4.7" fill="#cb2229"/><ellipse cx="325.8" cy="21.75" rx="3.6" ry="4.7" fill="#cb2229"/></g>
<use href="#bt" transform="translate(1306.2 967.0) scale(13.0)"/>
<use href="#bt" transform="translate(1250.0 986.4) scale(13.0)"/>
<use href="#bt" transform="translate(1375.3 982.1) scale(12.1)"/>
<use href="#bt" transform="translate(1418.5 992.9) scale(15.1)"/>
<use href="#bt" transform="translate(1321.3 1014.5) scale(11.7)"/>
<use href="#bt" transform="translate(1254.3 1023.1) scale(16.4)"/>
<use href="#bt" transform="translate(1479.0 962.6) scale(13.0)"/>
<use href="#bt" transform="translate(1457.4 934.5) scale(13.0)"/>
<use href="#bt" transform="translate(1533.0 949.7) scale(13.0)"/>
<circle cx="1254.3" cy="1003.7" r="38" stroke="#1068b0" stroke-width="4" fill="none" stroke-dasharray="42 8" stroke-dashoffset="20"/>
<path d="M943.5 645.7 L1254.3 965.7" stroke="#1068b0" stroke-width="4" fill="none" stroke-dasharray="42 8" stroke-dashoffset="10"/><path d="M943.5 1264.2 L1254.3 1041.7" stroke="#1068b0" stroke-width="4" fill="none" stroke-dasharray="42 8" stroke-dashoffset="10"/>
<path d="M46.85 645.7 H943.5" stroke="#1068b0" stroke-width="4" fill="none" stroke-dasharray="42 8" stroke-dashoffset="15"/><path d="M46.85 645.7 V1264.2" stroke="#1068b0" stroke-width="4" fill="none" stroke-dasharray="42 8" stroke-dashoffset="27.3"/><path d="M46.85 1264.2 H943.5" stroke="#1068b0" stroke-width="4" fill="none" stroke-dasharray="42 8" stroke-dashoffset="45.5"/><path d="M943.5 645.7 V1264.2" stroke="#1068b0" stroke-width="4" fill="none" stroke-dasharray="42 8" stroke-dashoffset="11.5"/>
<path d="M1411.4 1149.8 L1335.1 1251.8 L1375.4 1245.7 C 1358.9 1290.7, 1335 1370, 1288 1520 L1500 1490 C 1440 1420, 1410 1360, 1400 1253.6 L1430.5 1275.6 Z" fill="url(#garr)"/>
<text x="186.5" y="725.8" font-size="41.1" fill="#595757" text-anchor="start" >O<tspan font-size="23.4" stroke="#595757" stroke-width="0.90">2</tspan> NBs</text>
<text x="684.4" y="861.0" font-size="28.9" fill="#0b68b4" text-anchor="start" >NapFFK PNFs</text>
<text x="259.0" y="1057.4" font-size="24.1" fill="#ee848c" text-anchor="start" >LOx</text>
<text x="591.2" y="1047.1" font-size="24.6" fill="#5ba3a1" text-anchor="start" >CAT</text>
<text x="289.5" y="1156.8" font-size="28.5" fill="#6a3906" text-anchor="start" >Pyruvate</text>
<text x="145.9" y="1222.7" font-size="28.4" fill="#6a3906" text-anchor="start" >Lactate</text>
<text x="502.0" y="1243.2" font-size="32.4" fill="#0b68b4" text-anchor="start" >H<tspan font-size="18.5" stroke="#0b68b4" stroke-width="0.71">2</tspan>O<tspan font-size="18.5" stroke="#0b68b4" stroke-width="0.71">2</tspan></text>
<text x="677.6" y="1243.2" font-size="29.0" fill="#0b68b4" text-anchor="start" >Endogenous H<tspan font-size="16.5" stroke="#0b68b4" stroke-width="0.64">2</tspan>O<tspan font-size="16.5" stroke="#0b68b4" stroke-width="0.64">2</tspan></text>
<use href="#bb" transform="translate(401.0 754.2) scale(31.8)"/>
<use href="#bb" transform="translate(506.9 734.3) scale(25.2)"/>
<use href="#bb" transform="translate(616.0 717.7) scale(28.5)"/>
<use href="#bb" transform="translate(718.1 763.7) scale(28.5)"/>
<use href="#bb" transform="translate(488.8 843.0) scale(19.0)"/>
<use href="#bb" transform="translate(552.9 845.8) scale(17.6)"/>
<use href="#bb" transform="translate(644.0 844.4) scale(19.0)"/>
<use href="#molm" transform="translate(327.0 808.1) rotate(-30) scale(0.285)"/>
<use href="#molm" transform="translate(331.6 774.4) rotate(168) scale(0.285)"/>
<use href="#molm" transform="translate(387.4 804.7) rotate(9) scale(0.285)"/>
<use href="#molm" transform="translate(407.2 782.6) rotate(189) scale(0.285)"/>
<use href="#molm" transform="translate(456.0 805.1) rotate(14) scale(0.285)"/>
<use href="#molm" transform="translate(479.3 780.2) rotate(213) scale(0.285)"/>
<use href="#molm" transform="translate(527.0 809.3) rotate(-27) scale(0.285)"/>
<use href="#molm" transform="translate(534.0 777.9) rotate(180) scale(0.285)"/>
<use href="#molm" transform="translate(595.6 807.0) rotate(-23) scale(0.285)"/>
<use href="#molm" transform="translate(607.2 776.7) rotate(197) scale(0.285)"/>
<use href="#molm" transform="translate(663.0 804.7) rotate(15) scale(0.285)"/>
<use href="#molm" transform="translate(681.6 780.2) rotate(231) scale(0.285)"/>
<use href="#molm" transform="translate(295.6 969.8) rotate(5) scale(0.285)"/>
<use href="#molm" transform="translate(320.0 941.9) rotate(220) scale(0.285)"/>
<use href="#molm" transform="translate(372.3 972.1) rotate(-20) scale(0.285)"/>
<use href="#molm" transform="translate(379.3 941.9) rotate(192) scale(0.285)"/>
<use href="#molm" transform="translate(437.4 969.8) rotate(-25) scale(0.285)"/>
<use href="#molm" transform="translate(443.3 934.9) rotate(175) scale(0.285)"/>
<use href="#molm" transform="translate(504.9 965.1) rotate(20) scale(0.285)"/>
<use href="#molm" transform="translate(528.1 939.5) rotate(222) scale(0.285)"/>
<use href="#molm" transform="translate(574.7 969.8) rotate(-22) scale(0.285)"/>
<use href="#molm" transform="translate(588.6 941.9) rotate(190) scale(0.285)"/>
<use href="#molm" transform="translate(651.4 965.1) rotate(-33) scale(0.285)"/>
<use href="#molm" transform="translate(653.7 930.2) rotate(165) scale(0.285)"/>
<g filter="url(#bump)"><ellipse cx="389.5" cy="866.5" rx="27.0" ry="23.8" fill="#efb3b3" transform="rotate(-30 389.5 866.5)"/><ellipse cx="359.5" cy="880.5" rx="29.2" ry="25.6" fill="#f08d8d" transform="rotate(-30 359.5 880.5)"/></g>
<g filter="url(#bump)"><ellipse cx="588.2" cy="848.0" rx="17.7" ry="11.6" fill="#8ea6c6" transform="rotate(-8 588.2 848.0)"/><ellipse cx="578.8" cy="902.3" rx="18.9" ry="12.2" fill="#f3d495" transform="rotate(8 578.8 902.3)"/><ellipse cx="599.6" cy="876.7" rx="22.6" ry="23.2" fill="#5fbcbd" transform="rotate(0 599.6 876.7)"/><ellipse cx="564.2" cy="873.1" rx="21.3" ry="22.6" fill="#9ad6a3" transform="rotate(0 564.2 873.1)"/></g>
<use href="#bt" transform="translate(308.5 799.3) scale(27.1)"/>
<use href="#bt" transform="translate(588.5 797.0) scale(14.2)"/>
<use href="#bt" transform="translate(655.0 773.2) scale(15.7)"/>
<use href="#bt" transform="translate(550.5 915.6) scale(12.8)"/>
<use href="#bt" transform="translate(617.0 889.5) scale(10.4)"/>
<use href="#bt" transform="translate(593.3 922.7) scale(9.5)"/>
<use href="#bt" transform="translate(339.3 953.6) scale(30.8)"/>
<use href="#bt" transform="translate(481.7 941.7) scale(38.0)"/>
<use href="#bt" transform="translate(662.1 953.6) scale(22.3)"/>
<use href="#bt" transform="translate(401.0 754.2) scale(31.8)"/>
<use href="#bt" transform="translate(718.1 763.7) scale(28.5)"/>
<path d="M201.3 1063.9 L202.7 1062.4 L204.0 1060.9 L205.3 1059.3 L206.5 1057.7 L207.8 1056.1 L209.1 1054.6 L210.3 1053.0 L211.6 1051.4 L212.9 1049.8 L214.1 1048.3 L215.4 1046.7 L216.7 1045.2 L218.0 1043.6 L219.3 1042.1 L220.6 1040.6 L222.0 1039.1 L223.3 1037.6 L224.7 1036.1 L226.1 1034.6 L227.5 1033.2 L228.9 1031.7 L230.3 1030.4 L231.8 1029.0 L233.3 1027.7 L234.8 1026.4 L236.4 1025.2 L238.0 1024.0 L239.7 1022.9 L241.4 1021.8 L243.1 1020.8 L244.8 1019.7 L246.6 1018.8 L248.3 1017.9 L250.1 1017.0 L251.9 1016.1 L253.8 1015.3 L255.6 1014.5 L257.4 1013.7 L259.3 1013.0 L261.2 1012.3 L263.1 1011.7 L265.0 1011.0 L266.9 1010.4 L268.8 1009.9 L270.8 1009.3 L272.7 1008.8 L274.6 1008.3 L276.6 1007.8 L278.5 1007.3 L280.5 1006.8 L282.4 1006.4 L284.4 1006.1 L286.3 1005.7 L288.3 1005.5 L290.3 1005.2 L292.3 1005.0 L294.3 1004.8 L296.3 1004.7 L298.3 1004.5 L300.3 1004.4 L302.3 1004.3 L304.3 1004.2 L306.3 1004.1 L308.3 1004.1 L310.3 1004.0 L312.3 1004.0 L314.4 1003.9 L316.4 1003.9 L318.4 1003.9 L320.4 1003.8 L322.4 1003.8 L324.5 1003.8 L326.5 1003.7 L328.6 1003.7 L330.5 1003.6 L331.8 1003.5 L332.2 1002.2 L332.2 1002.2 L332.2 1002.2 L333.2 999.7 L330.4 999.7 L328.4 999.8 L326.4 999.9 L324.4 1000.0 L322.3 1000.1 L320.3 1000.2 L318.3 1000.2 L316.3 1000.3 L314.3 1000.4 L312.2 1000.4 L310.2 1000.5 L308.2 1000.6 L306.1 1000.7 L304.1 1000.9 L302.1 1001.0 L300.1 1001.1 L298.0 1001.3 L296.0 1001.5 L294.0 1001.7 L291.9 1001.9 L289.9 1002.2 L287.9 1002.5 L285.9 1002.8 L283.8 1003.2 L281.8 1003.6 L279.8 1004.1 L277.9 1004.6 L275.9 1005.1 L273.9 1005.7 L272.0 1006.2 L270.0 1006.8 L268.1 1007.4 L266.1 1008.1 L264.2 1008.7 L262.3 1009.4 L260.4 1010.1 L258.5 1010.9 L256.6 1011.6 L254.7 1012.4 L252.9 1013.3 L251.0 1014.2 L249.2 1015.1 L247.4 1016.0 L245.6 1017.0 L243.8 1018.0 L242.1 1019.1 L240.4 1020.2 L238.7 1021.4 L237.0 1022.5 L235.4 1023.8 L233.8 1025.1 L232.2 1026.4 L230.7 1027.8 L229.2 1029.2 L227.8 1030.7 L226.4 1032.1 L225.0 1033.6 L223.7 1035.1 L222.3 1036.7 L221.0 1038.2 L219.7 1039.7 L218.4 1041.3 L217.1 1042.9 L215.8 1044.4 L214.6 1046.0 L213.3 1047.6 L212.1 1049.2 L210.8 1050.8 L209.6 1052.4 L208.4 1054.0 L207.1 1055.6 L205.9 1057.2 L204.7 1058.8 L203.4 1060.4 L202.2 1062.0 L200.9 1063.6 Z" fill="#5b5d5d"/>
<path d="M358.7 1019.0 L359.4 1020.9 L360.2 1022.8 L361.0 1024.7 L361.7 1026.5 L362.5 1028.4 L363.3 1030.2 L364.1 1032.1 L364.8 1033.9 L365.6 1035.8 L366.3 1037.6 L367.0 1039.5 L367.7 1041.4 L368.3 1043.3 L369.0 1045.1 L369.5 1047.0 L370.1 1048.9 L370.6 1050.8 L371.0 1052.7 L371.4 1054.6 L371.7 1056.5 L371.9 1058.4 L372.1 1060.4 L372.2 1062.3 L372.3 1064.3 L372.3 1066.2 L372.3 1068.2 L372.3 1070.1 L372.2 1072.1 L372.0 1074.0 L371.8 1075.9 L371.5 1077.9 L371.2 1079.8 L370.9 1081.7 L370.5 1083.6 L370.1 1085.5 L369.7 1087.5 L369.2 1089.3 L368.7 1091.2 L368.1 1093.0 L367.4 1094.8 L366.8 1096.7 L366.0 1098.5 L365.3 1100.3 L364.6 1102.2 L363.8 1104.0 L363.0 1105.8 L362.2 1107.6 L361.3 1109.4 L360.5 1111.2 L359.7 1113.0 L358.8 1114.9 L356.4 1108.4 L356.6 1129.2 L372.0 1115.3 L365.7 1117.9 L366.4 1116.0 L367.2 1114.1 L368.0 1112.2 L368.7 1110.4 L369.4 1108.5 L370.2 1106.6 L370.9 1104.6 L371.6 1102.7 L372.2 1100.8 L372.9 1098.8 L373.5 1096.8 L374.1 1094.9 L374.6 1092.8 L375.1 1090.8 L375.5 1088.7 L375.9 1086.7 L376.2 1084.7 L376.5 1082.6 L376.8 1080.6 L377.0 1078.5 L377.2 1076.4 L377.3 1074.4 L377.4 1072.3 L377.4 1070.2 L377.4 1068.1 L377.3 1066.1 L377.1 1064.0 L376.9 1061.9 L376.7 1059.9 L376.4 1057.8 L376.1 1055.8 L375.7 1053.7 L375.2 1051.7 L374.6 1049.7 L374.0 1047.7 L373.3 1045.8 L372.6 1043.8 L371.9 1041.9 L371.1 1040.1 L370.3 1038.2 L369.5 1036.3 L368.7 1034.5 L367.8 1032.6 L367.0 1030.8 L366.1 1029.0 L365.2 1027.1 L364.4 1025.3 L363.5 1023.5 L362.6 1021.7 L361.8 1019.9 L361.0 1018.1 Z" fill="#5b5d5d"/>
<path d="M363.5 1013.3 L365.3 1014.3 L367.1 1015.3 L369.0 1016.2 L370.8 1017.1 L372.6 1018.1 L374.4 1019.0 L376.1 1019.9 L377.9 1020.9 L379.7 1021.8 L381.4 1022.8 L383.1 1023.8 L384.8 1024.9 L386.5 1025.9 L388.1 1027.0 L389.7 1028.2 L391.2 1029.3 L392.7 1030.6 L394.1 1031.8 L395.5 1033.2 L396.9 1034.6 L398.2 1036.0 L399.5 1037.5 L400.7 1039.0 L402.0 1040.5 L403.2 1042.1 L404.4 1043.6 L405.5 1045.2 L406.7 1046.9 L407.8 1048.5 L408.9 1050.1 L410.0 1051.8 L411.1 1053.5 L412.1 1055.2 L413.2 1056.9 L414.2 1058.6 L415.2 1060.3 L416.3 1062.0 L417.2 1063.7 L418.2 1065.4 L419.1 1067.1 L420.0 1068.9 L420.9 1070.6 L421.8 1072.4 L422.6 1074.2 L423.4 1076.0 L424.3 1077.8 L425.1 1079.7 L425.9 1081.5 L426.7 1083.3 L427.5 1085.2 L419.6 1081.4 L440.2 1099.3 L439.4 1072.0 L437.4 1080.5 L436.4 1078.6 L435.5 1076.8 L434.5 1075.0 L433.5 1073.2 L432.5 1071.4 L431.5 1069.6 L430.5 1067.8 L429.4 1066.0 L428.3 1064.2 L427.2 1062.4 L426.1 1060.7 L424.9 1058.9 L423.8 1057.2 L422.6 1055.5 L421.4 1053.8 L420.2 1052.2 L419.0 1050.5 L417.7 1048.9 L416.5 1047.2 L415.2 1045.6 L413.9 1043.9 L412.6 1042.3 L411.3 1040.7 L409.9 1039.2 L408.5 1037.6 L407.1 1036.1 L405.7 1034.5 L404.2 1033.0 L402.7 1031.6 L401.2 1030.2 L399.6 1028.8 L398.0 1027.4 L396.2 1026.1 L394.5 1024.9 L392.7 1023.7 L390.9 1022.6 L389.1 1021.6 L387.2 1020.6 L385.4 1019.7 L383.5 1018.8 L381.7 1017.9 L379.8 1017.0 L377.9 1016.2 L376.0 1015.4 L374.2 1014.6 L372.3 1013.8 L370.4 1013.1 L368.5 1012.3 L366.7 1011.5 L364.9 1010.7 Z" fill="#5b5d5d"/>
<path d="M493.4 1104.8 L493.6 1102.8 L493.7 1100.8 L493.8 1098.7 L493.9 1096.7 L494.0 1094.7 L494.2 1092.7 L494.3 1090.7 L494.5 1088.7 L494.8 1086.7 L495.0 1084.7 L495.4 1082.8 L495.7 1080.9 L496.2 1079.0 L496.8 1077.1 L497.4 1075.3 L498.2 1073.5 L499.0 1071.7 L499.8 1069.9 L500.7 1068.1 L501.7 1066.4 L502.6 1064.7 L503.7 1063.0 L504.7 1061.4 L505.8 1059.7 L506.9 1058.1 L508.1 1056.6 L509.3 1055.0 L510.6 1053.5 L511.8 1052.1 L513.2 1050.6 L514.5 1049.3 L515.9 1047.9 L517.4 1046.6 L518.8 1045.4 L520.3 1044.2 L521.9 1043.0 L523.4 1041.9 L525.0 1040.8 L526.6 1039.7 L528.3 1038.6 L530.0 1037.6 L531.6 1036.7 L533.3 1035.7 L535.1 1034.8 L536.8 1033.9 L538.6 1033.1 L540.3 1032.3 L542.1 1031.5 L543.9 1030.7 L545.6 1030.0 L547.4 1029.4 L549.3 1028.8 L551.1 1028.2 L553.0 1027.6 L554.9 1027.1 L556.8 1026.5 L558.7 1026.0 L560.6 1025.5 L556.1 1034.3 L578.4 1014.6 L548.9 1010.4 L557.4 1015.1 L555.4 1015.8 L553.5 1016.5 L551.6 1017.2 L549.6 1017.9 L547.7 1018.7 L545.8 1019.5 L543.8 1020.4 L541.9 1021.3 L540.0 1022.2 L538.1 1023.2 L536.2 1024.2 L534.4 1025.3 L532.6 1026.4 L530.8 1027.5 L529.1 1028.6 L527.3 1029.8 L525.6 1031.0 L523.9 1032.2 L522.2 1033.5 L520.6 1034.8 L519.0 1036.1 L517.4 1037.5 L515.8 1038.9 L514.3 1040.4 L512.8 1041.9 L511.4 1043.5 L510.0 1045.0 L508.6 1046.7 L507.3 1048.3 L506.1 1050.0 L504.9 1051.7 L503.7 1053.5 L502.6 1055.3 L501.6 1057.1 L500.6 1058.9 L499.6 1060.7 L498.7 1062.6 L497.8 1064.5 L497.0 1066.4 L496.2 1068.3 L495.5 1070.2 L494.8 1072.2 L494.2 1074.2 L493.6 1076.2 L493.2 1078.3 L492.9 1080.4 L492.7 1082.4 L492.5 1084.5 L492.4 1086.5 L492.3 1088.6 L492.3 1090.6 L492.3 1092.7 L492.4 1094.7 L492.4 1096.7 L492.5 1098.7 L492.6 1100.8 L492.6 1102.8 L492.6 1104.8 Z" fill="#5b5d5d"/>
<path d="M747.2 1100.9 L747.1 1098.9 L747.1 1096.9 L747.1 1094.9 L747.1 1092.9 L747.1 1090.9 L747.1 1088.8 L747.1 1086.8 L747.0 1084.8 L746.9 1082.8 L746.8 1080.7 L746.6 1078.7 L746.4 1076.7 L746.1 1074.6 L745.7 1072.6 L745.2 1070.5 L744.6 1068.6 L743.9 1066.6 L743.2 1064.7 L742.4 1062.8 L741.6 1060.9 L740.8 1059.0 L739.9 1057.1 L739.0 1055.3 L738.0 1053.4 L736.9 1051.7 L735.9 1049.9 L734.7 1048.1 L733.5 1046.4 L732.3 1044.7 L731.0 1043.1 L729.6 1041.5 L728.2 1039.9 L726.7 1038.4 L725.3 1037.0 L723.8 1035.5 L722.2 1034.1 L720.7 1032.7 L719.0 1031.4 L717.4 1030.1 L715.7 1028.9 L714.0 1027.7 L712.2 1026.5 L710.4 1025.4 L708.6 1024.3 L706.7 1023.3 L704.8 1022.3 L702.9 1021.4 L701.0 1020.6 L699.1 1019.7 L697.1 1018.9 L695.1 1018.2 L693.1 1017.5 L691.1 1016.9 L689.1 1016.3 L687.1 1015.7 L685.1 1015.2 L683.1 1014.7 L681.1 1014.2 L679.1 1013.7 L677.1 1013.2 L675.1 1012.8 L673.2 1012.3 L671.2 1011.9 L669.2 1011.5 L667.2 1011.1 L665.2 1010.7 L663.2 1010.3 L671.1 1004.5 L642.5 1012.5 L667.1 1029.1 L661.5 1021.1 L663.5 1021.3 L665.4 1021.6 L667.4 1021.8 L669.4 1022.1 L671.4 1022.4 L673.3 1022.7 L675.3 1022.9 L677.3 1023.2 L679.2 1023.6 L681.2 1023.9 L683.1 1024.2 L685.0 1024.6 L686.9 1025.0 L688.8 1025.4 L690.7 1025.8 L692.6 1026.3 L694.4 1026.8 L696.2 1027.4 L698.0 1028.0 L699.8 1028.7 L701.6 1029.4 L703.4 1030.2 L705.1 1031.0 L706.9 1031.8 L708.6 1032.7 L710.2 1033.6 L711.9 1034.6 L713.5 1035.6 L715.1 1036.7 L716.7 1037.8 L718.2 1038.9 L719.8 1040.1 L721.3 1041.4 L722.8 1042.6 L724.2 1043.9 L725.6 1045.3 L727.0 1046.6 L728.3 1048.1 L729.5 1049.5 L730.8 1051.0 L731.9 1052.6 L733.1 1054.1 L734.2 1055.8 L735.3 1057.4 L736.3 1059.1 L737.3 1060.8 L738.2 1062.5 L739.1 1064.3 L739.9 1066.0 L740.8 1067.8 L741.5 1069.6 L742.2 1071.5 L742.8 1073.3 L743.3 1075.2 L743.8 1077.1 L744.2 1079.0 L744.5 1081.0 L744.8 1083.0 L745.0 1084.9 L745.2 1086.9 L745.4 1088.9 L745.6 1090.9 L745.7 1092.9 L745.8 1094.9 L746.0 1097.0 L746.1 1099.0 L746.4 1101.0 Z" fill="#5b5d5d"/>
<g filter="url(#bump)"><ellipse cx="350.0" cy="1008.7" rx="16.7" ry="14.7" fill="#efb3b3" transform="rotate(-30 350.0 1008.7)"/><ellipse cx="328.2" cy="1020.7" rx="18.4" ry="16.1" fill="#f08d8d" transform="rotate(-30 328.2 1020.7)"/></g>
<g filter="url(#bump)"><ellipse cx="613.0" cy="982.6" rx="10.1" ry="6.6" fill="#8ea6c6" transform="rotate(-8 613.0 982.6)"/><ellipse cx="607.6" cy="1013.8" rx="10.8" ry="7.0" fill="#f3d495" transform="rotate(8 607.6 1013.8)"/><ellipse cx="619.5" cy="999.1" rx="12.9" ry="13.3" fill="#5fbcbd" transform="rotate(0 619.5 999.1)"/><ellipse cx="599.2" cy="997.0" rx="12.2" ry="12.9" fill="#9ad6a3" transform="rotate(0 599.2 997.0)"/></g>
<g filter="url(#bump)"><ellipse cx="590.0" cy="327.4" rx="17.8" ry="15.7" fill="#efb3b3" transform="rotate(-30 590.0 327.4)"/><ellipse cx="581.4" cy="353.1" rx="19.4" ry="17.1" fill="#f08d8d" transform="rotate(-30 581.4 353.1)"/></g>
<g filter="url(#bump)"><ellipse cx="688.7" cy="260.3" rx="14.5" ry="9.5" fill="#8ea6c6" transform="rotate(-8 688.7 260.3)"/><ellipse cx="681.0" cy="304.8" rx="15.5" ry="10.0" fill="#f3d495" transform="rotate(8 681.0 304.8)"/><ellipse cx="698.0" cy="283.8" rx="18.5" ry="19.0" fill="#5fbcbd" transform="rotate(0 698.0 283.8)"/><ellipse cx="669.0" cy="280.8" rx="17.5" ry="18.5" fill="#9ad6a3" transform="rotate(0 669.0 280.8)"/></g>
<path d="M2223.7 708.4 C2222.6 709.1 2205.2 713.7 2196.6 714.9 C2188.1 716.1 2180.4 715.9 2172.3 715.7 C2164.2 715.5 2154.7 713.4 2147.9 713.8 C2141.1 714.3 2138.0 716.3 2131.7 718.4 C2125.3 720.6 2117.2 724.5 2110.0 726.6 C2102.8 728.6 2095.5 728.4 2088.3 730.6 C2081.1 732.9 2073.9 737.8 2066.7 740.1 C2059.4 742.4 2051.8 741.7 2045.0 744.2 C2038.2 746.6 2033.3 751.2 2026.0 755.0 C2018.8 758.8 2008.9 763.6 2001.7 767.2 C1994.4 770.8 1989.0 771.5 1982.7 776.7 C1976.4 781.9 1971.0 790.2 1963.7 798.3 C1956.5 806.5 1947.5 817.7 1939.4 825.4 C1931.2 833.1 1923.1 838.0 1915.0 844.4 C1906.9 850.7 1896.5 856.6 1890.6 863.3 C1884.8 870.1 1882.3 877.8 1879.8 885.0 C1877.3 892.2 1877.3 898.5 1875.7 906.7 C1874.1 914.8 1872.1 924.7 1870.3 933.7 C1868.5 942.8 1864.9 952.7 1864.9 960.8 C1864.9 968.9 1866.9 975.3 1870.3 982.5 C1873.7 989.7 1880.0 995.6 1885.2 1004.2 C1890.4 1012.7 1896.0 1026.7 1901.5 1033.9 C1906.9 1041.2 1910.5 1044.5 1917.7 1047.5 C1924.9 1050.4 1936.7 1052.4 1944.8 1051.5 C1952.9 1050.6 1958.8 1043.9 1966.5 1042.1 C1974.1 1040.3 1982.3 1040.7 1990.8 1040.7 C1999.4 1040.7 2010.7 1038.7 2017.9 1042.1 C2025.1 1045.5 2027.8 1056.1 2034.2 1061.0 C2040.5 1066.0 2049.1 1067.8 2055.8 1071.9 C2062.6 1075.9 2068.5 1081.3 2074.8 1085.4 C2081.1 1089.5 2087.0 1094.2 2093.7 1096.2 C2100.5 1098.3 2108.2 1098.9 2115.4 1097.6 C2122.6 1096.2 2131.2 1092.8 2137.1 1088.1 C2142.9 1083.4 2146.5 1074.1 2150.6 1069.1 C2154.7 1064.2 2157.4 1058.8 2161.4 1058.3 C2165.5 1057.9 2170.0 1063.5 2175.0 1066.4 C2179.9 1069.4 2184.5 1074.1 2191.2 1075.9 C2198.0 1077.7 2210.6 1076.7 2215.6 1077.3 C2220.6 1077.8 2217.5 1077.8 2221.1 1079.1 C2224.7 1080.4 2231.4 1081.8 2237.3 1085.0 C2243.1 1088.2 2248.8 1093.6 2256.4 1098.2 C2263.9 1102.9 2273.5 1108.0 2282.8 1112.9 C2292.1 1117.8 2301.9 1123.6 2312.2 1127.6 C2322.4 1131.6 2335.2 1135.0 2344.5 1137.0 C2353.8 1138.9 2362.1 1139.9 2368.0 1139.3 C2373.8 1138.8 2376.3 1136.9 2379.7 1133.5 C2383.1 1130.0 2384.6 1122.2 2388.5 1118.8 C2392.4 1115.4 2396.3 1114.1 2403.2 1112.9 C2410.1 1111.7 2421.3 1113.6 2429.6 1111.4 C2438.0 1109.2 2446.5 1104.8 2453.1 1099.7 C2459.7 1094.6 2465.9 1087.7 2469.3 1080.6 C2472.7 1073.5 2473.4 1064.4 2473.7 1057.1 C2473.9 1049.8 2472.5 1042.7 2470.7 1036.5 C2469.0 1030.4 2462.9 1024.1 2463.4 1020.4 C2463.9 1016.7 2468.8 1016.0 2473.7 1014.5 C2478.6 1013.1 2488.4 1014.5 2492.8 1011.6 C2497.2 1008.6 2496.9 1000.3 2500.1 996.9 C2503.3 993.5 2508.9 993.7 2511.9 991.0 C2514.8 988.3 2517.5 987.4 2517.7 980.7 C2518.0 974.1 2513.3 959.2 2513.3 951.4 C2513.3 943.5 2517.2 939.6 2517.7 933.8 C2518.2 927.9 2518.7 922.0 2516.3 916.1 C2513.8 910.3 2507.2 904.4 2503.1 898.5 C2498.9 892.6 2494.2 887.3 2491.3 880.9 C2488.4 874.5 2487.4 866.5 2485.4 860.3 C2483.5 854.2 2483.5 847.4 2479.6 844.2 C2475.6 841.0 2466.8 843.9 2461.9 841.2 C2457.0 838.6 2454.6 833.9 2450.2 828.0 C2445.8 822.2 2441.4 812.4 2435.5 806.0 C2429.6 799.6 2421.8 795.5 2414.9 789.9 C2408.1 784.2 2401.2 775.9 2394.4 772.2 C2387.5 768.6 2380.2 770.3 2373.8 767.8 C2367.5 765.4 2363.1 761.7 2356.2 757.5 C2349.4 753.4 2341.5 746.8 2332.7 742.9 C2323.9 738.9 2312.6 737.2 2303.3 734.1 C2294.0 730.9 2285.2 727.2 2276.9 723.8 C2268.6 720.3 2261.3 716.3 2253.4 713.5 C2245.6 710.7 2238.2 707.5 2229.9 707.0 C2221.6 706.5 2204.5 710.3 2203.5 710.6 C2202.5 710.8 2224.9 707.7 2223.7 708.4 Z" fill="#6a6a6a" fill-opacity="0.33" filter="url(#bsh)" transform="translate(3 6)"/>
<path d="M2223.7 708.4 C2222.6 709.1 2205.2 713.7 2196.6 714.9 C2188.1 716.1 2180.4 715.9 2172.3 715.7 C2164.2 715.5 2154.7 713.4 2147.9 713.8 C2141.1 714.3 2138.0 716.3 2131.7 718.4 C2125.3 720.6 2117.2 724.5 2110.0 726.6 C2102.8 728.6 2095.5 728.4 2088.3 730.6 C2081.1 732.9 2073.9 737.8 2066.7 740.1 C2059.4 742.4 2051.8 741.7 2045.0 744.2 C2038.2 746.6 2033.3 751.2 2026.0 755.0 C2018.8 758.8 2008.9 763.6 2001.7 767.2 C1994.4 770.8 1989.0 771.5 1982.7 776.7 C1976.4 781.9 1971.0 790.2 1963.7 798.3 C1956.5 806.5 1947.5 817.7 1939.4 825.4 C1931.2 833.1 1923.1 838.0 1915.0 844.4 C1906.9 850.7 1896.5 856.6 1890.6 863.3 C1884.8 870.1 1882.3 877.8 1879.8 885.0 C1877.3 892.2 1877.3 898.5 1875.7 906.7 C1874.1 914.8 1872.1 924.7 1870.3 933.7 C1868.5 942.8 1864.9 952.7 1864.9 960.8 C1864.9 968.9 1866.9 975.3 1870.3 982.5 C1873.7 989.7 1880.0 995.6 1885.2 1004.2 C1890.4 1012.7 1896.0 1026.7 1901.5 1033.9 C1906.9 1041.2 1910.5 1044.5 1917.7 1047.5 C1924.9 1050.4 1936.7 1052.4 1944.8 1051.5 C1952.9 1050.6 1958.8 1043.9 1966.5 1042.1 C1974.1 1040.3 1982.3 1040.7 1990.8 1040.7 C1999.4 1040.7 2010.7 1038.7 2017.9 1042.1 C2025.1 1045.5 2027.8 1056.1 2034.2 1061.0 C2040.5 1066.0 2049.1 1067.8 2055.8 1071.9 C2062.6 1075.9 2068.5 1081.3 2074.8 1085.4 C2081.1 1089.5 2087.0 1094.2 2093.7 1096.2 C2100.5 1098.3 2108.2 1098.9 2115.4 1097.6 C2122.6 1096.2 2131.2 1092.8 2137.1 1088.1 C2142.9 1083.4 2146.5 1074.1 2150.6 1069.1 C2154.7 1064.2 2157.4 1058.8 2161.4 1058.3 C2165.5 1057.9 2170.0 1063.5 2175.0 1066.4 C2179.9 1069.4 2184.5 1074.1 2191.2 1075.9 C2198.0 1077.7 2210.6 1076.7 2215.6 1077.3 C2220.6 1077.8 2217.5 1077.8 2221.1 1079.1 C2224.7 1080.4 2231.4 1081.8 2237.3 1085.0 C2243.1 1088.2 2248.8 1093.6 2256.4 1098.2 C2263.9 1102.9 2273.5 1108.0 2282.8 1112.9 C2292.1 1117.8 2301.9 1123.6 2312.2 1127.6 C2322.4 1131.6 2335.2 1135.0 2344.5 1137.0 C2353.8 1138.9 2362.1 1139.9 2368.0 1139.3 C2373.8 1138.8 2376.3 1136.9 2379.7 1133.5 C2383.1 1130.0 2384.6 1122.2 2388.5 1118.8 C2392.4 1115.4 2396.3 1114.1 2403.2 1112.9 C2410.1 1111.7 2421.3 1113.6 2429.6 1111.4 C2438.0 1109.2 2446.5 1104.8 2453.1 1099.7 C2459.7 1094.6 2465.9 1087.7 2469.3 1080.6 C2472.7 1073.5 2473.4 1064.4 2473.7 1057.1 C2473.9 1049.8 2472.5 1042.7 2470.7 1036.5 C2469.0 1030.4 2462.9 1024.1 2463.4 1020.4 C2463.9 1016.7 2468.8 1016.0 2473.7 1014.5 C2478.6 1013.1 2488.4 1014.5 2492.8 1011.6 C2497.2 1008.6 2496.9 1000.3 2500.1 996.9 C2503.3 993.5 2508.9 993.7 2511.9 991.0 C2514.8 988.3 2517.5 987.4 2517.7 980.7 C2518.0 974.1 2513.3 959.2 2513.3 951.4 C2513.3 943.5 2517.2 939.6 2517.7 933.8 C2518.2 927.9 2518.7 922.0 2516.3 916.1 C2513.8 910.3 2507.2 904.4 2503.1 898.5 C2498.9 892.6 2494.2 887.3 2491.3 880.9 C2488.4 874.5 2487.4 866.5 2485.4 860.3 C2483.5 854.2 2483.5 847.4 2479.6 844.2 C2475.6 841.0 2466.8 843.9 2461.9 841.2 C2457.0 838.6 2454.6 833.9 2450.2 828.0 C2445.8 822.2 2441.4 812.4 2435.5 806.0 C2429.6 799.6 2421.8 795.5 2414.9 789.9 C2408.1 784.2 2401.2 775.9 2394.4 772.2 C2387.5 768.6 2380.2 770.3 2373.8 767.8 C2367.5 765.4 2363.1 761.7 2356.2 757.5 C2349.4 753.4 2341.5 746.8 2332.7 742.9 C2323.9 738.9 2312.6 737.2 2303.3 734.1 C2294.0 730.9 2285.2 727.2 2276.9 723.8 C2268.6 720.3 2261.3 716.3 2253.4 713.5 C2245.6 710.7 2238.2 707.5 2229.9 707.0 C2221.6 706.5 2204.5 710.3 2203.5 710.6 C2202.5 710.8 2224.9 707.7 2223.7 708.4 Z" fill="url(#brg)" stroke="#a0a5a8" stroke-width="2.1"/>
<path d="M2244.6 731.1 C2240.2 732.8 2224.8 737.0 2218.2 741.4 C2211.6 745.8 2205.9 751.7 2205.0 757.5 C2204.0 763.4 2214.0 772.5 2212.3 776.6 C2210.6 780.8 2200.1 779.8 2194.7 782.5 C2189.3 785.2 2182.4 791.1 2180.0 792.8 M2276.9 750.2 C2277.7 753.9 2282.8 764.2 2281.3 772.2 C2279.9 780.3 2272.3 790.8 2268.1 798.7 C2263.9 806.5 2261.3 815.3 2256.4 819.2 C2251.5 823.1 2243.4 819.2 2238.7 822.2 C2234.1 825.1 2227.7 831.5 2228.5 836.8 C2229.2 842.2 2241.4 848.1 2243.1 854.5 C2244.9 860.8 2241.4 869.6 2238.7 875.0 C2236.0 880.4 2228.9 884.8 2227.0 886.8 M2200.6 839.8 C2201.5 837.3 2204.7 825.1 2206.4 825.1 C2208.1 825.1 2208.4 835.6 2210.8 839.8 C2213.3 843.9 2219.4 848.3 2221.1 850.1 M2281.3 808.9 C2282.5 811.1 2289.2 817.5 2288.7 822.2 C2288.2 826.8 2279.6 829.5 2278.4 836.8 C2277.2 844.2 2280.8 861.3 2281.3 866.2 M2325.4 810.4 C2324.9 812.4 2324.4 818.7 2322.4 822.2 C2320.5 825.6 2315.1 829.5 2313.6 831.0 M2274.0 878.0 C2276.9 878.7 2286.7 884.3 2291.6 882.4 C2296.5 880.4 2300.9 866.9 2303.3 866.2 C2305.8 865.5 2304.4 874.5 2306.3 878.0 C2308.1 881.4 2313.1 885.3 2314.5 886.8 M2335.7 782.5 C2339.1 784.2 2351.3 787.7 2356.2 792.8 C2361.1 797.9 2365.5 807.0 2365.0 813.3 C2364.5 819.7 2356.5 825.6 2353.3 831.0 C2350.1 836.4 2344.5 840.8 2345.9 845.7 C2347.4 850.5 2358.9 854.5 2362.1 860.3 C2365.3 866.2 2367.0 876.5 2365.0 880.9 C2363.1 885.3 2352.3 882.9 2350.3 886.8 C2348.4 890.7 2350.6 898.5 2353.3 904.4 C2356.0 910.3 2366.0 917.6 2366.5 922.0 C2367.0 926.4 2361.4 929.4 2356.2 930.8 C2351.1 932.3 2341.5 932.8 2335.7 930.8 C2329.8 928.9 2325.4 922.7 2321.0 919.1 C2316.6 915.4 2312.9 908.6 2309.2 908.8 C2305.6 909.0 2300.7 918.6 2298.9 920.5 M2263.7 880.9 C2264.9 883.3 2270.8 890.2 2271.0 895.6 C2271.3 901.0 2270.6 908.3 2265.2 913.2 C2259.8 918.1 2247.3 923.5 2238.7 924.9 C2230.2 926.4 2217.9 922.5 2213.8 922.0 M2180.0 857.4 C2182.9 858.4 2193.7 859.8 2197.6 863.3 C2201.5 866.7 2204.0 873.8 2203.5 878.0 C2203.0 882.1 2198.6 886.3 2194.7 888.2 C2190.8 890.2 2182.4 889.5 2180.0 889.7 M2180.0 922.0 C2182.9 921.0 2192.7 918.6 2197.6 916.1 C2202.5 913.7 2207.4 908.8 2209.4 907.3 M2404.7 876.5 C2403.9 873.3 2402.5 864.0 2400.3 857.4 C2398.1 850.8 2391.9 842.0 2391.5 836.8 C2391.0 831.7 2393.4 828.3 2397.3 826.6 C2401.2 824.9 2409.1 824.9 2414.9 826.6 C2420.8 828.3 2426.2 831.7 2432.6 836.8 C2438.9 842.0 2445.1 850.8 2453.1 857.4 C2461.2 864.0 2476.4 873.3 2481.0 876.5 M2279.9 939.0 C2282.8 939.4 2292.6 939.0 2297.5 941.1 C2302.4 943.2 2305.8 946.7 2309.2 951.4 C2312.6 956.0 2314.1 964.1 2318.0 969.0 C2321.9 973.9 2327.8 980.0 2332.7 980.7 C2337.6 981.5 2342.5 975.1 2347.4 973.4 C2352.3 971.7 2357.2 971.2 2362.1 970.5 C2367.0 969.7 2372.9 971.4 2376.8 969.0 C2380.7 966.6 2382.2 957.3 2385.6 955.8 C2389.0 954.3 2395.4 959.5 2397.3 960.2 M2234.3 951.4 C2236.8 952.4 2245.6 953.8 2249.0 957.3 C2252.4 960.7 2255.1 966.6 2254.9 971.9 C2254.6 977.3 2251.7 985.4 2247.5 989.6 C2243.4 993.7 2236.3 995.4 2229.9 996.9 C2223.6 998.4 2215.2 996.2 2209.4 998.4 C2203.5 1000.6 2198.2 1006.2 2194.7 1010.1 C2191.2 1014.0 2189.3 1019.9 2188.2 1021.9 M2272.5 963.1 C2274.7 963.9 2282.3 964.6 2285.7 967.5 C2289.2 970.5 2291.8 977.1 2293.1 980.7 C2294.3 984.4 2293.1 988.1 2293.1 989.6 M2482.5 916.1 C2479.8 918.1 2470.3 924.0 2466.3 927.9 C2462.4 931.8 2459.2 935.2 2459.0 939.6 C2458.8 944.0 2462.4 948.9 2464.9 954.3 C2467.3 959.7 2474.2 967.3 2473.7 971.9 C2473.2 976.6 2467.3 979.5 2461.9 982.2 C2456.6 984.9 2448.0 986.5 2441.4 988.1 C2434.8 989.7 2425.5 991.3 2422.3 991.9 M2180.0 1030.7 C2182.9 1028.5 2191.3 1020.5 2197.6 1017.5 C2204.0 1014.4 2211.3 1013.2 2218.2 1012.5 C2225.0 1011.7 2232.9 1012.0 2238.7 1013.1 C2244.6 1014.1 2247.1 1018.9 2253.4 1018.9 C2259.8 1018.9 2268.1 1012.3 2276.9 1013.1 C2285.7 1013.8 2297.0 1024.6 2306.3 1023.3 C2315.6 1022.1 2323.4 1008.6 2332.7 1005.7 C2342.0 1002.8 2352.3 1004.7 2362.1 1005.7 C2371.9 1006.7 2382.6 1012.3 2391.5 1011.6 C2400.3 1010.9 2406.1 1002.5 2414.9 1001.3 C2423.8 1000.1 2436.2 1001.1 2444.3 1004.2 C2452.4 1007.4 2460.2 1017.7 2463.4 1020.4 M2253.4 1018.9 C2254.9 1023.8 2255.9 1038.5 2262.2 1048.3 C2268.6 1058.1 2279.9 1070.1 2291.6 1077.7 C2303.3 1085.3 2318.0 1089.7 2332.7 1093.8 C2347.4 1098.0 2364.0 1100.2 2379.7 1102.6 C2395.4 1105.1 2418.9 1107.5 2426.7 1108.5 M2265.2 1032.1 C2268.6 1032.8 2278.6 1034.6 2285.7 1036.0 C2292.8 1037.3 2304.1 1039.4 2307.8 1040.1 M2276.9 1052.7 C2280.3 1052.9 2290.6 1053.7 2297.5 1054.2 C2304.3 1054.7 2314.6 1055.4 2318.0 1055.6 M2296.9 1063.6 C2299.4 1063.6 2307.3 1063.4 2312.2 1063.6 C2317.1 1063.7 2323.9 1064.3 2326.3 1064.4 M2306.3 1080.0 C2308.7 1079.9 2316.6 1079.3 2321.0 1079.1 C2325.4 1079.0 2330.8 1079.1 2332.7 1079.1 M2313.6 1038.0 C2318.8 1038.8 2333.5 1039.2 2344.5 1042.4 C2355.5 1045.6 2368.0 1052.2 2379.7 1057.1 C2391.5 1062.0 2405.6 1068.4 2414.9 1071.8 C2424.2 1075.2 2428.4 1076.7 2435.5 1077.7 C2442.6 1078.6 2453.9 1077.7 2457.5 1077.7 M2332.7 1054.2 C2337.6 1056.6 2351.3 1064.0 2362.1 1068.9 C2372.9 1073.7 2386.1 1079.4 2397.3 1083.5 C2408.6 1087.7 2420.8 1091.9 2429.6 1093.8 C2438.4 1095.8 2446.8 1095.0 2450.2 1095.3 M2338.6 1077.7 C2344.0 1080.1 2360.1 1088.2 2370.9 1092.3 C2381.7 1096.5 2394.1 1100.2 2403.2 1102.6 C2412.3 1105.1 2421.6 1106.3 2425.2 1107.0 M2338.6 1013.1 C2341.5 1015.5 2350.3 1021.9 2356.2 1027.7 C2362.1 1033.6 2368.0 1043.9 2373.8 1048.3 C2379.7 1052.7 2385.1 1055.1 2391.5 1054.2 C2397.8 1053.2 2406.6 1047.3 2412.0 1042.4 C2417.4 1037.5 2421.3 1029.9 2423.8 1024.8 C2426.2 1019.7 2426.2 1013.8 2426.7 1011.6 M2375.3 1017.5 C2377.0 1019.9 2381.9 1028.5 2385.6 1032.1 C2389.3 1035.8 2393.2 1038.0 2397.3 1039.5 C2401.5 1041.0 2408.3 1040.7 2410.5 1041.0 M2394.4 1011.6 C2396.3 1012.8 2403.0 1016.7 2406.1 1018.9 C2409.3 1021.1 2412.3 1023.8 2413.5 1024.8 M2406.1 1013.1 C2407.6 1014.0 2412.7 1017.5 2414.9 1018.9 C2417.2 1020.4 2418.6 1021.4 2419.4 1021.9 M2433.2 1016.0 C2432.8 1018.9 2433.6 1028.2 2431.1 1033.6 C2428.6 1039.0 2422.5 1044.6 2417.9 1048.3 C2413.2 1052.0 2407.9 1054.2 2403.2 1055.6 C2398.6 1057.1 2392.2 1056.9 2390.0 1057.1 M2444.3 1014.5 C2443.8 1018.2 2443.8 1030.2 2441.4 1036.5 C2438.9 1042.9 2434.5 1048.5 2429.6 1052.7 C2424.7 1056.9 2417.4 1059.9 2412.0 1061.5 C2406.6 1063.1 2399.8 1062.2 2397.3 1062.4 M2456.1 1018.9 C2455.6 1022.8 2455.6 1035.6 2453.1 1042.4 C2450.7 1049.3 2446.3 1055.4 2441.4 1060.0 C2436.5 1064.7 2429.1 1068.4 2423.8 1070.3 C2418.4 1072.3 2411.5 1071.5 2409.1 1071.8 M2463.4 1042.4 C2462.2 1045.8 2459.7 1057.8 2456.1 1063.0 C2452.4 1068.1 2446.5 1071.1 2441.4 1073.3 C2436.2 1075.5 2427.9 1075.7 2425.2 1076.2 M2347.4 1107.0 C2345.4 1108.5 2337.9 1111.9 2335.7 1115.8 C2333.5 1119.8 2333.5 1127.1 2334.2 1130.5 C2334.9 1134.0 2337.9 1135.2 2340.1 1136.4 C2342.3 1137.6 2346.2 1137.6 2347.4 1137.9 M2215.2 1023.3 L2180.0 1046.8 M2216.7 1030.7 L2187.3 1067.4 M2232.9 1032.1 L2206.4 1067.4 M2247.5 1020.4 L2224.1 1032.1 M2253.4 1035.1 L2224.1 1074.7 M2260.8 1060.0 L2240.2 1082.1 M2268.1 1077.7 L2252.0 1092.3 M2284.3 1092.3 L2268.1 1107.0 M2301.9 1101.2 L2285.1 1115.8 M2329.8 1112.9 L2313.6 1127.6 M2237.3 1085.0 C2241.4 1091.1 2252.6 1107.3 2262.2 1121.7 C2271.9 1136.2 2289.6 1163.3 2295.1 1171.6 M2019.8 794.3 C2017.2 794.1 2009.2 792.3 2004.4 793.5 C1999.5 794.6 1994.4 797.5 1990.8 801.0 C1987.2 804.6 1987.2 811.6 1982.7 814.6 C1978.2 817.5 1968.9 815.7 1963.7 818.6 C1958.6 821.6 1953.6 829.9 1951.6 832.2 M2158.7 753.6 C2155.1 763.3 2143.8 794.9 2137.1 811.9 C2130.3 828.8 2121.3 848.0 2118.1 855.2 M2245.4 730.6 C2241.8 732.0 2230.5 734.7 2223.7 738.7 C2217.0 742.8 2206.6 748.7 2204.8 755.0 C2203.0 761.3 2215.2 771.7 2212.9 776.7 C2210.6 781.6 2196.9 781.2 2191.2 784.8 C2185.6 788.4 2179.7 792.5 2179.0 798.3 C2178.4 804.2 2187.4 813.7 2187.2 820.0 C2186.9 826.3 2180.9 833.1 2177.7 836.2 C2174.5 839.4 2170.2 836.2 2168.2 839.0 C2166.2 841.7 2165.1 848.9 2165.5 852.5 C2166.0 856.1 2170.0 859.3 2170.9 860.6 M2126.2 719.8 C2120.8 721.6 2102.3 725.7 2093.7 730.6 C2085.2 735.6 2078.6 742.4 2074.8 749.6 C2070.9 756.8 2070.3 766.7 2070.7 774.0 C2071.2 781.2 2075.0 787.5 2077.5 792.9 C2080.0 798.3 2085.2 801.0 2085.6 806.5 C2086.1 811.9 2083.4 818.2 2080.2 825.4 C2077.0 832.6 2070.7 842.6 2066.7 849.8 C2062.6 857.0 2057.6 865.6 2055.8 868.7 M1942.1 852.5 C1942.5 856.1 1946.1 866.5 1944.8 874.2 C1943.4 881.8 1938.7 891.8 1934.0 898.5 C1929.2 905.3 1919.3 912.1 1916.4 914.8 M1962.4 876.9 C1963.7 880.0 1968.5 889.5 1970.5 895.8 C1972.5 902.1 1975.7 910.0 1974.6 914.8 C1973.4 919.5 1967.1 922.2 1963.7 924.3 C1960.4 926.3 1955.8 926.5 1954.3 927.0 M1980.0 879.6 C1981.8 882.7 1985.9 892.7 1990.8 898.5 C1995.8 904.4 2003.5 911.6 2009.8 914.8 C2016.1 917.9 2023.8 918.8 2028.7 917.5 C2033.7 916.1 2037.1 911.2 2039.6 906.7 C2042.1 902.1 2043.6 895.4 2043.6 890.4 C2043.6 885.4 2040.3 879.1 2039.6 876.9 M2053.1 876.9 C2053.6 878.7 2054.5 884.3 2055.8 887.7 C2057.2 891.1 2060.3 895.6 2061.2 897.2 M2082.9 887.7 C2084.7 888.8 2090.1 893.8 2093.7 894.5 C2097.3 895.1 2101.2 894.2 2104.6 891.8 C2108.0 889.3 2110.9 883.9 2114.0 879.6 C2117.2 875.3 2119.7 869.9 2123.5 866.0 C2127.4 862.2 2132.1 858.3 2137.1 856.6 C2142.0 854.8 2147.7 855.1 2153.3 855.7 C2159.0 856.4 2168.0 859.8 2170.9 860.6 M2145.2 848.4 C2149.3 849.1 2161.9 850.5 2169.6 852.5 C2177.2 854.5 2185.8 857.5 2191.2 860.6 C2196.6 863.8 2200.3 867.4 2202.1 871.4 C2203.9 875.5 2204.8 881.8 2202.1 885.0 C2199.4 888.1 2192.1 889.1 2185.8 890.4 C2179.5 891.8 2170.5 891.5 2164.2 893.1 C2157.8 894.7 2153.3 898.1 2147.9 899.9 C2142.5 901.7 2138.0 902.8 2131.7 903.9 C2125.3 905.1 2116.3 904.8 2110.0 906.7 C2103.7 908.5 2098.3 911.6 2093.7 914.8 C2089.2 917.9 2088.3 922.9 2082.9 925.6 C2077.5 928.3 2067.6 928.8 2061.2 931.0 C2054.9 933.3 2049.5 935.5 2045.0 939.2 C2040.5 942.8 2037.8 947.3 2034.2 952.7 C2030.5 958.1 2025.1 968.5 2023.3 971.7 M2120.8 913.4 C2122.6 915.0 2129.4 919.1 2131.7 922.9 C2133.9 926.7 2135.7 931.9 2134.4 936.4 C2133.0 941.0 2128.0 946.8 2123.5 950.0 C2119.0 953.1 2111.3 952.7 2107.3 955.4 C2103.2 958.1 2100.5 964.4 2099.2 966.2 M2210.2 906.7 C2207.5 908.2 2199.8 913.7 2193.9 916.1 C2188.1 918.6 2180.6 919.5 2175.0 921.6 C2169.3 923.6 2163.0 925.6 2160.1 928.3 C2157.2 931.0 2157.8 936.2 2157.4 937.8 M2250.0 820.0 C2247.4 820.9 2238.0 822.7 2234.6 825.4 C2231.1 828.1 2228.2 831.7 2229.1 836.2 C2230.0 840.8 2237.3 847.5 2240.0 852.5 C2242.7 857.5 2245.8 861.5 2245.4 866.0 C2244.9 870.5 2240.4 876.0 2237.3 879.6 C2234.1 883.2 2228.2 886.3 2226.4 887.7 M2202.1 839.0 C2202.7 837.1 2204.8 827.7 2206.1 828.1 C2207.5 828.6 2207.5 838.0 2210.2 841.7 C2212.9 845.3 2220.3 848.4 2222.4 849.8 M2214.3 921.6 C2216.7 922.2 2223.2 924.9 2229.1 925.6 C2235.1 926.3 2246.5 925.6 2250.0 925.6 M2233.2 951.3 C2234.8 951.6 2239.9 951.8 2242.7 952.7 C2245.5 953.6 2248.8 956.1 2250.0 956.8 M1935.3 922.9 C1937.3 925.2 1944.8 931.5 1947.5 936.4 C1950.2 941.4 1951.8 947.3 1951.6 952.7 C1951.3 958.1 1947.0 966.2 1946.1 968.9 M1893.3 863.3 C1894.2 869.6 1898.7 890.9 1898.7 901.2 C1898.7 911.6 1894.7 917.5 1893.3 925.6 C1892.0 933.7 1890.2 941.4 1890.6 950.0 C1891.1 958.6 1892.9 969.4 1896.0 977.1 C1899.2 984.7 1904.2 991.7 1909.6 996.0 C1915.0 1000.3 1923.6 1002.8 1928.5 1002.8 C1933.5 1002.8 1937.6 997.2 1939.4 996.0 M2001.7 950.0 C1999.0 951.3 1989.5 955.0 1985.4 958.1 C1981.3 961.3 1978.6 967.1 1977.3 968.9 M1940.7 1025.8 C1944.6 1025.1 1956.7 1023.6 1963.7 1021.8 C1970.7 1019.9 1978.2 1017.5 1982.7 1015.0 C1987.2 1012.5 1989.5 1008.2 1990.8 1006.9 M2015.2 1004.2 C2015.7 1007.3 2016.6 1017.5 2017.9 1023.1 C2019.3 1028.7 2022.4 1035.5 2023.3 1038.0 M2050.4 1004.2 C2051.8 1006.0 2057.4 1009.6 2058.5 1015.0 C2059.7 1020.4 2056.3 1029.9 2057.2 1036.6 C2058.1 1043.4 2061.5 1051.5 2063.9 1055.6 C2066.4 1059.7 2068.9 1062.8 2072.1 1061.0 C2075.2 1059.2 2078.4 1047.9 2082.9 1044.8 C2087.4 1041.6 2094.0 1043.4 2099.2 1042.1 C2104.3 1040.7 2110.0 1039.8 2114.0 1036.6 C2118.1 1033.5 2121.5 1028.5 2123.5 1023.1 C2125.6 1017.7 2127.1 1009.6 2126.2 1004.2 C2125.3 998.7 2120.8 994.2 2118.1 990.6 C2115.4 987.0 2111.3 983.8 2110.0 982.5 M2165.5 944.6 C2165.7 947.7 2165.3 957.2 2166.9 963.5 C2168.4 969.8 2173.4 976.6 2175.0 982.5 C2176.6 988.4 2177.7 993.3 2176.3 998.7 C2175.0 1004.2 2171.6 1010.7 2166.9 1015.0 C2162.1 1019.3 2153.8 1022.7 2147.9 1024.5 C2142.0 1026.3 2135.5 1026.3 2131.7 1025.8 C2127.8 1025.4 2126.0 1022.4 2124.9 1021.8 M2063.9 1067.8 C2067.1 1067.6 2076.1 1066.0 2082.9 1066.4 C2089.7 1066.9 2097.3 1070.0 2104.6 1070.5 C2111.8 1071.0 2119.9 1071.2 2126.2 1069.1 C2132.6 1067.1 2138.2 1062.8 2142.5 1058.3 C2146.8 1053.8 2149.9 1047.3 2152.0 1042.1 C2154.0 1036.9 2154.2 1029.7 2154.7 1027.2 M2187.2 1021.8 C2189.2 1019.3 2193.3 1010.9 2199.4 1006.9 C2205.5 1002.8 2215.3 999.6 2223.7 997.4 C2232.2 995.1 2245.6 994.0 2250.0 993.3 M2177.7 1057.0 C2181.3 1054.0 2193.3 1045.0 2199.4 1039.4 C2205.5 1033.7 2211.8 1025.8 2214.3 1023.1 M2187.2 1069.1 L2214.3 1035.3 M2207.5 1067.8 L2234.6 1032.6 M2223.7 1074.6 L2248.1 1042.1 M2223.7 1033.9 L2250.0 1021.8 M2110.0 962.2 C2111.8 964.2 2118.1 970.1 2120.8 974.4 C2123.5 978.6 2125.3 985.6 2126.2 987.9" stroke="#989c9e" stroke-width="1.25" fill="none" stroke-linecap="round"/>
<text x="1954.8" y="874.0" font-size="36.8" fill="#1a0d0d" stroke="#1a0d0d" stroke-width="14" stroke-linejoin="round" opacity="0.42" filter="url(#tsh)" text-anchor="start" >Memory</text>
<text x="1954.8" y="874.0" font-size="36.8" fill="#000" text-anchor="start" >Memory</text>
<text x="1937.7" y="993.6" font-size="36.6" fill="#1a0d0d" stroke="#1a0d0d" stroke-width="14" stroke-linejoin="round" opacity="0.42" filter="url(#tsh)" text-anchor="start" >Cognition</text>
<text x="1937.7" y="993.6" font-size="36.6" fill="#000" text-anchor="start" >Cognition</text>
<path d="M2134.9 884 V843.6" stroke="#000" stroke-width="3.2" fill="none"/><path d="M2134.9 825.6 L2145.7000000000003 851.1 L2134.9 843.1 L2124.1 851.1 Z" fill="#000"/>
<path d="M2145.6 1008.6 V968.2" stroke="#000" stroke-width="3.2" fill="none"/><path d="M2145.6 950.2 L2156.4 975.7 L2145.6 967.7 L2134.7999999999997 975.7 Z" fill="#000"/>
<path d="M1890 1619 L1440 1458 L1440 2100 L1520 2100 L1862 1703 Z" fill="url(#beam2)"/>
<g transform="translate(1829.1 1662.1) rotate(3)"><path d="M-19.7 -45.7 C-20.2 -49.4 -22.8 -61.3 -22.2 -67.9 C-21.6 -74.5 -16.9 -79.4 -16.0 -85.1 C-15.2 -90.9 -15.6 -97.5 -17.3 -102.4 C-18.9 -107.4 -22.2 -111.3 -25.9 -114.8 C-29.6 -118.3 -37.2 -122.0 -39.5 -123.4" stroke="#84501c" stroke-width="3.3" fill="none" stroke-linecap="round" stroke-linejoin="round" /><path d="M-19.7 -45.7 C-20.2 -49.4 -22.8 -61.3 -22.2 -67.9 C-21.6 -74.5 -17.1 -82.3 -16.0 -85.1" stroke="#84501c" stroke-width="5.0" fill="none" stroke-linecap="round" stroke-linejoin="round" /><path d="M-19.7 -45.7 L-22.2 -67.9" stroke="#84501c" stroke-width="6.0" fill="none" stroke-linecap="round" stroke-linejoin="round" /><path d="M-43.2 -29.6 C-45.7 -32.7 -53.9 -43.0 -58.0 -48.1 C-62.1 -53.3 -66.0 -56.4 -67.9 -60.5 C-69.7 -64.6 -69.3 -70.1 -69.1 -72.8 C-68.9 -75.5 -67.0 -75.9 -66.6 -76.5" stroke="#84501c" stroke-width="3.3" fill="none" stroke-linecap="round" stroke-linejoin="round" /><path d="M-43.2 -29.6 C-45.7 -32.7 -53.9 -43.0 -58.0 -48.1 C-62.1 -53.3 -66.2 -58.4 -67.9 -60.5" stroke="#84501c" stroke-width="5.0" fill="none" stroke-linecap="round" stroke-linejoin="round" /><path d="M-43.2 -29.6 L-58.0 -48.1" stroke="#84501c" stroke-width="6.0" fill="none" stroke-linecap="round" stroke-linejoin="round" /><path d="M-48.1 -22.2 C-51.8 -23.7 -62.9 -29.0 -70.3 -30.8 C-77.7 -32.7 -86.2 -30.4 -92.5 -33.3 C-98.9 -36.2 -104.3 -43.0 -108.6 -48.1 C-112.9 -53.3 -116.8 -61.5 -118.5 -64.2" stroke="#84501c" stroke-width="3.3" fill="none" stroke-linecap="round" stroke-linejoin="round" /><path d="M-48.1 -22.2 C-51.8 -23.7 -62.9 -29.0 -70.3 -30.8 C-77.7 -32.7 -88.8 -32.9 -92.5 -33.3" stroke="#84501c" stroke-width="5.0" fill="none" stroke-linecap="round" stroke-linejoin="round" /><path d="M-48.1 -22.2 L-70.3 -30.8" stroke="#84501c" stroke-width="6.0" fill="none" stroke-linecap="round" stroke-linejoin="round" /><path d="M-43.2 37.0 C-44.8 39.7 -47.7 48.7 -53.1 53.1 C-58.4 57.4 -67.9 59.2 -75.3 62.9 C-82.7 66.6 -93.8 73.2 -97.5 75.3" stroke="#84501c" stroke-width="3.3" fill="none" stroke-linecap="round" stroke-linejoin="round" /><path d="M-43.2 37.0 C-44.8 39.7 -47.7 48.7 -53.1 53.1 C-58.4 57.4 -71.6 61.3 -75.3 62.9" stroke="#84501c" stroke-width="5.0" fill="none" stroke-linecap="round" stroke-linejoin="round" /><path d="M-43.2 37.0 L-53.1 53.1" stroke="#84501c" stroke-width="6.0" fill="none" stroke-linecap="round" stroke-linejoin="round" /><path d="M8.6 51.8 C6.6 54.5 0.2 62.7 -3.7 67.9 C-7.6 73.0 -13.0 76.9 -14.8 82.7 C-16.7 88.4 -14.8 99.1 -14.8 102.4" stroke="#84501c" stroke-width="3.3" fill="none" stroke-linecap="round" stroke-linejoin="round" /><path d="M8.6 51.8 C6.6 54.5 0.2 62.7 -3.7 67.9 C-7.6 73.0 -13.0 80.2 -14.8 82.7" stroke="#84501c" stroke-width="5.0" fill="none" stroke-linecap="round" stroke-linejoin="round" /><path d="M8.6 51.8 L-3.7 67.9" stroke="#84501c" stroke-width="6.0" fill="none" stroke-linecap="round" stroke-linejoin="round" /><path d="M12.3 51.8 C13.4 57.4 17.9 74.7 18.5 85.1 C19.1 95.6 17.7 106.3 16.0 114.8 C14.4 123.2 9.9 132.2 8.6 135.7" stroke="#84501c" stroke-width="3.3" fill="none" stroke-linecap="round" stroke-linejoin="round" /><path d="M12.3 51.8 C13.4 57.4 17.9 74.7 18.5 85.1 C19.1 95.6 16.5 109.8 16.0 114.8" stroke="#84501c" stroke-width="5.0" fill="none" stroke-linecap="round" stroke-linejoin="round" /><path d="M12.3 51.8 L18.5 85.1" stroke="#84501c" stroke-width="6.0" fill="none" stroke-linecap="round" stroke-linejoin="round" /><path d="M42.0 32.1 C45.9 33.5 58.2 37.2 65.4 40.7 C72.6 44.2 80.2 48.9 85.1 53.1 C90.1 57.2 91.5 60.9 95.0 65.4 C98.5 69.9 104.3 77.7 106.1 80.2" stroke="#84501c" stroke-width="3.3" fill="none" stroke-linecap="round" stroke-linejoin="round" /><path d="M42.0 32.1 C45.9 33.5 58.2 37.2 65.4 40.7 C72.6 44.2 81.9 51.0 85.1 53.1" stroke="#84501c" stroke-width="5.0" fill="none" stroke-linecap="round" stroke-linejoin="round" /><path d="M42.0 32.1 L65.4 40.7" stroke="#84501c" stroke-width="6.0" fill="none" stroke-linecap="round" stroke-linejoin="round" /><path d="M40.7 37.0 C42.4 40.5 45.7 51.2 50.6 58.0 C55.5 64.8 67.0 74.5 70.3 77.7" stroke="#84501c" stroke-width="3.3" fill="none" stroke-linecap="round" stroke-linejoin="round" /><path d="M40.7 37.0 C42.4 40.5 45.7 51.2 50.6 58.0 C55.5 64.8 67.0 74.5 70.3 77.7" stroke="#84501c" stroke-width="5.0" fill="none" stroke-linecap="round" stroke-linejoin="round" /><path d="M40.7 37.0 L50.6 58.0" stroke="#84501c" stroke-width="6.0" fill="none" stroke-linecap="round" stroke-linejoin="round" /><path d="M-23.4 -106.1 C-24.7 -106.3 -28.7 -106.1 -30.8 -107.4 C-33.0 -108.6 -35.4 -112.5 -36.3 -113.5" stroke="#84501c" stroke-width="3.3" fill="none" stroke-linecap="round" stroke-linejoin="round" /><path d="M-23.4 -60.5 C-25.5 -63.8 -31.7 -75.1 -35.8 -80.2 C-39.9 -85.4 -46.1 -89.5 -48.1 -91.3" stroke="#84501c" stroke-width="3.3" fill="none" stroke-linecap="round" stroke-linejoin="round" /><path d="M-16.0 -50.6 C-14.6 -53.5 -9.5 -63.3 -7.4 -67.9 C-5.3 -72.4 -3.9 -74.9 -3.7 -77.7 C-3.5 -80.6 -5.8 -83.9 -6.2 -85.1" stroke="#84501c" stroke-width="3.3" fill="none" stroke-linecap="round" stroke-linejoin="round" /><path d="M4.9 -49.4 C5.6 -51.0 6.8 -57.0 8.6 -59.2 C10.5 -61.5 14.4 -61.5 16.0 -62.9 C17.7 -64.4 18.1 -67.0 18.5 -67.9" stroke="#84501c" stroke-width="3.3" fill="none" stroke-linecap="round" stroke-linejoin="round" /><path d="M-59.2 -48.1 C-61.5 -48.5 -67.7 -50.0 -72.8 -50.6 C-77.9 -51.2 -87.2 -51.6 -90.1 -51.8" stroke="#84501c" stroke-width="3.3" fill="none" stroke-linecap="round" stroke-linejoin="round" /><path d="M-91.3 -33.3 C-92.5 -35.4 -96.7 -42.4 -98.7 -45.7 C-100.8 -48.9 -102.8 -51.8 -103.7 -53.1" stroke="#84501c" stroke-width="3.3" fill="none" stroke-linecap="round" stroke-linejoin="round" /><path d="M-77.7 -29.6 C-80.0 -28.2 -87.8 -25.1 -91.3 -21.0 C-94.8 -16.9 -97.5 -7.6 -98.7 -4.9" stroke="#84501c" stroke-width="3.3" fill="none" stroke-linecap="round" stroke-linejoin="round" /><path d="M-46.9 27.1 C-50.0 26.7 -59.8 23.7 -65.4 24.7 C-71.0 25.7 -77.7 31.9 -80.2 33.3" stroke="#84501c" stroke-width="3.3" fill="none" stroke-linecap="round" stroke-linejoin="round" /><path d="M-75.3 62.4 C-76.9 60.9 -81.0 54.6 -85.1 53.1 C-89.3 51.5 -97.5 53.1 -100.0 53.1" stroke="#84501c" stroke-width="3.3" fill="none" stroke-linecap="round" stroke-linejoin="round" /><path d="M-56.8 56.8 C-57.8 60.7 -60.1 73.4 -62.9 80.2 C-65.8 87.0 -72.2 94.6 -74.0 97.5" stroke="#84501c" stroke-width="3.3" fill="none" stroke-linecap="round" stroke-linejoin="round" /><path d="M-53.1 54.3 C-52.0 56.6 -47.5 63.8 -46.9 67.9 C-46.3 72.0 -48.9 77.1 -49.4 79.0" stroke="#84501c" stroke-width="3.3" fill="none" stroke-linecap="round" stroke-linejoin="round" /><path d="M-11.1 75.3 C-12.8 75.7 -18.3 75.5 -21.0 77.7 C-23.7 80.0 -26.1 87.0 -27.1 88.8" stroke="#84501c" stroke-width="3.3" fill="none" stroke-linecap="round" stroke-linejoin="round" /><path d="M18.5 92.5 C20.8 95.0 28.4 101.6 32.1 107.4 C35.8 113.1 39.3 123.8 40.7 127.1" stroke="#84501c" stroke-width="3.3" fill="none" stroke-linecap="round" stroke-linejoin="round" /><path d="M80.2 49.4 C82.7 48.9 90.6 46.3 95.0 46.9 C99.5 47.5 104.9 52.0 106.9 53.1" stroke="#84501c" stroke-width="3.3" fill="none" stroke-linecap="round" stroke-linejoin="round" /><path d="M86.4 54.3 C87.2 56.1 90.5 62.1 91.3 65.4 C92.1 68.7 91.3 72.6 91.3 74.0" stroke="#84501c" stroke-width="3.3" fill="none" stroke-linecap="round" stroke-linejoin="round" /><path d="M58.0 37.0 C60.1 35.4 65.0 29.1 70.3 27.1 C75.7 25.2 86.8 25.7 90.1 25.4" stroke="#84501c" stroke-width="3.3" fill="none" stroke-linecap="round" stroke-linejoin="round" /><path d="M50.6 -3.7 C53.1 -3.3 60.7 -0.2 65.4 -1.2 C70.1 -2.3 76.7 -8.4 79.0 -9.9" stroke="#84501c" stroke-width="3.3" fill="none" stroke-linecap="round" stroke-linejoin="round" /><path d="M65.4 0.0 L86.4 1.2" stroke="#84501c" stroke-width="3.3" fill="none" stroke-linecap="round" stroke-linejoin="round" /><path d="M42.0 -35.8 L51.8 -43.2" stroke="#84501c" stroke-width="3.3" fill="none" stroke-linecap="round" stroke-linejoin="round" /><path d="M-19.7 -45.7 C-20.2 -49.4 -22.8 -61.3 -22.2 -67.9 C-21.6 -74.5 -17.1 -82.3 -16.0 -85.1" stroke="#d9932a" stroke-width="2.0" fill="none" stroke-linecap="round" stroke-linejoin="round" /><path d="M-43.2 -29.6 C-45.7 -32.7 -53.9 -43.0 -58.0 -48.1 C-62.1 -53.3 -66.2 -58.4 -67.9 -60.5" stroke="#d9932a" stroke-width="2.0" fill="none" stroke-linecap="round" stroke-linejoin="round" /><path d="M-48.1 -22.2 C-51.8 -23.7 -62.9 -29.0 -70.3 -30.8 C-77.7 -32.7 -88.8 -32.9 -92.5 -33.3" stroke="#d9932a" stroke-width="2.0" fill="none" stroke-linecap="round" stroke-linejoin="round" /><path d="M-43.2 37.0 C-44.8 39.7 -47.7 48.7 -53.1 53.1 C-58.4 57.4 -71.6 61.3 -75.3 62.9" stroke="#d9932a" stroke-width="2.0" fill="none" stroke-linecap="round" stroke-linejoin="round" /><path d="M8.6 51.8 C6.6 54.5 0.2 62.7 -3.7 67.9 C-7.6 73.0 -13.0 80.2 -14.8 82.7" stroke="#d9932a" stroke-width="2.0" fill="none" stroke-linecap="round" stroke-linejoin="round" /><path d="M12.3 51.8 C13.4 57.4 17.9 74.7 18.5 85.1 C19.1 95.6 16.5 109.8 16.0 114.8" stroke="#d9932a" stroke-width="2.0" fill="none" stroke-linecap="round" stroke-linejoin="round" /><path d="M42.0 32.1 C45.9 33.5 58.2 37.2 65.4 40.7 C72.6 44.2 81.9 51.0 85.1 53.1" stroke="#d9932a" stroke-width="2.0" fill="none" stroke-linecap="round" stroke-linejoin="round" /><path d="M40.7 37.0 C42.4 40.5 45.7 51.2 50.6 58.0 C55.5 64.8 67.0 74.5 70.3 77.7" stroke="#d9932a" stroke-width="2.0" fill="none" stroke-linecap="round" stroke-linejoin="round" /><path d="M-44.4 -33.3 C-40.4 -39.1 -33.9 -44.9 -28.4 -48.1 C-22.8 -51.3 -18.9 -52.2 -11.1 -52.6 C-3.3 -53.0 9.5 -53.0 18.5 -50.6 C27.6 -48.2 37.8 -44.4 43.2 -38.3 C48.6 -32.1 50.1 -23.4 51.1 -13.6 C52.1 -3.7 51.5 11.5 49.4 21.0 C47.2 30.4 45.5 37.8 38.3 43.2 C31.1 48.6 18.1 53.1 6.2 53.6 C-5.8 54.0 -23.9 51.1 -33.3 45.7 C-42.7 40.2 -46.9 30.8 -50.1 21.0 C-53.3 11.1 -53.5 -4.5 -52.6 -13.6 C-51.6 -22.6 -48.5 -27.6 -44.4 -33.3 Z" fill="url(#nbA)" stroke="#84501c" stroke-width="1.6"/><circle cx="0" cy="0" r="21.0" fill="#bf711c" stroke="#cf8a35" stroke-width="1.6"/><ellipse cx="-9.9" cy="-4.9" rx="3.2" ry="2" fill="#fff" fill-opacity="0.7" transform="rotate(-20 -9.9 -4.9)"/><path d="M45.7 -40.2 C47.0 -41.1 47.4 -43.5 53.6 -45.2 C59.7 -46.8 72.7 -50.4 82.7 -50.1 C92.7 -49.8 104.1 -47.3 113.5 -43.2 C123.0 -39.1 131.5 -33.2 139.4 -25.4 C147.4 -17.6 156.2 -6.1 161.2 3.7 C166.1 13.5 164.9 23.0 169.1 33.3 C173.2 43.6 181.7 55.1 185.8 65.4 C190.0 75.7 189.6 85.4 193.7 95.0 C197.8 104.7 203.5 115.7 210.5 123.4 C217.5 131.0 226.1 138.0 235.7 140.9 C245.2 143.8 261.2 141.8 267.8 140.9 C274.4 140.1 273.9 136.6 275.2 135.7" stroke="#c97a12" stroke-width="3.4" fill="none" stroke-linecap="round" stroke-linejoin="round" /><path d="M56.6 -38.2 L58.7 -38.7 L60.8 -39.2 L62.8 -39.6 L64.8 -40.1 L66.8 -40.6 L68.7 -41.0 L70.7 -41.4 L72.6 -41.8 L74.5 -42.1 L76.3 -42.4 L78.2 -42.7 L80.0 -42.9 L81.7 -43.0 L83.3 -43.0 L85.0 -42.9 L86.7 -42.7 L88.6 -42.5 L90.4 -42.2 L92.3 -41.9 L94.2 -41.5 L96.1 -41.1 L98.1 -40.6 L100.0 -40.2 L102.0 -39.7 L104.0 -39.2 L106.1 -38.7 L108.2 -38.2 L111.4 -53.1 L109.5 -53.5 L107.6 -54.0 L105.6 -54.4 L103.6 -54.9 L101.5 -55.4 L99.4 -55.9 L97.3 -56.4 L95.1 -56.8 L92.9 -57.2 L90.7 -57.5 L88.4 -57.8 L86.1 -58.0 L83.6 -58.2 L81.2 -58.2 L78.7 -58.0 L76.4 -57.8 L74.1 -57.5 L71.9 -57.1 L69.8 -56.7 L67.6 -56.3 L65.5 -55.9 L63.4 -55.4 L61.4 -54.9 L59.3 -54.4 L57.3 -53.9 L55.4 -53.5 L53.5 -53.1 Z" fill="#e39a45" stroke="#e39a45" stroke-width="11.8" stroke-linejoin="round"/><path d="M56.6 -38.2 L58.7 -38.7 L60.8 -39.2 L62.8 -39.6 L64.8 -40.1 L66.8 -40.6 L68.7 -41.0 L70.7 -41.4 L72.6 -41.8 L74.5 -42.1 L76.3 -42.4 L78.2 -42.7 L80.0 -42.9 L81.7 -43.0 L83.3 -43.0 L85.0 -42.9 L86.7 -42.7 L88.6 -42.5 L90.4 -42.2 L92.3 -41.9 L94.2 -41.5 L96.1 -41.1 L98.1 -40.6 L100.0 -40.2 L102.0 -39.7 L104.0 -39.2 L106.1 -38.7 L108.2 -38.2 L111.4 -53.1 L109.5 -53.5 L107.6 -54.0 L105.6 -54.4 L103.6 -54.9 L101.5 -55.4 L99.4 -55.9 L97.3 -56.4 L95.1 -56.8 L92.9 -57.2 L90.7 -57.5 L88.4 -57.8 L86.1 -58.0 L83.6 -58.2 L81.2 -58.2 L78.7 -58.0 L76.4 -57.8 L74.1 -57.5 L71.9 -57.1 L69.8 -56.7 L67.6 -56.3 L65.5 -55.9 L63.4 -55.4 L61.4 -54.9 L59.3 -54.4 L57.3 -53.9 L55.4 -53.5 L53.5 -53.1 Z" fill="#f8ebe0" stroke="#f8ebe0" stroke-width="10" stroke-linejoin="round"/><path d="M55.0 -45.7 C59.6 -46.5 73.5 -50.6 82.7 -50.6 C91.8 -50.6 105.3 -46.5 109.8 -45.7" stroke="#f5ddc4" stroke-width="12" fill="none" stroke-linecap="round" stroke-linejoin="round" stroke-linecap="butt" stroke-opacity="0.6"/><path d="M55.0 -45.7 C59.6 -46.5 73.5 -50.6 82.7 -50.6 C91.8 -50.6 105.3 -46.5 109.8 -45.7" stroke="#f2c99c" stroke-width="5.5" fill="none" stroke-linecap="round" stroke-linejoin="round" stroke-linecap="butt" stroke-opacity="0.55"/><path d="M55.0 -45.7 C59.6 -46.5 73.5 -50.6 82.7 -50.6 C91.8 -50.6 105.3 -46.5 109.8 -45.7" stroke="#d8d0c8" stroke-width="1.3" fill="none" stroke-linecap="round" stroke-linejoin="round" stroke-linecap="butt" stroke-opacity="0.9" transform="translate(0 -3.2)"/><path d="M55.0 -45.7 C59.6 -46.5 73.5 -50.6 82.7 -50.6 C91.8 -50.6 105.3 -46.5 109.8 -45.7" stroke="#d8d0c8" stroke-width="1.3" fill="none" stroke-linecap="round" stroke-linejoin="round" stroke-linecap="butt" stroke-opacity="0.9" transform="translate(0 3.2)"/><path d="M114.0 -32.1 L115.9 -31.1 L117.9 -30.1 L119.7 -29.1 L121.5 -28.2 L123.2 -27.3 L124.9 -26.3 L126.6 -25.4 L128.2 -24.4 L129.8 -23.4 L131.3 -22.4 L132.8 -21.4 L134.1 -20.4 L135.4 -19.3 L136.6 -18.1 L137.8 -16.8 L139.1 -15.5 L140.3 -14.0 L141.5 -12.5 L142.8 -11.0 L144.0 -9.5 L145.2 -7.9 L146.4 -6.3 L147.6 -4.7 L148.9 -3.1 L150.1 -1.4 L151.4 0.3 L152.7 2.0 L164.7 -7.4 L163.4 -9.0 L162.3 -10.5 L161.0 -12.2 L159.8 -13.8 L158.5 -15.5 L157.3 -17.2 L156.0 -18.8 L154.6 -20.5 L153.3 -22.2 L151.9 -23.9 L150.4 -25.5 L148.9 -27.2 L147.3 -28.9 L145.6 -30.5 L143.7 -32.1 L141.8 -33.6 L139.9 -35.0 L138.0 -36.2 L136.1 -37.4 L134.2 -38.6 L132.3 -39.6 L130.4 -40.7 L128.5 -41.7 L126.7 -42.6 L124.8 -43.6 L123.1 -44.4 L121.4 -45.4 Z" fill="#e39a45" stroke="#e39a45" stroke-width="11.8" stroke-linejoin="round"/><path d="M114.0 -32.1 L115.9 -31.1 L117.9 -30.1 L119.7 -29.1 L121.5 -28.2 L123.2 -27.3 L124.9 -26.3 L126.6 -25.4 L128.2 -24.4 L129.8 -23.4 L131.3 -22.4 L132.8 -21.4 L134.1 -20.4 L135.4 -19.3 L136.6 -18.1 L137.8 -16.8 L139.1 -15.5 L140.3 -14.0 L141.5 -12.5 L142.8 -11.0 L144.0 -9.5 L145.2 -7.9 L146.4 -6.3 L147.6 -4.7 L148.9 -3.1 L150.1 -1.4 L151.4 0.3 L152.7 2.0 L164.7 -7.4 L163.4 -9.0 L162.3 -10.5 L161.0 -12.2 L159.8 -13.8 L158.5 -15.5 L157.3 -17.2 L156.0 -18.8 L154.6 -20.5 L153.3 -22.2 L151.9 -23.9 L150.4 -25.5 L148.9 -27.2 L147.3 -28.9 L145.6 -30.5 L143.7 -32.1 L141.8 -33.6 L139.9 -35.0 L138.0 -36.2 L136.1 -37.4 L134.2 -38.6 L132.3 -39.6 L130.4 -40.7 L128.5 -41.7 L126.7 -42.6 L124.8 -43.6 L123.1 -44.4 L121.4 -45.4 Z" fill="#f8ebe0" stroke="#f8ebe0" stroke-width="10" stroke-linejoin="round"/><path d="M117.7 -38.7 C121.4 -36.5 133.1 -31.4 139.9 -25.4 C146.8 -19.4 155.6 -6.5 158.7 -2.7" stroke="#f5ddc4" stroke-width="12" fill="none" stroke-linecap="round" stroke-linejoin="round" stroke-linecap="butt" stroke-opacity="0.6"/><path d="M117.7 -38.7 C121.4 -36.5 133.1 -31.4 139.9 -25.4 C146.8 -19.4 155.6 -6.5 158.7 -2.7" stroke="#f2c99c" stroke-width="5.5" fill="none" stroke-linecap="round" stroke-linejoin="round" stroke-linecap="butt" stroke-opacity="0.55"/><path d="M117.7 -38.7 C121.4 -36.5 133.1 -31.4 139.9 -25.4 C146.8 -19.4 155.6 -6.5 158.7 -2.7" stroke="#d8d0c8" stroke-width="1.3" fill="none" stroke-linecap="round" stroke-linejoin="round" stroke-linecap="butt" stroke-opacity="0.9" transform="translate(0 -3.2)"/><path d="M117.7 -38.7 C121.4 -36.5 133.1 -31.4 139.9 -25.4 C146.8 -19.4 155.6 -6.5 158.7 -2.7" stroke="#d8d0c8" stroke-width="1.3" fill="none" stroke-linecap="round" stroke-linejoin="round" stroke-linecap="butt" stroke-opacity="0.9" transform="translate(0 3.2)"/><path d="M155.3 13.1 L155.8 15.0 L156.3 16.9 L156.8 18.9 L157.4 21.0 L157.9 23.0 L158.5 25.1 L159.1 27.1 L159.7 29.2 L160.4 31.3 L161.2 33.4 L162.0 35.5 L163.0 37.7 L163.9 39.7 L164.9 41.7 L165.9 43.6 L166.9 45.5 L168.0 47.3 L169.0 49.1 L170.0 50.9 L171.1 52.7 L172.1 54.5 L173.2 56.3 L174.2 58.1 L175.3 59.8 L176.3 61.5 L177.3 63.3 L190.4 55.7 L189.4 53.9 L188.3 52.1 L187.3 50.3 L186.2 48.6 L185.2 46.8 L184.2 45.1 L183.2 43.3 L182.2 41.6 L181.2 39.9 L180.3 38.1 L179.3 36.4 L178.4 34.7 L177.6 33.0 L176.8 31.4 L176.1 29.7 L175.4 28.1 L174.8 26.3 L174.2 24.5 L173.6 22.7 L173.1 20.9 L172.6 19.0 L172.1 17.1 L171.6 15.1 L171.1 13.2 L170.5 11.1 L170.0 9.1 Z" fill="#e39a45" stroke="#e39a45" stroke-width="11.8" stroke-linejoin="round"/><path d="M155.3 13.1 L155.8 15.0 L156.3 16.9 L156.8 18.9 L157.4 21.0 L157.9 23.0 L158.5 25.1 L159.1 27.1 L159.7 29.2 L160.4 31.3 L161.2 33.4 L162.0 35.5 L163.0 37.7 L163.9 39.7 L164.9 41.7 L165.9 43.6 L166.9 45.5 L168.0 47.3 L169.0 49.1 L170.0 50.9 L171.1 52.7 L172.1 54.5 L173.2 56.3 L174.2 58.1 L175.3 59.8 L176.3 61.5 L177.3 63.3 L190.4 55.7 L189.4 53.9 L188.3 52.1 L187.3 50.3 L186.2 48.6 L185.2 46.8 L184.2 45.1 L183.2 43.3 L182.2 41.6 L181.2 39.9 L180.3 38.1 L179.3 36.4 L178.4 34.7 L177.6 33.0 L176.8 31.4 L176.1 29.7 L175.4 28.1 L174.8 26.3 L174.2 24.5 L173.6 22.7 L173.1 20.9 L172.6 19.0 L172.1 17.1 L171.6 15.1 L171.1 13.2 L170.5 11.1 L170.0 9.1 Z" fill="#f8ebe0" stroke="#f8ebe0" stroke-width="10" stroke-linejoin="round"/><path d="M162.6 11.1 C163.8 14.9 166.0 25.7 169.6 33.8 C173.1 41.9 181.5 55.2 183.9 59.5" stroke="#f5ddc4" stroke-width="12" fill="none" stroke-linecap="round" stroke-linejoin="round" stroke-linecap="butt" stroke-opacity="0.6"/><path d="M162.6 11.1 C163.8 14.9 166.0 25.7 169.6 33.8 C173.1 41.9 181.5 55.2 183.9 59.5" stroke="#f2c99c" stroke-width="5.5" fill="none" stroke-linecap="round" stroke-linejoin="round" stroke-linecap="butt" stroke-opacity="0.55"/><path d="M162.6 11.1 C163.8 14.9 166.0 25.7 169.6 33.8 C173.1 41.9 181.5 55.2 183.9 59.5" stroke="#d8d0c8" stroke-width="1.3" fill="none" stroke-linecap="round" stroke-linejoin="round" stroke-linecap="butt" stroke-opacity="0.9" transform="translate(0 -3.2)"/><path d="M162.6 11.1 C163.8 14.9 166.0 25.7 169.6 33.8 C173.1 41.9 181.5 55.2 183.9 59.5" stroke="#d8d0c8" stroke-width="1.3" fill="none" stroke-linecap="round" stroke-linejoin="round" stroke-linecap="butt" stroke-opacity="0.9" transform="translate(0 3.2)"/><path d="M180.0 73.7 L180.5 75.6 L180.9 77.5 L181.4 79.4 L181.8 81.5 L182.3 83.5 L182.9 85.5 L183.4 87.6 L184.1 89.7 L184.8 91.8 L185.5 94.0 L186.4 96.1 L187.4 98.4 L188.6 100.5 L189.8 102.5 L191.0 104.4 L192.2 106.2 L193.5 108.0 L194.7 109.7 L196.0 111.4 L197.3 113.0 L198.6 114.6 L199.9 116.2 L201.1 117.8 L202.3 119.3 L203.5 120.8 L215.6 111.6 L214.3 110.0 L213.0 108.3 L211.7 106.7 L210.5 105.2 L209.3 103.6 L208.1 102.1 L206.9 100.6 L205.8 99.0 L204.7 97.5 L203.6 96.0 L202.7 94.5 L201.8 93.0 L201.0 91.6 L200.4 90.2 L199.7 88.6 L199.1 86.9 L198.6 85.2 L198.0 83.4 L197.5 81.6 L197.1 79.8 L196.6 77.9 L196.2 76.0 L195.7 74.0 L195.2 71.9 L194.7 69.9 Z" fill="#e39a45" stroke="#e39a45" stroke-width="11.8" stroke-linejoin="round"/><path d="M180.0 73.7 L180.5 75.6 L180.9 77.5 L181.4 79.4 L181.8 81.5 L182.3 83.5 L182.9 85.5 L183.4 87.6 L184.1 89.7 L184.8 91.8 L185.5 94.0 L186.4 96.1 L187.4 98.4 L188.6 100.5 L189.8 102.5 L191.0 104.4 L192.2 106.2 L193.5 108.0 L194.7 109.7 L196.0 111.4 L197.3 113.0 L198.6 114.6 L199.9 116.2 L201.1 117.8 L202.3 119.3 L203.5 120.8 L215.6 111.6 L214.3 110.0 L213.0 108.3 L211.7 106.7 L210.5 105.2 L209.3 103.6 L208.1 102.1 L206.9 100.6 L205.8 99.0 L204.7 97.5 L203.6 96.0 L202.7 94.5 L201.8 93.0 L201.0 91.6 L200.4 90.2 L199.7 88.6 L199.1 86.9 L198.6 85.2 L198.0 83.4 L197.5 81.6 L197.1 79.8 L196.6 77.9 L196.2 76.0 L195.7 74.0 L195.2 71.9 L194.7 69.9 Z" fill="#f8ebe0" stroke="#f8ebe0" stroke-width="10" stroke-linejoin="round"/><path d="M187.3 71.8 C188.5 75.7 190.5 87.6 194.2 95.0 C197.9 102.4 207.0 112.7 209.5 116.2" stroke="#f5ddc4" stroke-width="12" fill="none" stroke-linecap="round" stroke-linejoin="round" stroke-linecap="butt" stroke-opacity="0.6"/><path d="M187.3 71.8 C188.5 75.7 190.5 87.6 194.2 95.0 C197.9 102.4 207.0 112.7 209.5 116.2" stroke="#f2c99c" stroke-width="5.5" fill="none" stroke-linecap="round" stroke-linejoin="round" stroke-linecap="butt" stroke-opacity="0.55"/><path d="M187.3 71.8 C188.5 75.7 190.5 87.6 194.2 95.0 C197.9 102.4 207.0 112.7 209.5 116.2" stroke="#d8d0c8" stroke-width="1.3" fill="none" stroke-linecap="round" stroke-linejoin="round" stroke-linecap="butt" stroke-opacity="0.9" transform="translate(0 -3.2)"/><path d="M187.3 71.8 C188.5 75.7 190.5 87.6 194.2 95.0 C197.9 102.4 207.0 112.7 209.5 116.2" stroke="#d8d0c8" stroke-width="1.3" fill="none" stroke-linecap="round" stroke-linejoin="round" stroke-linecap="butt" stroke-opacity="0.9" transform="translate(0 3.2)"/><path d="M207.6 136.9 L209.3 137.7 L211.0 138.6 L212.8 139.6 L214.6 140.6 L216.5 141.6 L218.4 142.6 L220.4 143.6 L222.4 144.5 L224.4 145.5 L226.5 146.3 L228.7 147.2 L231.0 147.9 L233.4 148.6 L235.9 149.1 L238.4 149.4 L240.8 149.6 L243.1 149.7 L245.3 149.7 L247.5 149.7 L249.7 149.6 L251.9 149.5 L254.0 149.4 L256.1 149.3 L258.2 149.1 L260.3 148.9 L262.3 148.8 L264.2 148.6 L266.2 148.5 L265.4 133.3 L263.3 133.4 L261.1 133.6 L259.0 133.8 L257.0 133.9 L255.0 134.1 L253.0 134.2 L251.1 134.3 L249.1 134.4 L247.2 134.5 L245.3 134.5 L243.5 134.5 L241.7 134.4 L240.0 134.3 L238.4 134.1 L236.9 133.8 L235.4 133.4 L233.8 132.8 L232.1 132.2 L230.5 131.5 L228.8 130.7 L227.1 129.9 L225.3 129.1 L223.6 128.2 L221.9 127.2 L220.1 126.3 L218.3 125.3 L216.3 124.2 L214.4 123.3 Z" fill="#e39a45" stroke="#e39a45" stroke-width="11.8" stroke-linejoin="round"/><path d="M207.6 136.9 L209.3 137.7 L211.0 138.6 L212.8 139.6 L214.6 140.6 L216.5 141.6 L218.4 142.6 L220.4 143.6 L222.4 144.5 L224.4 145.5 L226.5 146.3 L228.7 147.2 L231.0 147.9 L233.4 148.6 L235.9 149.1 L238.4 149.4 L240.8 149.6 L243.1 149.7 L245.3 149.7 L247.5 149.7 L249.7 149.6 L251.9 149.5 L254.0 149.4 L256.1 149.3 L258.2 149.1 L260.3 148.9 L262.3 148.8 L264.2 148.6 L266.2 148.5 L265.4 133.3 L263.3 133.4 L261.1 133.6 L259.0 133.8 L257.0 133.9 L255.0 134.1 L253.0 134.2 L251.1 134.3 L249.1 134.4 L247.2 134.5 L245.3 134.5 L243.5 134.5 L241.7 134.4 L240.0 134.3 L238.4 134.1 L236.9 133.8 L235.4 133.4 L233.8 132.8 L232.1 132.2 L230.5 131.5 L228.8 130.7 L227.1 129.9 L225.3 129.1 L223.6 128.2 L221.9 127.2 L220.1 126.3 L218.3 125.3 L216.3 124.2 L214.4 123.3 Z" fill="#f8ebe0" stroke="#f8ebe0" stroke-width="10" stroke-linejoin="round"/><path d="M211.0 130.1 C215.2 132.0 227.1 139.6 236.2 141.4 C245.3 143.2 260.9 141.0 265.8 140.9" stroke="#f5ddc4" stroke-width="12" fill="none" stroke-linecap="round" stroke-linejoin="round" stroke-linecap="butt" stroke-opacity="0.6"/><path d="M211.0 130.1 C215.2 132.0 227.1 139.6 236.2 141.4 C245.3 143.2 260.9 141.0 265.8 140.9" stroke="#f2c99c" stroke-width="5.5" fill="none" stroke-linecap="round" stroke-linejoin="round" stroke-linecap="butt" stroke-opacity="0.55"/><path d="M211.0 130.1 C215.2 132.0 227.1 139.6 236.2 141.4 C245.3 143.2 260.9 141.0 265.8 140.9" stroke="#d8d0c8" stroke-width="1.3" fill="none" stroke-linecap="round" stroke-linejoin="round" stroke-linecap="butt" stroke-opacity="0.9" transform="translate(0 -3.2)"/><path d="M211.0 130.1 C215.2 132.0 227.1 139.6 236.2 141.4 C245.3 143.2 260.9 141.0 265.8 140.9" stroke="#d8d0c8" stroke-width="1.3" fill="none" stroke-linecap="round" stroke-linejoin="round" stroke-linecap="butt" stroke-opacity="0.9" transform="translate(0 3.2)"/><path d="M273.2 136.5 C273.5 131.2 272.5 113.8 275.2 104.9 C277.9 96.0 287.1 86.8 289.5 83.2" stroke="#84501c" stroke-width="3.3" fill="none" stroke-linecap="round" stroke-linejoin="round" /><path d="M273.2 136.5 C274.8 130.8 277.4 111.4 282.6 102.4 C287.8 93.5 300.7 86.0 304.3 82.7" stroke="#84501c" stroke-width="3.3" fill="none" stroke-linecap="round" stroke-linejoin="round" /><path d="M273.2 136.5 C276.4 130.0 283.4 106.0 292.5 97.5 C301.5 89.0 321.7 87.6 327.5 85.6" stroke="#84501c" stroke-width="3.3" fill="none" stroke-linecap="round" stroke-linejoin="round" /><path d="M273.2 136.5 C276.0 133.3 282.8 121.8 290.0 117.2 C297.2 112.7 312.0 110.6 316.4 109.3" stroke="#84501c" stroke-width="3.3" fill="none" stroke-linecap="round" stroke-linejoin="round" /><path d="M273.2 136.5 C277.6 133.7 290.3 124.3 299.9 119.7 C309.4 115.1 325.6 110.9 330.7 109.1" stroke="#84501c" stroke-width="3.3" fill="none" stroke-linecap="round" stroke-linejoin="round" /><path d="M273.2 136.5 C278.5 135.3 295.1 131.3 304.8 129.6 C314.5 127.8 327.0 126.5 331.4 125.9" stroke="#84501c" stroke-width="3.3" fill="none" stroke-linecap="round" stroke-linejoin="round" /><path d="M273.2 136.5 C277.2 136.2 290.6 135.2 297.4 134.5 C304.2 133.8 311.4 132.4 314.2 132.0" stroke="#84501c" stroke-width="3.3" fill="none" stroke-linecap="round" stroke-linejoin="round" /><path d="M273.2 136.5 C278.5 137.8 296.0 143.5 304.8 144.4 C313.6 145.3 322.3 142.3 325.8 141.9" stroke="#84501c" stroke-width="3.3" fill="none" stroke-linecap="round" stroke-linejoin="round" /><circle cx="289.5" cy="83.2" r="2.6" fill="#e8972a" stroke="#84501c" stroke-width="1.5"/><circle cx="304.3" cy="82.7" r="2.6" fill="#e8972a" stroke="#84501c" stroke-width="1.5"/><circle cx="327.5" cy="85.6" r="2.6" fill="#e8972a" stroke="#84501c" stroke-width="1.5"/><circle cx="316.4" cy="109.3" r="2.6" fill="#e8972a" stroke="#84501c" stroke-width="1.5"/><circle cx="330.7" cy="109.1" r="2.6" fill="#e8972a" stroke="#84501c" stroke-width="1.5"/><circle cx="331.4" cy="125.9" r="2.6" fill="#e8972a" stroke="#84501c" stroke-width="1.5"/><circle cx="314.2" cy="132.0" r="2.6" fill="#e8972a" stroke="#84501c" stroke-width="1.5"/><circle cx="325.8" cy="141.9" r="2.6" fill="#e8972a" stroke="#84501c" stroke-width="1.5"/></g>
<g transform="translate(2131.8 1331.8) rotate(0)"><path d="M-19.7 -45.7 C-20.2 -49.4 -22.8 -61.3 -22.2 -67.9 C-21.6 -74.5 -16.9 -79.4 -16.0 -85.1 C-15.2 -90.9 -15.6 -97.5 -17.3 -102.4 C-18.9 -107.4 -22.2 -111.3 -25.9 -114.8 C-29.6 -118.3 -37.2 -122.0 -39.5 -123.4" stroke="#b8736f" stroke-width="3.3" fill="none" stroke-linecap="round" stroke-linejoin="round" /><path d="M-19.7 -45.7 C-20.2 -49.4 -22.8 -61.3 -22.2 -67.9 C-21.6 -74.5 -17.1 -82.3 -16.0 -85.1" stroke="#b8736f" stroke-width="5.0" fill="none" stroke-linecap="round" stroke-linejoin="round" /><path d="M-19.7 -45.7 L-22.2 -67.9" stroke="#b8736f" stroke-width="6.0" fill="none" stroke-linecap="round" stroke-linejoin="round" /><path d="M-43.2 -29.6 C-45.7 -32.7 -53.9 -43.0 -58.0 -48.1 C-62.1 -53.3 -66.0 -56.4 -67.9 -60.5 C-69.7 -64.6 -69.3 -70.1 -69.1 -72.8 C-68.9 -75.5 -67.0 -75.9 -66.6 -76.5" stroke="#b8736f" stroke-width="3.3" fill="none" stroke-linecap="round" stroke-linejoin="round" /><path d="M-43.2 -29.6 C-45.7 -32.7 -53.9 -43.0 -58.0 -48.1 C-62.1 -53.3 -66.2 -58.4 -67.9 -60.5" stroke="#b8736f" stroke-width="5.0" fill="none" stroke-linecap="round" stroke-linejoin="round" /><path d="M-43.2 -29.6 L-58.0 -48.1" stroke="#b8736f" stroke-width="6.0" fill="none" stroke-linecap="round" stroke-linejoin="round" /><path d="M-48.1 -22.2 C-51.8 -23.7 -62.9 -29.0 -70.3 -30.8 C-77.7 -32.7 -86.2 -30.4 -92.5 -33.3 C-98.9 -36.2 -104.3 -43.0 -108.6 -48.1 C-112.9 -53.3 -116.8 -61.5 -118.5 -64.2" stroke="#b8736f" stroke-width="3.3" fill="none" stroke-linecap="round" stroke-linejoin="round" /><path d="M-48.1 -22.2 C-51.8 -23.7 -62.9 -29.0 -70.3 -30.8 C-77.7 -32.7 -88.8 -32.9 -92.5 -33.3" stroke="#b8736f" stroke-width="5.0" fill="none" stroke-linecap="round" stroke-linejoin="round" /><path d="M-48.1 -22.2 L-70.3 -30.8" stroke="#b8736f" stroke-width="6.0" fill="none" stroke-linecap="round" stroke-linejoin="round" /><path d="M-43.2 37.0 C-44.8 39.7 -47.7 48.7 -53.1 53.1 C-58.4 57.4 -67.9 59.2 -75.3 62.9 C-82.7 66.6 -93.8 73.2 -97.5 75.3" stroke="#b8736f" stroke-width="3.3" fill="none" stroke-linecap="round" stroke-linejoin="round" /><path d="M-43.2 37.0 C-44.8 39.7 -47.7 48.7 -53.1 53.1 C-58.4 57.4 -71.6 61.3 -75.3 62.9" stroke="#b8736f" stroke-width="5.0" fill="none" stroke-linecap="round" stroke-linejoin="round" /><path d="M-43.2 37.0 L-53.1 53.1" stroke="#b8736f" stroke-width="6.0" fill="none" stroke-linecap="round" stroke-linejoin="round" /><path d="M8.6 51.8 C6.6 54.5 0.2 62.7 -3.7 67.9 C-7.6 73.0 -13.0 76.9 -14.8 82.7 C-16.7 88.4 -14.8 99.1 -14.8 102.4" stroke="#b8736f" stroke-width="3.3" fill="none" stroke-linecap="round" stroke-linejoin="round" /><path d="M8.6 51.8 C6.6 54.5 0.2 62.7 -3.7 67.9 C-7.6 73.0 -13.0 80.2 -14.8 82.7" stroke="#b8736f" stroke-width="5.0" fill="none" stroke-linecap="round" stroke-linejoin="round" /><path d="M8.6 51.8 L-3.7 67.9" stroke="#b8736f" stroke-width="6.0" fill="none" stroke-linecap="round" stroke-linejoin="round" /><path d="M12.3 51.8 C13.4 57.4 17.9 74.7 18.5 85.1 C19.1 95.6 17.7 106.3 16.0 114.8 C14.4 123.2 9.9 132.2 8.6 135.7" stroke="#b8736f" stroke-width="3.3" fill="none" stroke-linecap="round" stroke-linejoin="round" /><path d="M12.3 51.8 C13.4 57.4 17.9 74.7 18.5 85.1 C19.1 95.6 16.5 109.8 16.0 114.8" stroke="#b8736f" stroke-width="5.0" fill="none" stroke-linecap="round" stroke-linejoin="round" /><path d="M12.3 51.8 L18.5 85.1" stroke="#b8736f" stroke-width="6.0" fill="none" stroke-linecap="round" stroke-linejoin="round" /><path d="M42.0 32.1 C45.9 33.5 58.2 37.2 65.4 40.7 C72.6 44.2 80.2 48.9 85.1 53.1 C90.1 57.2 91.5 60.9 95.0 65.4 C98.5 69.9 104.3 77.7 106.1 80.2" stroke="#b8736f" stroke-width="3.3" fill="none" stroke-linecap="round" stroke-linejoin="round" /><path d="M42.0 32.1 C45.9 33.5 58.2 37.2 65.4 40.7 C72.6 44.2 81.9 51.0 85.1 53.1" stroke="#b8736f" stroke-width="5.0" fill="none" stroke-linecap="round" stroke-linejoin="round" /><path d="M42.0 32.1 L65.4 40.7" stroke="#b8736f" stroke-width="6.0" fill="none" stroke-linecap="round" stroke-linejoin="round" /><path d="M40.7 37.0 C42.4 40.5 45.7 51.2 50.6 58.0 C55.5 64.8 67.0 74.5 70.3 77.7" stroke="#b8736f" stroke-width="3.3" fill="none" stroke-linecap="round" stroke-linejoin="round" /><path d="M40.7 37.0 C42.4 40.5 45.7 51.2 50.6 58.0 C55.5 64.8 67.0 74.5 70.3 77.7" stroke="#b8736f" stroke-width="5.0" fill="none" stroke-linecap="round" stroke-linejoin="round" /><path d="M40.7 37.0 L50.6 58.0" stroke="#b8736f" stroke-width="6.0" fill="none" stroke-linecap="round" stroke-linejoin="round" /><path d="M-23.4 -106.1 C-24.7 -106.3 -28.7 -106.1 -30.8 -107.4 C-33.0 -108.6 -35.4 -112.5 -36.3 -113.5" stroke="#b8736f" stroke-width="3.3" fill="none" stroke-linecap="round" stroke-linejoin="round" /><path d="M-23.4 -60.5 C-25.5 -63.8 -31.7 -75.1 -35.8 -80.2 C-39.9 -85.4 -46.1 -89.5 -48.1 -91.3" stroke="#b8736f" stroke-width="3.3" fill="none" stroke-linecap="round" stroke-linejoin="round" /><path d="M-16.0 -50.6 C-14.6 -53.5 -9.5 -63.3 -7.4 -67.9 C-5.3 -72.4 -3.9 -74.9 -3.7 -77.7 C-3.5 -80.6 -5.8 -83.9 -6.2 -85.1" stroke="#b8736f" stroke-width="3.3" fill="none" stroke-linecap="round" stroke-linejoin="round" /><path d="M4.9 -49.4 C5.6 -51.0 6.8 -57.0 8.6 -59.2 C10.5 -61.5 14.4 -61.5 16.0 -62.9 C17.7 -64.4 18.1 -67.0 18.5 -67.9" stroke="#b8736f" stroke-width="3.3" fill="none" stroke-linecap="round" stroke-linejoin="round" /><path d="M-59.2 -48.1 C-61.5 -48.5 -67.7 -50.0 -72.8 -50.6 C-77.9 -51.2 -87.2 -51.6 -90.1 -51.8" stroke="#b8736f" stroke-width="3.3" fill="none" stroke-linecap="round" stroke-linejoin="round" /><path d="M-91.3 -33.3 C-92.5 -35.4 -96.7 -42.4 -98.7 -45.7 C-100.8 -48.9 -102.8 -51.8 -103.7 -53.1" stroke="#b8736f" stroke-width="3.3" fill="none" stroke-linecap="round" stroke-linejoin="round" /><path d="M-77.7 -29.6 C-80.0 -28.2 -87.8 -25.1 -91.3 -21.0 C-94.8 -16.9 -97.5 -7.6 -98.7 -4.9" stroke="#b8736f" stroke-width="3.3" fill="none" stroke-linecap="round" stroke-linejoin="round" /><path d="M-46.9 27.1 C-50.0 26.7 -59.8 23.7 -65.4 24.7 C-71.0 25.7 -77.7 31.9 -80.2 33.3" stroke="#b8736f" stroke-width="3.3" fill="none" stroke-linecap="round" stroke-linejoin="round" /><path d="M-75.3 62.4 C-76.9 60.9 -81.0 54.6 -85.1 53.1 C-89.3 51.5 -97.5 53.1 -100.0 53.1" stroke="#b8736f" stroke-width="3.3" fill="none" stroke-linecap="round" stroke-linejoin="round" /><path d="M-56.8 56.8 C-57.8 60.7 -60.1 73.4 -62.9 80.2 C-65.8 87.0 -72.2 94.6 -74.0 97.5" stroke="#b8736f" stroke-width="3.3" fill="none" stroke-linecap="round" stroke-linejoin="round" /><path d="M-53.1 54.3 C-52.0 56.6 -47.5 63.8 -46.9 67.9 C-46.3 72.0 -48.9 77.1 -49.4 79.0" stroke="#b8736f" stroke-width="3.3" fill="none" stroke-linecap="round" stroke-linejoin="round" /><path d="M-11.1 75.3 C-12.8 75.7 -18.3 75.5 -21.0 77.7 C-23.7 80.0 -26.1 87.0 -27.1 88.8" stroke="#b8736f" stroke-width="3.3" fill="none" stroke-linecap="round" stroke-linejoin="round" /><path d="M18.5 92.5 C20.8 95.0 28.4 101.6 32.1 107.4 C35.8 113.1 39.3 123.8 40.7 127.1" stroke="#b8736f" stroke-width="3.3" fill="none" stroke-linecap="round" stroke-linejoin="round" /><path d="M80.2 49.4 C82.7 48.9 90.6 46.3 95.0 46.9 C99.5 47.5 104.9 52.0 106.9 53.1" stroke="#b8736f" stroke-width="3.3" fill="none" stroke-linecap="round" stroke-linejoin="round" /><path d="M86.4 54.3 C87.2 56.1 90.5 62.1 91.3 65.4 C92.1 68.7 91.3 72.6 91.3 74.0" stroke="#b8736f" stroke-width="3.3" fill="none" stroke-linecap="round" stroke-linejoin="round" /><path d="M58.0 37.0 C60.1 35.4 65.0 29.1 70.3 27.1 C75.7 25.2 86.8 25.7 90.1 25.4" stroke="#b8736f" stroke-width="3.3" fill="none" stroke-linecap="round" stroke-linejoin="round" /><path d="M50.6 -3.7 C53.1 -3.3 60.7 -0.2 65.4 -1.2 C70.1 -2.3 76.7 -8.4 79.0 -9.9" stroke="#b8736f" stroke-width="3.3" fill="none" stroke-linecap="round" stroke-linejoin="round" /><path d="M65.4 0.0 L86.4 1.2" stroke="#b8736f" stroke-width="3.3" fill="none" stroke-linecap="round" stroke-linejoin="round" /><path d="M42.0 -35.8 L51.8 -43.2" stroke="#b8736f" stroke-width="3.3" fill="none" stroke-linecap="round" stroke-linejoin="round" /><path d="M-19.7 -45.7 C-20.2 -49.4 -22.8 -61.3 -22.2 -67.9 C-21.6 -74.5 -17.1 -82.3 -16.0 -85.1" stroke="#f0d3cf" stroke-width="2.0" fill="none" stroke-linecap="round" stroke-linejoin="round" /><path d="M-43.2 -29.6 C-45.7 -32.7 -53.9 -43.0 -58.0 -48.1 C-62.1 -53.3 -66.2 -58.4 -67.9 -60.5" stroke="#f0d3cf" stroke-width="2.0" fill="none" stroke-linecap="round" stroke-linejoin="round" /><path d="M-48.1 -22.2 C-51.8 -23.7 -62.9 -29.0 -70.3 -30.8 C-77.7 -32.7 -88.8 -32.9 -92.5 -33.3" stroke="#f0d3cf" stroke-width="2.0" fill="none" stroke-linecap="round" stroke-linejoin="round" /><path d="M-43.2 37.0 C-44.8 39.7 -47.7 48.7 -53.1 53.1 C-58.4 57.4 -71.6 61.3 -75.3 62.9" stroke="#f0d3cf" stroke-width="2.0" fill="none" stroke-linecap="round" stroke-linejoin="round" /><path d="M8.6 51.8 C6.6 54.5 0.2 62.7 -3.7 67.9 C-7.6 73.0 -13.0 80.2 -14.8 82.7" stroke="#f0d3cf" stroke-width="2.0" fill="none" stroke-linecap="round" stroke-linejoin="round" /><path d="M12.3 51.8 C13.4 57.4 17.9 74.7 18.5 85.1 C19.1 95.6 16.5 109.8 16.0 114.8" stroke="#f0d3cf" stroke-width="2.0" fill="none" stroke-linecap="round" stroke-linejoin="round" /><path d="M42.0 32.1 C45.9 33.5 58.2 37.2 65.4 40.7 C72.6 44.2 81.9 51.0 85.1 53.1" stroke="#f0d3cf" stroke-width="2.0" fill="none" stroke-linecap="round" stroke-linejoin="round" /><path d="M40.7 37.0 C42.4 40.5 45.7 51.2 50.6 58.0 C55.5 64.8 67.0 74.5 70.3 77.7" stroke="#f0d3cf" stroke-width="2.0" fill="none" stroke-linecap="round" stroke-linejoin="round" /><path d="M-44.4 -33.3 C-40.4 -39.1 -33.9 -44.9 -28.4 -48.1 C-22.8 -51.3 -18.9 -52.2 -11.1 -52.6 C-3.3 -53.0 9.5 -53.0 18.5 -50.6 C27.6 -48.2 37.8 -44.4 43.2 -38.3 C48.6 -32.1 50.1 -23.4 51.1 -13.6 C52.1 -3.7 51.5 11.5 49.4 21.0 C47.2 30.4 45.5 37.8 38.3 43.2 C31.1 48.6 18.1 53.1 6.2 53.6 C-5.8 54.0 -23.9 51.1 -33.3 45.7 C-42.7 40.2 -46.9 30.8 -50.1 21.0 C-53.3 11.1 -53.5 -4.5 -52.6 -13.6 C-51.6 -22.6 -48.5 -27.6 -44.4 -33.3 Z" fill="url(#nbB)" stroke="#b8736f" stroke-width="1.6"/><circle cx="0" cy="0" r="21.0" fill="#f6dfdb" stroke="#b8736f" stroke-width="3.0"/><ellipse cx="-9.9" cy="-4.9" rx="3.2" ry="2" fill="#fff" fill-opacity="0.7" transform="rotate(-20 -9.9 -4.9)"/><path d="M45.7 -40.2 C47.0 -41.1 47.4 -43.5 53.6 -45.2 C59.7 -46.8 72.7 -50.4 82.7 -50.1 C92.7 -49.8 104.1 -47.3 113.5 -43.2 C123.0 -39.1 131.5 -33.2 139.4 -25.4 C147.4 -17.6 156.2 -6.1 161.2 3.7 C166.1 13.5 164.9 23.0 169.1 33.3 C173.2 43.6 181.7 55.1 185.8 65.4 C190.0 75.7 189.6 85.4 193.7 95.0 C197.8 104.7 203.5 115.7 210.5 123.4 C217.5 131.0 226.1 138.0 235.7 140.9 C245.2 143.8 261.2 141.8 267.8 140.9 C274.4 140.1 273.9 136.6 275.2 135.7" stroke="#efc9c5" stroke-width="3.4" fill="none" stroke-linecap="round" stroke-linejoin="round" /><path d="M56.6 -38.2 L58.7 -38.7 L60.8 -39.2 L62.8 -39.6 L64.8 -40.1 L66.8 -40.6 L68.7 -41.0 L70.7 -41.4 L72.6 -41.8 L74.5 -42.1 L76.3 -42.4 L78.2 -42.7 L80.0 -42.9 L81.7 -43.0 L83.3 -43.0 L85.0 -42.9 L86.7 -42.7 L88.6 -42.5 L90.4 -42.2 L92.3 -41.9 L94.2 -41.5 L96.1 -41.1 L98.1 -40.6 L100.0 -40.2 L102.0 -39.7 L104.0 -39.2 L106.1 -38.7 L108.2 -38.2 L111.4 -53.1 L109.5 -53.5 L107.6 -54.0 L105.6 -54.4 L103.6 -54.9 L101.5 -55.4 L99.4 -55.9 L97.3 -56.4 L95.1 -56.8 L92.9 -57.2 L90.7 -57.5 L88.4 -57.8 L86.1 -58.0 L83.6 -58.2 L81.2 -58.2 L78.7 -58.0 L76.4 -57.8 L74.1 -57.5 L71.9 -57.1 L69.8 -56.7 L67.6 -56.3 L65.5 -55.9 L63.4 -55.4 L61.4 -54.9 L59.3 -54.4 L57.3 -53.9 L55.4 -53.5 L53.5 -53.1 Z" fill="#cf918d" stroke="#cf918d" stroke-width="11.8" stroke-linejoin="round"/><path d="M56.6 -38.2 L58.7 -38.7 L60.8 -39.2 L62.8 -39.6 L64.8 -40.1 L66.8 -40.6 L68.7 -41.0 L70.7 -41.4 L72.6 -41.8 L74.5 -42.1 L76.3 -42.4 L78.2 -42.7 L80.0 -42.9 L81.7 -43.0 L83.3 -43.0 L85.0 -42.9 L86.7 -42.7 L88.6 -42.5 L90.4 -42.2 L92.3 -41.9 L94.2 -41.5 L96.1 -41.1 L98.1 -40.6 L100.0 -40.2 L102.0 -39.7 L104.0 -39.2 L106.1 -38.7 L108.2 -38.2 L111.4 -53.1 L109.5 -53.5 L107.6 -54.0 L105.6 -54.4 L103.6 -54.9 L101.5 -55.4 L99.4 -55.9 L97.3 -56.4 L95.1 -56.8 L92.9 -57.2 L90.7 -57.5 L88.4 -57.8 L86.1 -58.0 L83.6 -58.2 L81.2 -58.2 L78.7 -58.0 L76.4 -57.8 L74.1 -57.5 L71.9 -57.1 L69.8 -56.7 L67.6 -56.3 L65.5 -55.9 L63.4 -55.4 L61.4 -54.9 L59.3 -54.4 L57.3 -53.9 L55.4 -53.5 L53.5 -53.1 Z" fill="#fceeed" stroke="#fceeed" stroke-width="10" stroke-linejoin="round"/><path d="M55.0 -45.7 C59.6 -46.5 73.5 -50.6 82.7 -50.6 C91.8 -50.6 105.3 -46.5 109.8 -45.7" stroke="#f9d9d6" stroke-width="12" fill="none" stroke-linecap="round" stroke-linejoin="round" stroke-linecap="butt" stroke-opacity="0.6"/><path d="M55.0 -45.7 C59.6 -46.5 73.5 -50.6 82.7 -50.6 C91.8 -50.6 105.3 -46.5 109.8 -45.7" stroke="#f5bfbc" stroke-width="5.5" fill="none" stroke-linecap="round" stroke-linejoin="round" stroke-linecap="butt" stroke-opacity="0.55"/><path d="M55.0 -45.7 C59.6 -46.5 73.5 -50.6 82.7 -50.6 C91.8 -50.6 105.3 -46.5 109.8 -45.7" stroke="#e9bcb9" stroke-width="1.3" fill="none" stroke-linecap="round" stroke-linejoin="round" stroke-linecap="butt" stroke-opacity="0.9" transform="translate(0 -3.2)"/><path d="M55.0 -45.7 C59.6 -46.5 73.5 -50.6 82.7 -50.6 C91.8 -50.6 105.3 -46.5 109.8 -45.7" stroke="#e9bcb9" stroke-width="1.3" fill="none" stroke-linecap="round" stroke-linejoin="round" stroke-linecap="butt" stroke-opacity="0.9" transform="translate(0 3.2)"/><path d="M114.0 -32.1 L115.9 -31.1 L117.9 -30.1 L119.7 -29.1 L121.5 -28.2 L123.2 -27.3 L124.9 -26.3 L126.6 -25.4 L128.2 -24.4 L129.8 -23.4 L131.3 -22.4 L132.8 -21.4 L134.1 -20.4 L135.4 -19.3 L136.6 -18.1 L137.8 -16.8 L139.1 -15.5 L140.3 -14.0 L141.5 -12.5 L142.8 -11.0 L144.0 -9.5 L145.2 -7.9 L146.4 -6.3 L147.6 -4.7 L148.9 -3.1 L150.1 -1.4 L151.4 0.3 L152.7 2.0 L164.7 -7.4 L163.4 -9.0 L162.3 -10.5 L161.0 -12.2 L159.8 -13.8 L158.5 -15.5 L157.3 -17.2 L156.0 -18.8 L154.6 -20.5 L153.3 -22.2 L151.9 -23.9 L150.4 -25.5 L148.9 -27.2 L147.3 -28.9 L145.6 -30.5 L143.7 -32.1 L141.8 -33.6 L139.9 -35.0 L138.0 -36.2 L136.1 -37.4 L134.2 -38.6 L132.3 -39.6 L130.4 -40.7 L128.5 -41.7 L126.7 -42.6 L124.8 -43.6 L123.1 -44.4 L121.4 -45.4 Z" fill="#cf918d" stroke="#cf918d" stroke-width="11.8" stroke-linejoin="round"/><path d="M114.0 -32.1 L115.9 -31.1 L117.9 -30.1 L119.7 -29.1 L121.5 -28.2 L123.2 -27.3 L124.9 -26.3 L126.6 -25.4 L128.2 -24.4 L129.8 -23.4 L131.3 -22.4 L132.8 -21.4 L134.1 -20.4 L135.4 -19.3 L136.6 -18.1 L137.8 -16.8 L139.1 -15.5 L140.3 -14.0 L141.5 -12.5 L142.8 -11.0 L144.0 -9.5 L145.2 -7.9 L146.4 -6.3 L147.6 -4.7 L148.9 -3.1 L150.1 -1.4 L151.4 0.3 L152.7 2.0 L164.7 -7.4 L163.4 -9.0 L162.3 -10.5 L161.0 -12.2 L159.8 -13.8 L158.5 -15.5 L157.3 -17.2 L156.0 -18.8 L154.6 -20.5 L153.3 -22.2 L151.9 -23.9 L150.4 -25.5 L148.9 -27.2 L147.3 -28.9 L145.6 -30.5 L143.7 -32.1 L141.8 -33.6 L139.9 -35.0 L138.0 -36.2 L136.1 -37.4 L134.2 -38.6 L132.3 -39.6 L130.4 -40.7 L128.5 -41.7 L126.7 -42.6 L124.8 -43.6 L123.1 -44.4 L121.4 -45.4 Z" fill="#fceeed" stroke="#fceeed" stroke-width="10" stroke-linejoin="round"/><path d="M117.7 -38.7 C121.4 -36.5 133.1 -31.4 139.9 -25.4 C146.8 -19.4 155.6 -6.5 158.7 -2.7" stroke="#f9d9d6" stroke-width="12" fill="none" stroke-linecap="round" stroke-linejoin="round" stroke-linecap="butt" stroke-opacity="0.6"/><path d="M117.7 -38.7 C121.4 -36.5 133.1 -31.4 139.9 -25.4 C146.8 -19.4 155.6 -6.5 158.7 -2.7" stroke="#f5bfbc" stroke-width="5.5" fill="none" stroke-linecap="round" stroke-linejoin="round" stroke-linecap="butt" stroke-opacity="0.55"/><path d="M117.7 -38.7 C121.4 -36.5 133.1 -31.4 139.9 -25.4 C146.8 -19.4 155.6 -6.5 158.7 -2.7" stroke="#e9bcb9" stroke-width="1.3" fill="none" stroke-linecap="round" stroke-linejoin="round" stroke-linecap="butt" stroke-opacity="0.9" transform="translate(0 -3.2)"/><path d="M117.7 -38.7 C121.4 -36.5 133.1 -31.4 139.9 -25.4 C146.8 -19.4 155.6 -6.5 158.7 -2.7" stroke="#e9bcb9" stroke-width="1.3" fill="none" stroke-linecap="round" stroke-linejoin="round" stroke-linecap="butt" stroke-opacity="0.9" transform="translate(0 3.2)"/><path d="M155.3 13.1 L155.8 15.0 L156.3 16.9 L156.8 18.9 L157.4 21.0 L157.9 23.0 L158.5 25.1 L159.1 27.1 L159.7 29.2 L160.4 31.3 L161.2 33.4 L162.0 35.5 L163.0 37.7 L163.9 39.7 L164.9 41.7 L165.9 43.6 L166.9 45.5 L168.0 47.3 L169.0 49.1 L170.0 50.9 L171.1 52.7 L172.1 54.5 L173.2 56.3 L174.2 58.1 L175.3 59.8 L176.3 61.5 L177.3 63.3 L190.4 55.7 L189.4 53.9 L188.3 52.1 L187.3 50.3 L186.2 48.6 L185.2 46.8 L184.2 45.1 L183.2 43.3 L182.2 41.6 L181.2 39.9 L180.3 38.1 L179.3 36.4 L178.4 34.7 L177.6 33.0 L176.8 31.4 L176.1 29.7 L175.4 28.1 L174.8 26.3 L174.2 24.5 L173.6 22.7 L173.1 20.9 L172.6 19.0 L172.1 17.1 L171.6 15.1 L171.1 13.2 L170.5 11.1 L170.0 9.1 Z" fill="#cf918d" stroke="#cf918d" stroke-width="11.8" stroke-linejoin="round"/><path d="M155.3 13.1 L155.8 15.0 L156.3 16.9 L156.8 18.9 L157.4 21.0 L157.9 23.0 L158.5 25.1 L159.1 27.1 L159.7 29.2 L160.4 31.3 L161.2 33.4 L162.0 35.5 L163.0 37.7 L163.9 39.7 L164.9 41.7 L165.9 43.6 L166.9 45.5 L168.0 47.3 L169.0 49.1 L170.0 50.9 L171.1 52.7 L172.1 54.5 L173.2 56.3 L174.2 58.1 L175.3 59.8 L176.3 61.5 L177.3 63.3 L190.4 55.7 L189.4 53.9 L188.3 52.1 L187.3 50.3 L186.2 48.6 L185.2 46.8 L184.2 45.1 L183.2 43.3 L182.2 41.6 L181.2 39.9 L180.3 38.1 L179.3 36.4 L178.4 34.7 L177.6 33.0 L176.8 31.4 L176.1 29.7 L175.4 28.1 L174.8 26.3 L174.2 24.5 L173.6 22.7 L173.1 20.9 L172.6 19.0 L172.1 17.1 L171.6 15.1 L171.1 13.2 L170.5 11.1 L170.0 9.1 Z" fill="#fceeed" stroke="#fceeed" stroke-width="10" stroke-linejoin="round"/><path d="M162.6 11.1 C163.8 14.9 166.0 25.7 169.6 33.8 C173.1 41.9 181.5 55.2 183.9 59.5" stroke="#f9d9d6" stroke-width="12" fill="none" stroke-linecap="round" stroke-linejoin="round" stroke-linecap="butt" stroke-opacity="0.6"/><path d="M162.6 11.1 C163.8 14.9 166.0 25.7 169.6 33.8 C173.1 41.9 181.5 55.2 183.9 59.5" stroke="#f5bfbc" stroke-width="5.5" fill="none" stroke-linecap="round" stroke-linejoin="round" stroke-linecap="butt" stroke-opacity="0.55"/><path d="M162.6 11.1 C163.8 14.9 166.0 25.7 169.6 33.8 C173.1 41.9 181.5 55.2 183.9 59.5" stroke="#e9bcb9" stroke-width="1.3" fill="none" stroke-linecap="round" stroke-linejoin="round" stroke-linecap="butt" stroke-opacity="0.9" transform="translate(0 -3.2)"/><path d="M162.6 11.1 C163.8 14.9 166.0 25.7 169.6 33.8 C173.1 41.9 181.5 55.2 183.9 59.5" stroke="#e9bcb9" stroke-width="1.3" fill="none" stroke-linecap="round" stroke-linejoin="round" stroke-linecap="butt" stroke-opacity="0.9" transform="translate(0 3.2)"/><path d="M180.0 73.7 L180.5 75.6 L180.9 77.5 L181.4 79.4 L181.8 81.5 L182.3 83.5 L182.9 85.5 L183.4 87.6 L184.1 89.7 L184.8 91.8 L185.5 94.0 L186.4 96.1 L187.4 98.4 L188.6 100.5 L189.8 102.5 L191.0 104.4 L192.2 106.2 L193.5 108.0 L194.7 109.7 L196.0 111.4 L197.3 113.0 L198.6 114.6 L199.9 116.2 L201.1 117.8 L202.3 119.3 L203.5 120.8 L215.6 111.6 L214.3 110.0 L213.0 108.3 L211.7 106.7 L210.5 105.2 L209.3 103.6 L208.1 102.1 L206.9 100.6 L205.8 99.0 L204.7 97.5 L203.6 96.0 L202.7 94.5 L201.8 93.0 L201.0 91.6 L200.4 90.2 L199.7 88.6 L199.1 86.9 L198.6 85.2 L198.0 83.4 L197.5 81.6 L197.1 79.8 L196.6 77.9 L196.2 76.0 L195.7 74.0 L195.2 71.9 L194.7 69.9 Z" fill="#cf918d" stroke="#cf918d" stroke-width="11.8" stroke-linejoin="round"/><path d="M180.0 73.7 L180.5 75.6 L180.9 77.5 L181.4 79.4 L181.8 81.5 L182.3 83.5 L182.9 85.5 L183.4 87.6 L184.1 89.7 L184.8 91.8 L185.5 94.0 L186.4 96.1 L187.4 98.4 L188.6 100.5 L189.8 102.5 L191.0 104.4 L192.2 106.2 L193.5 108.0 L194.7 109.7 L196.0 111.4 L197.3 113.0 L198.6 114.6 L199.9 116.2 L201.1 117.8 L202.3 119.3 L203.5 120.8 L215.6 111.6 L214.3 110.0 L213.0 108.3 L211.7 106.7 L210.5 105.2 L209.3 103.6 L208.1 102.1 L206.9 100.6 L205.8 99.0 L204.7 97.5 L203.6 96.0 L202.7 94.5 L201.8 93.0 L201.0 91.6 L200.4 90.2 L199.7 88.6 L199.1 86.9 L198.6 85.2 L198.0 83.4 L197.5 81.6 L197.1 79.8 L196.6 77.9 L196.2 76.0 L195.7 74.0 L195.2 71.9 L194.7 69.9 Z" fill="#fceeed" stroke="#fceeed" stroke-width="10" stroke-linejoin="round"/><path d="M187.3 71.8 C188.5 75.7 190.5 87.6 194.2 95.0 C197.9 102.4 207.0 112.7 209.5 116.2" stroke="#f9d9d6" stroke-width="12" fill="none" stroke-linecap="round" stroke-linejoin="round" stroke-linecap="butt" stroke-opacity="0.6"/><path d="M187.3 71.8 C188.5 75.7 190.5 87.6 194.2 95.0 C197.9 102.4 207.0 112.7 209.5 116.2" stroke="#f5bfbc" stroke-width="5.5" fill="none" stroke-linecap="round" stroke-linejoin="round" stroke-linecap="butt" stroke-opacity="0.55"/><path d="M187.3 71.8 C188.5 75.7 190.5 87.6 194.2 95.0 C197.9 102.4 207.0 112.7 209.5 116.2" stroke="#e9bcb9" stroke-width="1.3" fill="none" stroke-linecap="round" stroke-linejoin="round" stroke-linecap="butt" stroke-opacity="0.9" transform="translate(0 -3.2)"/><path d="M187.3 71.8 C188.5 75.7 190.5 87.6 194.2 95.0 C197.9 102.4 207.0 112.7 209.5 116.2" stroke="#e9bcb9" stroke-width="1.3" fill="none" stroke-linecap="round" stroke-linejoin="round" stroke-linecap="butt" stroke-opacity="0.9" transform="translate(0 3.2)"/><path d="M207.6 136.9 L209.3 137.7 L211.0 138.6 L212.8 139.6 L214.6 140.6 L216.5 141.6 L218.4 142.6 L220.4 143.6 L222.4 144.5 L224.4 145.5 L226.5 146.3 L228.7 147.2 L231.0 147.9 L233.4 148.6 L235.9 149.1 L238.4 149.4 L240.8 149.6 L243.1 149.7 L245.3 149.7 L247.5 149.7 L249.7 149.6 L251.9 149.5 L254.0 149.4 L256.1 149.3 L258.2 149.1 L260.3 148.9 L262.3 148.8 L264.2 148.6 L266.2 148.5 L265.4 133.3 L263.3 133.4 L261.1 133.6 L259.0 133.8 L257.0 133.9 L255.0 134.1 L253.0 134.2 L251.1 134.3 L249.1 134.4 L247.2 134.5 L245.3 134.5 L243.5 134.5 L241.7 134.4 L240.0 134.3 L238.4 134.1 L236.9 133.8 L235.4 133.4 L233.8 132.8 L232.1 132.2 L230.5 131.5 L228.8 130.7 L227.1 129.9 L225.3 129.1 L223.6 128.2 L221.9 127.2 L220.1 126.3 L218.3 125.3 L216.3 124.2 L214.4 123.3 Z" fill="#cf918d" stroke="#cf918d" stroke-width="11.8" stroke-linejoin="round"/><path d="M207.6 136.9 L209.3 137.7 L211.0 138.6 L212.8 139.6 L214.6 140.6 L216.5 141.6 L218.4 142.6 L220.4 143.6 L222.4 144.5 L224.4 145.5 L226.5 146.3 L228.7 147.2 L231.0 147.9 L233.4 148.6 L235.9 149.1 L238.4 149.4 L240.8 149.6 L243.1 149.7 L245.3 149.7 L247.5 149.7 L249.7 149.6 L251.9 149.5 L254.0 149.4 L256.1 149.3 L258.2 149.1 L260.3 148.9 L262.3 148.8 L264.2 148.6 L266.2 148.5 L265.4 133.3 L263.3 133.4 L261.1 133.6 L259.0 133.8 L257.0 133.9 L255.0 134.1 L253.0 134.2 L251.1 134.3 L249.1 134.4 L247.2 134.5 L245.3 134.5 L243.5 134.5 L241.7 134.4 L240.0 134.3 L238.4 134.1 L236.9 133.8 L235.4 133.4 L233.8 132.8 L232.1 132.2 L230.5 131.5 L228.8 130.7 L227.1 129.9 L225.3 129.1 L223.6 128.2 L221.9 127.2 L220.1 126.3 L218.3 125.3 L216.3 124.2 L214.4 123.3 Z" fill="#fceeed" stroke="#fceeed" stroke-width="10" stroke-linejoin="round"/><path d="M211.0 130.1 C215.2 132.0 227.1 139.6 236.2 141.4 C245.3 143.2 260.9 141.0 265.8 140.9" stroke="#f9d9d6" stroke-width="12" fill="none" stroke-linecap="round" stroke-linejoin="round" stroke-linecap="butt" stroke-opacity="0.6"/><path d="M211.0 130.1 C215.2 132.0 227.1 139.6 236.2 141.4 C245.3 143.2 260.9 141.0 265.8 140.9" stroke="#f5bfbc" stroke-width="5.5" fill="none" stroke-linecap="round" stroke-linejoin="round" stroke-linecap="butt" stroke-opacity="0.55"/><path d="M211.0 130.1 C215.2 132.0 227.1 139.6 236.2 141.4 C245.3 143.2 260.9 141.0 265.8 140.9" stroke="#e9bcb9" stroke-width="1.3" fill="none" stroke-linecap="round" stroke-linejoin="round" stroke-linecap="butt" stroke-opacity="0.9" transform="translate(0 -3.2)"/><path d="M211.0 130.1 C215.2 132.0 227.1 139.6 236.2 141.4 C245.3 143.2 260.9 141.0 265.8 140.9" stroke="#e9bcb9" stroke-width="1.3" fill="none" stroke-linecap="round" stroke-linejoin="round" stroke-linecap="butt" stroke-opacity="0.9" transform="translate(0 3.2)"/><path d="M273.2 136.5 C273.5 131.2 272.5 113.8 275.2 104.9 C277.9 96.0 287.1 86.8 289.5 83.2" stroke="#b8736f" stroke-width="3.3" fill="none" stroke-linecap="round" stroke-linejoin="round" /><path d="M273.2 136.5 C274.8 130.8 277.4 111.4 282.6 102.4 C287.8 93.5 300.7 86.0 304.3 82.7" stroke="#b8736f" stroke-width="3.3" fill="none" stroke-linecap="round" stroke-linejoin="round" /><path d="M273.2 136.5 C276.4 130.0 283.4 106.0 292.5 97.5 C301.5 89.0 321.7 87.6 327.5 85.6" stroke="#b8736f" stroke-width="3.3" fill="none" stroke-linecap="round" stroke-linejoin="round" /><path d="M273.2 136.5 C276.0 133.3 282.8 121.8 290.0 117.2 C297.2 112.7 312.0 110.6 316.4 109.3" stroke="#b8736f" stroke-width="3.3" fill="none" stroke-linecap="round" stroke-linejoin="round" /><path d="M273.2 136.5 C277.6 133.7 290.3 124.3 299.9 119.7 C309.4 115.1 325.6 110.9 330.7 109.1" stroke="#b8736f" stroke-width="3.3" fill="none" stroke-linecap="round" stroke-linejoin="round" /><path d="M273.2 136.5 C278.5 135.3 295.1 131.3 304.8 129.6 C314.5 127.8 327.0 126.5 331.4 125.9" stroke="#b8736f" stroke-width="3.3" fill="none" stroke-linecap="round" stroke-linejoin="round" /><path d="M273.2 136.5 C277.2 136.2 290.6 135.2 297.4 134.5 C304.2 133.8 311.4 132.4 314.2 132.0" stroke="#b8736f" stroke-width="3.3" fill="none" stroke-linecap="round" stroke-linejoin="round" /><path d="M273.2 136.5 C278.5 137.8 296.0 143.5 304.8 144.4 C313.6 145.3 322.3 142.3 325.8 141.9" stroke="#b8736f" stroke-width="3.3" fill="none" stroke-linecap="round" stroke-linejoin="round" /><circle cx="289.5" cy="83.2" r="2.6" fill="#f6dcd9" stroke="#b8736f" stroke-width="1.5"/><circle cx="304.3" cy="82.7" r="2.6" fill="#f6dcd9" stroke="#b8736f" stroke-width="1.5"/><circle cx="327.5" cy="85.6" r="2.6" fill="#f6dcd9" stroke="#b8736f" stroke-width="1.5"/><circle cx="316.4" cy="109.3" r="2.6" fill="#f6dcd9" stroke="#b8736f" stroke-width="1.5"/><circle cx="330.7" cy="109.1" r="2.6" fill="#f6dcd9" stroke="#b8736f" stroke-width="1.5"/><circle cx="331.4" cy="125.9" r="2.6" fill="#f6dcd9" stroke="#b8736f" stroke-width="1.5"/><circle cx="314.2" cy="132.0" r="2.6" fill="#f6dcd9" stroke="#b8736f" stroke-width="1.5"/><circle cx="325.8" cy="141.9" r="2.6" fill="#f6dcd9" stroke="#b8736f" stroke-width="1.5"/></g>
<text x="1815.0" y="1912.0" font-size="49.3" fill="#7d4a1e" text-anchor="start" >Injured neuron</text>
<text x="2220.2" y="1675.4" font-size="49.0" fill="#595757" text-anchor="start" >Repair</text>
<path d="M2072 1693 C 2150 1690, 2235 1640, 2246 1523 L2266.9 1529.2 L2233.5 1474.9 L2218.3 1535.7 L2232 1526 C 2222 1620, 2150 1672, 2072 1679 Z" fill="url(#rep)"/>
<path d="M1293.9 1494.3 L1304.2 1515.1 L1327.2 1518.5 L1310.5 1534.7 L1314.5 1557.6 L1293.9 1546.8 L1273.3 1557.6 L1277.3 1534.7 L1260.6 1518.5 L1283.6 1515.1 Z" fill="url(#stg)"/>
<path d="M1231.7 1560.3 L1240.8 1578.8 L1261.2 1581.7 L1246.4 1596.1 L1249.9 1616.4 L1231.7 1606.8 L1213.5 1616.4 L1217.0 1596.1 L1202.2 1581.7 L1222.6 1578.8 Z" fill="url(#stg)"/>
<path d="M1324.8 1610.2 L1333.9 1628.7 L1354.3 1631.6 L1339.5 1646.0 L1343.0 1666.3 L1324.8 1656.7 L1306.6 1666.3 L1310.1 1646.0 L1295.3 1631.6 L1315.7 1628.7 Z" fill="url(#stg)"/>
<path d="M1254.3 1676.5 L1262.1 1692.3 L1279.6 1694.9 L1266.9 1707.2 L1269.9 1724.6 L1254.3 1716.4 L1238.7 1724.6 L1241.7 1707.2 L1229.0 1694.9 L1246.5 1692.3 Z" fill="url(#stg)"/>
<path d="M1319.8 1706.3 L1325.9 1718.6 L1339.5 1720.6 L1329.6 1730.2 L1332.0 1743.7 L1319.8 1737.3 L1307.6 1743.7 L1310.0 1730.2 L1300.1 1720.6 L1313.7 1718.6 Z" fill="url(#stg)"/>
<path d="M159.2 1056.8 L169.5 1071.5 L187.5 1071.2 L176.7 1085.6 L182.5 1102.6 L165.5 1096.8 L151.1 1107.6 L151.4 1089.6 L136.7 1079.3 L153.9 1074.0 Z" fill="url(#stg)"/>
<path d="M101.5 1119.7 L110.3 1132.6 L125.9 1132.7 L116.4 1145.0 L121.1 1159.9 L106.4 1154.6 L93.8 1163.7 L94.2 1148.2 L81.7 1138.9 L96.6 1134.5 Z" fill="url(#stg)"/>
<path d="M164.9 1132.2 L174.4 1146.2 L191.3 1146.3 L181.0 1159.7 L186.1 1175.8 L170.2 1170.1 L156.4 1180.0 L156.9 1163.1 L143.3 1153.1 L159.5 1148.3 Z" fill="url(#stg)"/>
<path d="M97.6 1181.2 L104.1 1190.8 L115.7 1190.8 L108.6 1200.0 L112.2 1211.1 L101.2 1207.2 L91.8 1214.0 L92.1 1202.3 L82.8 1195.5 L93.9 1192.2 Z" fill="url(#stg)"/>
<circle cx="1470.5" cy="1578.2" r="10.2" fill="url(#hg)"/><circle cx="1541.9" cy="1532.7" r="10.2" fill="url(#hg)"/><circle cx="1495.5" cy="1568.3" r="17.6" fill="url(#hb)"/><circle cx="1515.4" cy="1540.7" r="17.6" fill="url(#hb)"/>
<circle cx="1487.5" cy="1666.5" r="12.0" fill="url(#hg)"/><circle cx="1571.0" cy="1612.4" r="12.0" fill="url(#hg)"/><circle cx="1517.4" cy="1654.3" r="20.5" fill="url(#hb)"/><circle cx="1540.2" cy="1621.8" r="20.5" fill="url(#hb)"/>
<circle cx="449.0" cy="1110.7" r="6.5" fill="url(#hg)"/><circle cx="441.4" cy="1165.4" r="6.5" fill="url(#hg)"/><circle cx="441.8" cy="1127.3" r="11.5" fill="url(#hb)"/><circle cx="447.3" cy="1148.4" r="11.5" fill="url(#hb)"/>
<circle cx="509.2" cy="1122.0" r="8.2" fill="url(#hg)"/><circle cx="517.4" cy="1183.5" r="8.2" fill="url(#hg)"/><circle cx="505.9" cy="1142.0" r="14.0" fill="url(#hb)"/><circle cx="519.2" cy="1163.7" r="14.0" fill="url(#hb)"/>
<circle cx="475.9" cy="1163.0" r="7.0" fill="url(#hg)"/><circle cx="479.6" cy="1216.2" r="7.0" fill="url(#hg)"/><circle cx="472.0" cy="1180.3" r="11.9" fill="url(#hb)"/><circle cx="482.2" cy="1199.2" r="11.9" fill="url(#hb)"/>
<circle cx="775.0" cy="1055.3" r="9.2" fill="url(#hg)"/><circle cx="829.5" cy="1105.6" r="9.2" fill="url(#hg)"/><circle cx="787.3" cy="1076.1" r="16.0" fill="url(#hb)"/><circle cx="816.0" cy="1085.6" r="16.0" fill="url(#hb)"/>
<circle cx="774.2" cy="1120.7" r="6.4" fill="url(#hg)"/><circle cx="800.6" cy="1167.1" r="6.4" fill="url(#hg)"/><circle cx="778.3" cy="1137.4" r="11.3" fill="url(#hb)"/><circle cx="795.0" cy="1150.9" r="11.3" fill="url(#hb)"/>
<circle cx="740.6" cy="1150.9" r="6.6" fill="url(#hg)"/><circle cx="767.8" cy="1198.9" r="6.6" fill="url(#hg)"/><circle cx="745.0" cy="1168.1" r="11.3" fill="url(#hb)"/><circle cx="762.1" cy="1182.2" r="11.3" fill="url(#hb)"/>
<text x="1204.2" y="1809.8" font-size="48.6" fill="#6a3906" text-anchor="start" >Lactate</text>
<text x="1477.6" y="1752.5" font-size="49.0" fill="#0b68b4" text-anchor="start" >H<tspan font-size="27.9" stroke="#0b68b4" stroke-width="1.08">2</tspan>O<tspan font-size="27.9" stroke="#0b68b4" stroke-width="1.08">2</tspan></text>
</svg>
</body></html>
